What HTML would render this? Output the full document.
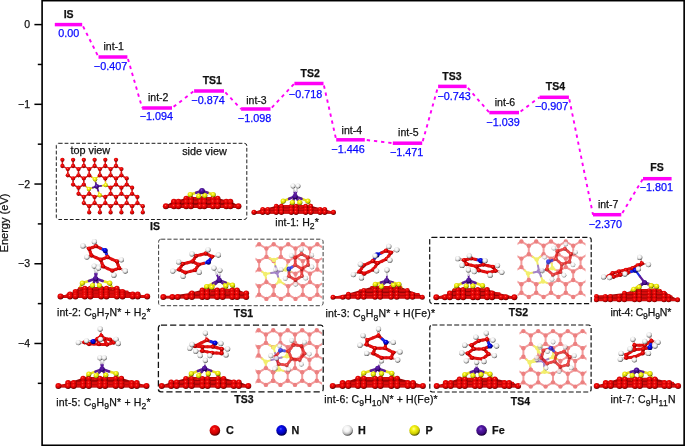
<!DOCTYPE html>
<html><head><meta charset="utf-8"><title>Energy profile</title>
<style>html,body{margin:0;padding:0;background:#fff}svg{display:block}</style></head>
<body><svg width="685" height="446" viewBox="0 0 685 446" font-family='"Liberation Sans", Arial, Helvetica, sans-serif' fill="#111"><style>text{stroke:#111;stroke-width:0.25px}text.b{fill:#0808ff;stroke:#0808ff}</style>
<defs>
<radialGradient id="gC" cx="42%" cy="36%" r="62%"><stop offset="0" stop-color="#ff6a58"/><stop offset="0.22" stop-color="#f40c0c"/><stop offset="0.7" stop-color="#cc0000"/><stop offset="1" stop-color="#5c0000"/></radialGradient>
<radialGradient id="gN" cx="42%" cy="36%" r="62%"><stop offset="0" stop-color="#5a6aff"/><stop offset="0.22" stop-color="#0a10f4"/><stop offset="0.7" stop-color="#0000b8"/><stop offset="1" stop-color="#00004a"/></radialGradient>
<radialGradient id="gH" cx="42%" cy="36%" r="62%"><stop offset="0" stop-color="#ffffff"/><stop offset="0.45" stop-color="#f2f2f2"/><stop offset="0.8" stop-color="#b8b8b8"/><stop offset="1" stop-color="#4e4e4e"/></radialGradient>
<radialGradient id="gP" cx="42%" cy="36%" r="62%"><stop offset="0" stop-color="#ffffa0"/><stop offset="0.3" stop-color="#f8f418"/><stop offset="0.75" stop-color="#cccc00"/><stop offset="1" stop-color="#5a5a00"/></radialGradient>
<radialGradient id="gF" cx="42%" cy="36%" r="62%"><stop offset="0" stop-color="#8a62d4"/><stop offset="0.3" stop-color="#5418a6"/><stop offset="0.75" stop-color="#3c0a80"/><stop offset="1" stop-color="#180038"/></radialGradient>
</defs>

<rect x="42.1" y="0.65" width="642.05" height="444.65000000000003" fill="none" stroke="#000" stroke-width="1.65"/>
<line x1="34.4" y1="24.60" x2="42.1" y2="24.60" stroke="#000" stroke-width="1.5"/>
<text x="30" y="28.30" text-anchor="end" font-size="10.5">0</text>
<line x1="37.8" y1="64.46" x2="42.1" y2="64.46" stroke="#000" stroke-width="1.5"/>
<line x1="34.4" y1="104.32" x2="42.1" y2="104.32" stroke="#000" stroke-width="1.5"/>
<text x="30" y="108.02" text-anchor="end" font-size="10.5">−1</text>
<line x1="37.8" y1="144.18" x2="42.1" y2="144.18" stroke="#000" stroke-width="1.5"/>
<line x1="34.4" y1="184.04" x2="42.1" y2="184.04" stroke="#000" stroke-width="1.5"/>
<text x="30" y="187.74" text-anchor="end" font-size="10.5">−2</text>
<line x1="37.8" y1="223.90" x2="42.1" y2="223.90" stroke="#000" stroke-width="1.5"/>
<line x1="34.4" y1="263.76" x2="42.1" y2="263.76" stroke="#000" stroke-width="1.5"/>
<text x="30" y="267.46" text-anchor="end" font-size="10.5">−3</text>
<line x1="37.8" y1="303.62" x2="42.1" y2="303.62" stroke="#000" stroke-width="1.5"/>
<line x1="34.4" y1="343.48" x2="42.1" y2="343.48" stroke="#000" stroke-width="1.5"/>
<text x="30" y="347.18" text-anchor="end" font-size="10.5">−4</text>
<line x1="37.8" y1="383.34" x2="42.1" y2="383.34" stroke="#000" stroke-width="1.5"/>
<text transform="translate(8.4,223) rotate(-90)" text-anchor="middle" font-size="11.05">Energy (eV)</text>
<line x1="82.2" y1="24.6" x2="98.5" y2="57.0" stroke="#ff00f6" stroke-width="1.9" stroke-dasharray="3.3 3.9" stroke-dashoffset="5.2"/>
<line x1="127.4" y1="57.0" x2="142.2" y2="108.0" stroke="#ff00f6" stroke-width="1.9" stroke-dasharray="3.3 3.9" stroke-dashoffset="5.2"/>
<line x1="172.0" y1="108.0" x2="194.1" y2="91.0" stroke="#ff00f6" stroke-width="1.9" stroke-dasharray="3.3 3.9" stroke-dashoffset="5.2"/>
<line x1="224.0" y1="91.0" x2="241.1" y2="109.0" stroke="#ff00f6" stroke-width="1.9" stroke-dasharray="3.3 3.9" stroke-dashoffset="5.2"/>
<line x1="270.5" y1="109.0" x2="294.4" y2="83.5" stroke="#ff00f6" stroke-width="1.9" stroke-dasharray="3.3 3.9" stroke-dashoffset="5.2"/>
<line x1="323.5" y1="83.5" x2="336.2" y2="139.8" stroke="#ff00f6" stroke-width="1.9" stroke-dasharray="3.3 3.9" stroke-dashoffset="5.2"/>
<line x1="364.8" y1="139.8" x2="392.8" y2="143.2" stroke="#ff00f6" stroke-width="1.9" stroke-dasharray="3.3 3.9" stroke-dashoffset="5.2"/>
<line x1="422.2" y1="143.2" x2="438.1" y2="86.4" stroke="#ff00f6" stroke-width="1.9" stroke-dasharray="3.3 3.9" stroke-dashoffset="5.2"/>
<line x1="466.6" y1="86.4" x2="489.3" y2="112.6" stroke="#ff00f6" stroke-width="1.9" stroke-dasharray="3.3 3.9" stroke-dashoffset="5.2"/>
<line x1="519.0" y1="112.6" x2="539.6" y2="97.3" stroke="#ff00f6" stroke-width="1.9" stroke-dasharray="3.3 3.9" stroke-dashoffset="5.2"/>
<line x1="568.9" y1="97.3" x2="593.0" y2="214.7" stroke="#ff00f6" stroke-width="1.9" stroke-dasharray="3.3 3.9" stroke-dashoffset="5.2"/>
<line x1="621.3" y1="214.7" x2="643.0" y2="178.7" stroke="#ff00f6" stroke-width="1.9" stroke-dasharray="3.3 3.9" stroke-dashoffset="5.2"/>
<line x1="54.8" y1="24.6" x2="82.2" y2="24.6" stroke="#ff00f6" stroke-width="3.5"/>
<text x="68.6" y="18.1" text-anchor="middle" font-size="10.5" font-weight="bold">IS</text>
<text x="68.8" y="37.2" text-anchor="middle" font-size="10.8" class="b">0.00</text>
<line x1="98.5" y1="57.0" x2="127.4" y2="57.0" stroke="#ff00f6" stroke-width="3.5"/>
<text x="113.7" y="50.2" text-anchor="middle" font-size="10.5">int-1</text>
<text x="110.5" y="70.3" text-anchor="middle" font-size="10.8" class="b">−0.407</text>
<line x1="142.2" y1="108.0" x2="172.0" y2="108.0" stroke="#ff00f6" stroke-width="3.5"/>
<text x="158.2" y="100.9" text-anchor="middle" font-size="10.5">int-2</text>
<text x="156.3" y="120.4" text-anchor="middle" font-size="10.8" class="b">−1.094</text>
<line x1="194.1" y1="91.0" x2="224.0" y2="91.0" stroke="#ff00f6" stroke-width="3.5"/>
<text x="212.3" y="84.0" text-anchor="middle" font-size="10.5" font-weight="bold">TS1</text>
<text x="208.0" y="103.6" text-anchor="middle" font-size="10.8" class="b">−0.874</text>
<line x1="241.1" y1="109.0" x2="270.5" y2="109.0" stroke="#ff00f6" stroke-width="3.5"/>
<text x="256.5" y="103.8" text-anchor="middle" font-size="10.5">int-3</text>
<text x="254.5" y="121.5" text-anchor="middle" font-size="10.8" class="b">−1.098</text>
<line x1="294.4" y1="83.5" x2="323.5" y2="83.5" stroke="#ff00f6" stroke-width="3.5"/>
<text x="310.2" y="76.6" text-anchor="middle" font-size="10.5" font-weight="bold">TS2</text>
<text x="305.5" y="97.5" text-anchor="middle" font-size="10.8" class="b">−0.718</text>
<line x1="336.2" y1="139.8" x2="364.8" y2="139.8" stroke="#ff00f6" stroke-width="3.5"/>
<text x="351.8" y="134.0" text-anchor="middle" font-size="10.5">int-4</text>
<text x="348.0" y="152.7" text-anchor="middle" font-size="10.8" class="b">−1.446</text>
<line x1="392.8" y1="143.2" x2="422.2" y2="143.2" stroke="#ff00f6" stroke-width="3.5"/>
<text x="408.3" y="136.4" text-anchor="middle" font-size="10.5">int-5</text>
<text x="406.6" y="156.3" text-anchor="middle" font-size="10.8" class="b">−1.471</text>
<line x1="438.1" y1="86.4" x2="466.6" y2="86.4" stroke="#ff00f6" stroke-width="3.5"/>
<text x="452.0" y="79.9" text-anchor="middle" font-size="10.5" font-weight="bold">TS3</text>
<text x="454.2" y="100.0" text-anchor="middle" font-size="10.8" class="b">−0.743</text>
<line x1="489.3" y1="112.6" x2="519.0" y2="112.6" stroke="#ff00f6" stroke-width="3.5"/>
<text x="505.0" y="105.9" text-anchor="middle" font-size="10.5">int-6</text>
<text x="503.0" y="125.5" text-anchor="middle" font-size="10.8" class="b">−1.039</text>
<line x1="539.6" y1="97.3" x2="568.9" y2="97.3" stroke="#ff00f6" stroke-width="3.5"/>
<text x="555.4" y="90.0" text-anchor="middle" font-size="10.5" font-weight="bold">TS4</text>
<text x="551.7" y="110.1" text-anchor="middle" font-size="10.8" class="b">−0.907</text>
<line x1="593.0" y1="214.7" x2="621.3" y2="214.7" stroke="#ff00f6" stroke-width="3.5"/>
<text x="608.1" y="208.4" text-anchor="middle" font-size="10.5">int-7</text>
<text x="605.4" y="227.5" text-anchor="middle" font-size="10.8" class="b">−2.370</text>
<line x1="643.0" y1="178.7" x2="671.6" y2="178.7" stroke="#ff00f6" stroke-width="3.5"/>
<text x="657.0" y="171.4" text-anchor="middle" font-size="10.5" font-weight="bold">FS</text>
<text x="656.3" y="191.4" text-anchor="middle" font-size="10.8" class="b">−1.801</text>
<rect x="56.3" y="143.3" width="190.5" height="76.2" rx="2.5" fill="none" stroke="#111" stroke-width="0.95" stroke-dasharray="3.8 2.0"/>
<rect x="158.6" y="239.2" width="164.5" height="66.5" rx="2.5" fill="none" stroke="#333" stroke-width="0.95" stroke-dasharray="4.2 2.0"/>
<rect x="429.7" y="237.3" width="161.5" height="66.3" rx="2.5" fill="none" stroke="#111" stroke-width="1.2" stroke-dasharray="5.2 2.3"/>
<rect x="158.4" y="325.2" width="164.8" height="66.6" rx="2.5" fill="none" stroke="#111" stroke-width="1.3" stroke-dasharray="6.2 3.0"/>
<rect x="429.8" y="325.0" width="161.3" height="67.0" rx="2.5" fill="none" stroke="#111" stroke-width="1.2" stroke-dasharray="5.0 2.3"/>
<text x="155" y="229.6" text-anchor="middle" font-size="10.5" font-weight="bold">IS</text>
<text x="275.2" y="226.2" text-anchor="start" font-size="10.5" textLength="43.6" lengthAdjust="spacing">int-1: H<tspan font-size="8.6" dy="3.2">2</tspan><tspan dy="-3.2">*</tspan></text>
<text x="56.9" y="315.8" text-anchor="start" font-size="10.5" textLength="93.6" lengthAdjust="spacing">int-2: C<tspan font-size="8.6" dy="3.2">9</tspan><tspan dy="-3.2">H</tspan><tspan font-size="8.6" dy="3.2">7</tspan><tspan dy="-3.2">N* + H</tspan><tspan font-size="8.6" dy="3.2">2</tspan><tspan dy="-3.2">*</tspan></text>
<text x="243.5" y="317.4" text-anchor="middle" font-size="10.5" font-weight="bold">TS1</text>
<text x="325.4" y="317.3" text-anchor="start" font-size="10.5" textLength="109.6" lengthAdjust="spacing">int-3: C<tspan font-size="8.6" dy="3.2">9</tspan><tspan dy="-3.2">H</tspan><tspan font-size="8.6" dy="3.2">8</tspan><tspan dy="-3.2">N* + H(Fe)*</tspan></text>
<text x="518.5" y="316.2" text-anchor="middle" font-size="10.5" font-weight="bold">TS2</text>
<text x="610.5" y="316.2" text-anchor="start" font-size="10.5" textLength="60.8" lengthAdjust="spacing">int-4: C<tspan font-size="8.6" dy="3.2">9</tspan><tspan dy="-3.2">H</tspan><tspan font-size="8.6" dy="3.2">9</tspan><tspan dy="-3.2">N*</tspan></text>
<text x="56.3" y="405.5" text-anchor="start" font-size="10.5" textLength="94.3" lengthAdjust="spacing">int-5: C<tspan font-size="8.6" dy="3.2">9</tspan><tspan dy="-3.2">H</tspan><tspan font-size="8.6" dy="3.2">9</tspan><tspan dy="-3.2">N* + H</tspan><tspan font-size="8.6" dy="3.2">2</tspan><tspan dy="-3.2">*</tspan></text>
<text x="244" y="403.2" text-anchor="middle" font-size="10.5" font-weight="bold">TS3</text>
<text x="324.3" y="402.9" text-anchor="start" font-size="10.5" textLength="113.3" lengthAdjust="spacing">int-6: C<tspan font-size="8.6" dy="3.2">9</tspan><tspan dy="-3.2">H</tspan><tspan font-size="8.6" dy="3.2">10</tspan><tspan dy="-3.2">N* + H(Fe)*</tspan></text>
<text x="520.4" y="405.4" text-anchor="middle" font-size="10.5" font-weight="bold">TS4</text>
<text x="610.5" y="402.9" text-anchor="start" font-size="10.5" textLength="65.0" lengthAdjust="spacing">int-7: C<tspan font-size="8.6" dy="3.2">9</tspan><tspan dy="-3.2">H</tspan><tspan font-size="8.6" dy="3.2">11</tspan><tspan dy="-3.2">N</tspan></text>
<text x="90.3" y="153.5" text-anchor="middle" font-size="10.85">top view</text>
<text x="204.5" y="155.3" text-anchor="middle" font-size="10.85">side view</text>
<circle cx="214.9" cy="430.4" r="5.3" fill="url(#gC)"/>
<text x="226" y="434.2" text-anchor="start" font-size="10.8" font-weight="bold">C</text>
<circle cx="281.6" cy="430.4" r="5.3" fill="url(#gN)"/>
<text x="291.6" y="434.2" text-anchor="start" font-size="10.8" font-weight="bold">N</text>
<circle cx="347.6" cy="430.4" r="5.3" fill="url(#gH)"/>
<text x="358.1" y="434.2" text-anchor="start" font-size="10.8" font-weight="bold">H</text>
<circle cx="414.6" cy="430.4" r="5.3" fill="url(#gP)"/>
<text x="425.6" y="434.2" text-anchor="start" font-size="10.8" font-weight="bold">P</text>
<circle cx="481.6" cy="430.4" r="5.3" fill="url(#gF)"/>
<text x="492.1" y="434.2" text-anchor="start" font-size="10.8" font-weight="bold">Fe</text>
<g stroke-linecap="round" fill="none"><path d="M62.4 159.8L62.4 162.9" stroke="#e01818" stroke-width="1.4"/>
<path d="M62.4 162.9L62.4 166.0" stroke="#e01818" stroke-width="1.4"/>
<path d="M62.4 166.0L65.1 167.5" stroke="#e01818" stroke-width="1.4"/>
<path d="M65.1 167.5L67.8 169.1" stroke="#e01818" stroke-width="1.4"/>
<path d="M73.1 159.8L73.1 162.9" stroke="#e01818" stroke-width="1.4"/>
<path d="M73.1 162.9L73.1 166.0" stroke="#e01818" stroke-width="1.4"/>
<path d="M73.1 166.0L75.8 167.5" stroke="#e01818" stroke-width="1.4"/>
<path d="M75.8 167.5L78.5 169.1" stroke="#e01818" stroke-width="1.4"/>
<path d="M73.1 166.0L70.4 167.5" stroke="#e01818" stroke-width="1.4"/>
<path d="M70.4 167.5L67.8 169.1" stroke="#e01818" stroke-width="1.4"/>
<path d="M83.8 159.8L83.8 162.9" stroke="#e01818" stroke-width="1.4"/>
<path d="M83.8 162.9L83.8 166.0" stroke="#e01818" stroke-width="1.4"/>
<path d="M83.8 166.0L86.5 167.5" stroke="#e01818" stroke-width="1.4"/>
<path d="M86.5 167.5L89.2 169.1" stroke="#e01818" stroke-width="1.4"/>
<path d="M83.8 166.0L81.2 167.5" stroke="#e01818" stroke-width="1.4"/>
<path d="M81.2 167.5L78.5 169.1" stroke="#e01818" stroke-width="1.4"/>
<path d="M94.6 159.8L94.6 162.9" stroke="#e01818" stroke-width="1.4"/>
<path d="M94.6 162.9L94.6 166.0" stroke="#e01818" stroke-width="1.4"/>
<path d="M94.6 166.0L97.2 167.5" stroke="#e01818" stroke-width="1.4"/>
<path d="M97.2 167.5L99.9 169.1" stroke="#e01818" stroke-width="1.4"/>
<path d="M94.6 166.0L91.9 167.5" stroke="#e01818" stroke-width="1.4"/>
<path d="M91.9 167.5L89.2 169.1" stroke="#e01818" stroke-width="1.4"/>
<path d="M105.3 159.8L105.3 162.9" stroke="#e01818" stroke-width="1.4"/>
<path d="M105.3 162.9L105.3 166.0" stroke="#e01818" stroke-width="1.4"/>
<path d="M105.3 166.0L108.0 167.5" stroke="#e01818" stroke-width="1.4"/>
<path d="M108.0 167.5L110.6 169.1" stroke="#e01818" stroke-width="1.4"/>
<path d="M105.3 166.0L102.6 167.5" stroke="#e01818" stroke-width="1.4"/>
<path d="M102.6 167.5L99.9 169.1" stroke="#e01818" stroke-width="1.4"/>
<path d="M116.0 159.8L116.0 162.9" stroke="#e01818" stroke-width="1.4"/>
<path d="M116.0 162.9L116.0 166.0" stroke="#e01818" stroke-width="1.4"/>
<path d="M116.0 166.0L118.7 167.5" stroke="#e01818" stroke-width="1.4"/>
<path d="M118.7 167.5L121.4 169.1" stroke="#e01818" stroke-width="1.4"/>
<path d="M116.0 166.0L113.3 167.5" stroke="#e01818" stroke-width="1.4"/>
<path d="M113.3 167.5L110.6 169.1" stroke="#e01818" stroke-width="1.4"/>
<path d="M67.8 169.1L67.8 172.2" stroke="#e01818" stroke-width="1.4"/>
<path d="M67.8 172.2L67.8 175.3" stroke="#e01818" stroke-width="1.4"/>
<path d="M67.8 175.3L70.4 176.8" stroke="#e01818" stroke-width="1.4"/>
<path d="M70.4 176.8L73.1 178.4" stroke="#e01818" stroke-width="1.4"/>
<path d="M78.5 169.1L78.5 172.2" stroke="#e01818" stroke-width="1.4"/>
<path d="M78.5 172.2L78.5 175.3" stroke="#e01818" stroke-width="1.4"/>
<path d="M78.5 175.3L81.2 176.8" stroke="#e01818" stroke-width="1.4"/>
<path d="M81.2 176.8L83.8 178.4" stroke="#e01818" stroke-width="1.4"/>
<path d="M78.5 175.3L75.8 176.8" stroke="#e01818" stroke-width="1.4"/>
<path d="M75.8 176.8L73.1 178.4" stroke="#e01818" stroke-width="1.4"/>
<path d="M89.2 169.1L89.2 172.2" stroke="#e01818" stroke-width="1.4"/>
<path d="M89.2 172.2L89.2 175.3" stroke="#e01818" stroke-width="1.4"/>
<path d="M89.2 175.3L92.1 177.3" stroke="#e01818" stroke-width="1.4"/>
<path d="M92.1 177.3L95.0 179.3" stroke="#e8e020" stroke-width="1.4"/>
<path d="M89.2 175.3L86.5 176.8" stroke="#e01818" stroke-width="1.4"/>
<path d="M86.5 176.8L83.8 178.4" stroke="#e01818" stroke-width="1.4"/>
<path d="M99.9 169.1L99.9 172.2" stroke="#e01818" stroke-width="1.4"/>
<path d="M99.9 172.2L99.9 175.3" stroke="#e01818" stroke-width="1.4"/>
<path d="M99.9 175.3L102.6 176.8" stroke="#e01818" stroke-width="1.4"/>
<path d="M102.6 176.8L105.3 178.4" stroke="#e01818" stroke-width="1.4"/>
<path d="M99.9 175.3L97.5 177.3" stroke="#e01818" stroke-width="1.4"/>
<path d="M97.5 177.3L95.0 179.3" stroke="#e8e020" stroke-width="1.4"/>
<path d="M110.6 169.1L110.6 172.2" stroke="#e01818" stroke-width="1.4"/>
<path d="M110.6 172.2L110.6 175.3" stroke="#e01818" stroke-width="1.4"/>
<path d="M110.6 175.3L113.3 176.8" stroke="#e01818" stroke-width="1.4"/>
<path d="M113.3 176.8L116.0 178.4" stroke="#e01818" stroke-width="1.4"/>
<path d="M110.6 175.3L108.0 176.8" stroke="#e01818" stroke-width="1.4"/>
<path d="M108.0 176.8L105.3 178.4" stroke="#e01818" stroke-width="1.4"/>
<path d="M121.4 169.1L121.4 172.2" stroke="#e01818" stroke-width="1.4"/>
<path d="M121.4 172.2L121.4 175.3" stroke="#e01818" stroke-width="1.4"/>
<path d="M121.4 175.3L124.0 176.8" stroke="#e01818" stroke-width="1.4"/>
<path d="M124.0 176.8L126.7 178.4" stroke="#e01818" stroke-width="1.4"/>
<path d="M121.4 175.3L118.7 176.8" stroke="#e01818" stroke-width="1.4"/>
<path d="M118.7 176.8L116.0 178.4" stroke="#e01818" stroke-width="1.4"/>
<path d="M73.1 178.4L73.1 181.5" stroke="#e01818" stroke-width="1.4"/>
<path d="M73.1 181.5L73.1 184.6" stroke="#e01818" stroke-width="1.4"/>
<path d="M73.1 184.6L75.8 186.1" stroke="#e01818" stroke-width="1.4"/>
<path d="M75.8 186.1L78.5 187.7" stroke="#e01818" stroke-width="1.4"/>
<path d="M83.8 178.4L83.8 181.5" stroke="#e01818" stroke-width="1.4"/>
<path d="M83.8 181.5L83.8 184.6" stroke="#e01818" stroke-width="1.4"/>
<path d="M83.8 184.6L86.4 186.8" stroke="#e01818" stroke-width="1.4"/>
<path d="M86.4 186.8L88.9 189.0" stroke="#e8e020" stroke-width="1.4"/>
<path d="M83.8 184.6L81.2 186.1" stroke="#e01818" stroke-width="1.4"/>
<path d="M81.2 186.1L78.5 187.7" stroke="#e01818" stroke-width="1.4"/>
<path d="M105.3 178.4L105.5 181.7" stroke="#e01818" stroke-width="1.4"/>
<path d="M105.5 181.7L105.7 185.1" stroke="#e8e020" stroke-width="1.4"/>
<path d="M105.7 185.1L108.2 186.4" stroke="#e8e020" stroke-width="1.4"/>
<path d="M108.2 186.4L110.6 187.7" stroke="#e01818" stroke-width="1.4"/>
<path d="M116.0 178.4L116.0 181.5" stroke="#e01818" stroke-width="1.4"/>
<path d="M116.0 181.5L116.0 184.6" stroke="#e01818" stroke-width="1.4"/>
<path d="M116.0 184.6L118.7 186.1" stroke="#e01818" stroke-width="1.4"/>
<path d="M118.7 186.1L121.4 187.7" stroke="#e01818" stroke-width="1.4"/>
<path d="M116.0 184.6L113.3 186.1" stroke="#e01818" stroke-width="1.4"/>
<path d="M113.3 186.1L110.6 187.7" stroke="#e01818" stroke-width="1.4"/>
<path d="M126.7 178.4L126.7 181.5" stroke="#e01818" stroke-width="1.4"/>
<path d="M126.7 181.5L126.7 184.6" stroke="#e01818" stroke-width="1.4"/>
<path d="M126.7 184.6L129.4 186.1" stroke="#e01818" stroke-width="1.4"/>
<path d="M129.4 186.1L132.1 187.7" stroke="#e01818" stroke-width="1.4"/>
<path d="M126.7 184.6L124.0 186.1" stroke="#e01818" stroke-width="1.4"/>
<path d="M124.0 186.1L121.4 187.7" stroke="#e01818" stroke-width="1.4"/>
<path d="M78.5 187.7L78.5 190.7" stroke="#e01818" stroke-width="1.4"/>
<path d="M78.5 190.7L78.5 193.8" stroke="#e01818" stroke-width="1.4"/>
<path d="M78.5 193.8L81.2 195.4" stroke="#e01818" stroke-width="1.4"/>
<path d="M81.2 195.4L83.8 196.9" stroke="#e01818" stroke-width="1.4"/>
<path d="M88.9 189.0L89.1 191.4" stroke="#e8e020" stroke-width="1.4"/>
<path d="M89.1 191.4L89.2 193.8" stroke="#e01818" stroke-width="1.4"/>
<path d="M89.2 193.8L91.9 195.4" stroke="#e01818" stroke-width="1.4"/>
<path d="M91.9 195.4L94.6 196.9" stroke="#e01818" stroke-width="1.4"/>
<path d="M89.2 193.8L86.5 195.4" stroke="#e01818" stroke-width="1.4"/>
<path d="M86.5 195.4L83.8 196.9" stroke="#e01818" stroke-width="1.4"/>
<path d="M99.8 195.2L102.5 196.1" stroke="#e8e020" stroke-width="1.4"/>
<path d="M102.5 196.1L105.3 196.9" stroke="#e01818" stroke-width="1.4"/>
<path d="M99.8 195.2L97.2 196.1" stroke="#e8e020" stroke-width="1.4"/>
<path d="M97.2 196.1L94.6 196.9" stroke="#e01818" stroke-width="1.4"/>
<path d="M110.6 187.7L110.6 190.7" stroke="#e01818" stroke-width="1.4"/>
<path d="M110.6 190.7L110.6 193.8" stroke="#e01818" stroke-width="1.4"/>
<path d="M110.6 193.8L113.3 195.4" stroke="#e01818" stroke-width="1.4"/>
<path d="M113.3 195.4L116.0 196.9" stroke="#e01818" stroke-width="1.4"/>
<path d="M110.6 193.8L108.0 195.4" stroke="#e01818" stroke-width="1.4"/>
<path d="M108.0 195.4L105.3 196.9" stroke="#e01818" stroke-width="1.4"/>
<path d="M121.4 187.7L121.4 190.7" stroke="#e01818" stroke-width="1.4"/>
<path d="M121.4 190.7L121.4 193.8" stroke="#e01818" stroke-width="1.4"/>
<path d="M121.4 193.8L124.0 195.4" stroke="#e01818" stroke-width="1.4"/>
<path d="M124.0 195.4L126.7 196.9" stroke="#e01818" stroke-width="1.4"/>
<path d="M121.4 193.8L118.7 195.4" stroke="#e01818" stroke-width="1.4"/>
<path d="M118.7 195.4L116.0 196.9" stroke="#e01818" stroke-width="1.4"/>
<path d="M132.1 187.7L132.1 190.7" stroke="#e01818" stroke-width="1.4"/>
<path d="M132.1 190.7L132.1 193.8" stroke="#e01818" stroke-width="1.4"/>
<path d="M132.1 193.8L134.8 195.4" stroke="#e01818" stroke-width="1.4"/>
<path d="M134.8 195.4L137.4 196.9" stroke="#e01818" stroke-width="1.4"/>
<path d="M132.1 193.8L129.4 195.4" stroke="#e01818" stroke-width="1.4"/>
<path d="M129.4 195.4L126.7 196.9" stroke="#e01818" stroke-width="1.4"/>
<path d="M83.8 196.9L83.8 200.0" stroke="#e01818" stroke-width="1.4"/>
<path d="M83.8 200.0L83.8 203.1" stroke="#e01818" stroke-width="1.4"/>
<path d="M83.8 203.1L86.5 204.7" stroke="#e01818" stroke-width="1.4"/>
<path d="M86.5 204.7L89.2 206.2" stroke="#e01818" stroke-width="1.4"/>
<path d="M94.6 196.9L94.6 200.0" stroke="#e01818" stroke-width="1.4"/>
<path d="M94.6 200.0L94.6 203.1" stroke="#e01818" stroke-width="1.4"/>
<path d="M94.6 203.1L97.2 204.7" stroke="#e01818" stroke-width="1.4"/>
<path d="M97.2 204.7L99.9 206.2" stroke="#e01818" stroke-width="1.4"/>
<path d="M94.6 203.1L91.9 204.7" stroke="#e01818" stroke-width="1.4"/>
<path d="M91.9 204.7L89.2 206.2" stroke="#e01818" stroke-width="1.4"/>
<path d="M105.3 196.9L105.3 200.0" stroke="#e01818" stroke-width="1.4"/>
<path d="M105.3 200.0L105.3 203.1" stroke="#e01818" stroke-width="1.4"/>
<path d="M105.3 203.1L108.0 204.7" stroke="#e01818" stroke-width="1.4"/>
<path d="M108.0 204.7L110.6 206.2" stroke="#e01818" stroke-width="1.4"/>
<path d="M105.3 203.1L102.6 204.7" stroke="#e01818" stroke-width="1.4"/>
<path d="M102.6 204.7L99.9 206.2" stroke="#e01818" stroke-width="1.4"/>
<path d="M116.0 196.9L116.0 200.0" stroke="#e01818" stroke-width="1.4"/>
<path d="M116.0 200.0L116.0 203.1" stroke="#e01818" stroke-width="1.4"/>
<path d="M116.0 203.1L118.7 204.7" stroke="#e01818" stroke-width="1.4"/>
<path d="M118.7 204.7L121.4 206.2" stroke="#e01818" stroke-width="1.4"/>
<path d="M116.0 203.1L113.3 204.7" stroke="#e01818" stroke-width="1.4"/>
<path d="M113.3 204.7L110.6 206.2" stroke="#e01818" stroke-width="1.4"/>
<path d="M126.7 196.9L126.7 200.0" stroke="#e01818" stroke-width="1.4"/>
<path d="M126.7 200.0L126.7 203.1" stroke="#e01818" stroke-width="1.4"/>
<path d="M126.7 203.1L129.4 204.7" stroke="#e01818" stroke-width="1.4"/>
<path d="M129.4 204.7L132.1 206.2" stroke="#e01818" stroke-width="1.4"/>
<path d="M126.7 203.1L124.0 204.7" stroke="#e01818" stroke-width="1.4"/>
<path d="M124.0 204.7L121.4 206.2" stroke="#e01818" stroke-width="1.4"/>
<path d="M137.4 196.9L137.4 200.0" stroke="#e01818" stroke-width="1.4"/>
<path d="M137.4 200.0L137.4 203.1" stroke="#e01818" stroke-width="1.4"/>
<path d="M137.4 203.1L140.1 204.7" stroke="#e01818" stroke-width="1.4"/>
<path d="M140.1 204.7L142.8 206.2" stroke="#e01818" stroke-width="1.4"/>
<path d="M137.4 203.1L134.8 204.7" stroke="#e01818" stroke-width="1.4"/>
<path d="M134.8 204.7L132.1 206.2" stroke="#e01818" stroke-width="1.4"/>
<path d="M89.2 206.2L89.2 209.3" stroke="#e01818" stroke-width="1.4"/>
<path d="M89.2 209.3L89.2 212.4" stroke="#e01818" stroke-width="1.4"/>
<path d="M99.9 206.2L99.9 209.3" stroke="#e01818" stroke-width="1.4"/>
<path d="M99.9 209.3L99.9 212.4" stroke="#e01818" stroke-width="1.4"/>
<path d="M110.6 206.2L110.6 209.3" stroke="#e01818" stroke-width="1.4"/>
<path d="M110.6 209.3L110.6 212.4" stroke="#e01818" stroke-width="1.4"/>
<path d="M121.4 206.2L121.4 209.3" stroke="#e01818" stroke-width="1.4"/>
<path d="M121.4 209.3L121.4 212.4" stroke="#e01818" stroke-width="1.4"/>
<path d="M132.1 206.2L132.1 209.3" stroke="#e01818" stroke-width="1.4"/>
<path d="M132.1 209.3L132.1 212.4" stroke="#e01818" stroke-width="1.4"/>
<path d="M142.8 206.2L142.8 209.3" stroke="#e01818" stroke-width="1.4"/>
<path d="M142.8 209.3L142.8 212.4" stroke="#e01818" stroke-width="1.4"/>
<path d="M95.0 179.3L95.8 182.9" stroke="#e8e020" stroke-width="1.8"/>
<path d="M95.8 182.9L96.7 186.4" stroke="#5a1a9a" stroke-width="1.8"/>
<path d="M105.7 185.1L101.2 185.8" stroke="#e8e020" stroke-width="1.8"/>
<path d="M101.2 185.8L96.7 186.4" stroke="#5a1a9a" stroke-width="1.8"/>
<path d="M88.9 189.0L92.8 187.7" stroke="#e8e020" stroke-width="1.8"/>
<path d="M92.8 187.7L96.7 186.4" stroke="#5a1a9a" stroke-width="1.8"/>
<path d="M99.8 195.2L98.2 190.8" stroke="#e8e020" stroke-width="1.8"/>
<path d="M98.2 190.8L96.7 186.4" stroke="#5a1a9a" stroke-width="1.8"/>
<circle cx="62.4" cy="159.8" r="2.15" fill="url(#gC)"/>
<circle cx="73.1" cy="159.8" r="2.15" fill="url(#gC)"/>
<circle cx="83.8" cy="159.8" r="2.15" fill="url(#gC)"/>
<circle cx="94.6" cy="159.8" r="2.15" fill="url(#gC)"/>
<circle cx="105.3" cy="159.8" r="2.15" fill="url(#gC)"/>
<circle cx="116.0" cy="159.8" r="2.15" fill="url(#gC)"/>
<circle cx="67.8" cy="169.1" r="2.15" fill="url(#gC)"/>
<circle cx="78.5" cy="169.1" r="2.15" fill="url(#gC)"/>
<circle cx="89.2" cy="169.1" r="2.15" fill="url(#gC)"/>
<circle cx="99.9" cy="169.1" r="2.15" fill="url(#gC)"/>
<circle cx="110.6" cy="169.1" r="2.15" fill="url(#gC)"/>
<circle cx="121.4" cy="169.1" r="2.15" fill="url(#gC)"/>
<circle cx="73.1" cy="178.4" r="2.15" fill="url(#gC)"/>
<circle cx="83.8" cy="178.4" r="2.15" fill="url(#gC)"/>
<circle cx="95.0" cy="179.3" r="2.20" fill="url(#gP)"/>
<circle cx="105.3" cy="178.4" r="2.15" fill="url(#gC)"/>
<circle cx="116.0" cy="178.4" r="2.15" fill="url(#gC)"/>
<circle cx="126.7" cy="178.4" r="2.15" fill="url(#gC)"/>
<circle cx="78.5" cy="187.7" r="2.15" fill="url(#gC)"/>
<circle cx="88.9" cy="189.0" r="2.20" fill="url(#gP)"/>
<circle cx="110.6" cy="187.7" r="2.15" fill="url(#gC)"/>
<circle cx="121.4" cy="187.7" r="2.15" fill="url(#gC)"/>
<circle cx="132.1" cy="187.7" r="2.15" fill="url(#gC)"/>
<circle cx="83.8" cy="196.9" r="2.15" fill="url(#gC)"/>
<circle cx="94.6" cy="196.9" r="2.15" fill="url(#gC)"/>
<circle cx="105.3" cy="196.9" r="2.15" fill="url(#gC)"/>
<circle cx="116.0" cy="196.9" r="2.15" fill="url(#gC)"/>
<circle cx="126.7" cy="196.9" r="2.15" fill="url(#gC)"/>
<circle cx="137.4" cy="196.9" r="2.15" fill="url(#gC)"/>
<circle cx="89.2" cy="206.2" r="2.15" fill="url(#gC)"/>
<circle cx="99.9" cy="206.2" r="2.15" fill="url(#gC)"/>
<circle cx="110.6" cy="206.2" r="2.15" fill="url(#gC)"/>
<circle cx="121.4" cy="206.2" r="2.15" fill="url(#gC)"/>
<circle cx="132.1" cy="206.2" r="2.15" fill="url(#gC)"/>
<circle cx="142.8" cy="206.2" r="2.15" fill="url(#gC)"/>
<circle cx="62.4" cy="166.0" r="2.15" fill="url(#gC)"/>
<circle cx="73.1" cy="166.0" r="2.15" fill="url(#gC)"/>
<circle cx="83.8" cy="166.0" r="2.15" fill="url(#gC)"/>
<circle cx="94.6" cy="166.0" r="2.15" fill="url(#gC)"/>
<circle cx="105.3" cy="166.0" r="2.15" fill="url(#gC)"/>
<circle cx="116.0" cy="166.0" r="2.15" fill="url(#gC)"/>
<circle cx="67.8" cy="175.3" r="2.15" fill="url(#gC)"/>
<circle cx="78.5" cy="175.3" r="2.15" fill="url(#gC)"/>
<circle cx="89.2" cy="175.3" r="2.15" fill="url(#gC)"/>
<circle cx="99.9" cy="175.3" r="2.15" fill="url(#gC)"/>
<circle cx="110.6" cy="175.3" r="2.15" fill="url(#gC)"/>
<circle cx="121.4" cy="175.3" r="2.15" fill="url(#gC)"/>
<circle cx="73.1" cy="184.6" r="2.15" fill="url(#gC)"/>
<circle cx="83.8" cy="184.6" r="2.15" fill="url(#gC)"/>
<circle cx="105.7" cy="185.1" r="2.20" fill="url(#gP)"/>
<circle cx="116.0" cy="184.6" r="2.15" fill="url(#gC)"/>
<circle cx="126.7" cy="184.6" r="2.15" fill="url(#gC)"/>
<circle cx="78.5" cy="193.8" r="2.15" fill="url(#gC)"/>
<circle cx="89.2" cy="193.8" r="2.15" fill="url(#gC)"/>
<circle cx="99.8" cy="195.2" r="2.20" fill="url(#gP)"/>
<circle cx="110.6" cy="193.8" r="2.15" fill="url(#gC)"/>
<circle cx="121.4" cy="193.8" r="2.15" fill="url(#gC)"/>
<circle cx="132.1" cy="193.8" r="2.15" fill="url(#gC)"/>
<circle cx="83.8" cy="203.1" r="2.15" fill="url(#gC)"/>
<circle cx="94.6" cy="203.1" r="2.15" fill="url(#gC)"/>
<circle cx="105.3" cy="203.1" r="2.15" fill="url(#gC)"/>
<circle cx="116.0" cy="203.1" r="2.15" fill="url(#gC)"/>
<circle cx="126.7" cy="203.1" r="2.15" fill="url(#gC)"/>
<circle cx="137.4" cy="203.1" r="2.15" fill="url(#gC)"/>
<circle cx="89.2" cy="212.4" r="2.15" fill="url(#gC)"/>
<circle cx="99.9" cy="212.4" r="2.15" fill="url(#gC)"/>
<circle cx="110.6" cy="212.4" r="2.15" fill="url(#gC)"/>
<circle cx="121.4" cy="212.4" r="2.15" fill="url(#gC)"/>
<circle cx="132.1" cy="212.4" r="2.15" fill="url(#gC)"/>
<circle cx="142.8" cy="212.4" r="2.15" fill="url(#gC)"/>
<circle cx="96.7" cy="186.4" r="2.30" fill="url(#gF)"/>
<path d="M165.9 208.0L238.4 208.0L239.6 206.3L231.8 201.8L219.4 198.4L218.2 196.9L185.5 196.9L184.3 198.4L172.3 201.8L164.7 206.3Z" fill="#9c0404"/>
<path d="M190.2 194.6L187.6 198.4" stroke="#d8d018" stroke-width="2.2"/>
<path d="M213.2 194.6L215.7 198.4" stroke="#d8d018" stroke-width="2.2"/>
<path d="M198.7 196.2L198.0 198.4" stroke="#d8d018" stroke-width="2.2"/>
<path d="M204.8 195.6L205.4 198.4" stroke="#d8d018" stroke-width="2.2"/>
<path d="M185.5 198.4L218.2 198.4" stroke="#d80c0c" stroke-width="2.4"/>
<circle cx="186.2" cy="198.4" r="2.75" fill="url(#gC)"/>
<circle cx="190.9" cy="198.4" r="2.75" fill="url(#gC)"/>
<circle cx="200.0" cy="198.4" r="2.75" fill="url(#gC)"/>
<circle cx="204.3" cy="198.4" r="2.75" fill="url(#gC)"/>
<circle cx="213.0" cy="198.4" r="2.75" fill="url(#gC)"/>
<circle cx="217.7" cy="198.4" r="2.75" fill="url(#gC)"/>
<path d="M173.5 201.8L230.6 201.8" stroke="#d80c0c" stroke-width="2.4"/>
<circle cx="173.9" cy="201.8" r="2.93" fill="url(#gC)"/>
<circle cx="178.4" cy="201.8" r="2.93" fill="url(#gC)"/>
<circle cx="186.2" cy="201.8" r="2.93" fill="url(#gC)"/>
<circle cx="190.9" cy="201.8" r="2.93" fill="url(#gC)"/>
<circle cx="200.0" cy="201.8" r="2.93" fill="url(#gC)"/>
<circle cx="204.3" cy="201.8" r="2.93" fill="url(#gC)"/>
<circle cx="213.0" cy="201.8" r="2.93" fill="url(#gC)"/>
<circle cx="217.7" cy="201.8" r="2.93" fill="url(#gC)"/>
<circle cx="226.3" cy="201.8" r="2.93" fill="url(#gC)"/>
<circle cx="230.4" cy="201.8" r="2.93" fill="url(#gC)"/>
<path d="M165.9 206.3L238.4 206.3" stroke="#d80c0c" stroke-width="2.6"/>
<circle cx="165.9" cy="206.3" r="3.05" fill="url(#gC)"/>
<circle cx="173.9" cy="206.3" r="3.05" fill="url(#gC)"/>
<circle cx="178.4" cy="206.3" r="3.05" fill="url(#gC)"/>
<circle cx="186.2" cy="206.3" r="3.05" fill="url(#gC)"/>
<circle cx="190.9" cy="206.3" r="3.05" fill="url(#gC)"/>
<circle cx="200.0" cy="206.3" r="3.05" fill="url(#gC)"/>
<circle cx="204.3" cy="206.3" r="3.05" fill="url(#gC)"/>
<circle cx="213.0" cy="206.3" r="3.05" fill="url(#gC)"/>
<circle cx="217.7" cy="206.3" r="3.05" fill="url(#gC)"/>
<circle cx="226.3" cy="206.3" r="3.05" fill="url(#gC)"/>
<circle cx="230.4" cy="206.3" r="3.05" fill="url(#gC)"/>
<circle cx="238.4" cy="206.3" r="3.05" fill="url(#gC)"/>
<path d="M190.2 194.6L196.1 192.7" stroke="#e8e020" stroke-width="2.6"/>
<path d="M196.1 192.7L202.0 190.8" stroke="#5a1a9a" stroke-width="2.6"/>
<path d="M213.2 194.6L207.6 192.7" stroke="#e8e020" stroke-width="2.6"/>
<path d="M207.6 192.7L202.0 190.8" stroke="#5a1a9a" stroke-width="2.6"/>
<path d="M198.7 196.2L200.3 193.5" stroke="#e8e020" stroke-width="2.6"/>
<path d="M200.3 193.5L202.0 190.8" stroke="#5a1a9a" stroke-width="2.6"/>
<path d="M204.8 195.6L203.4 193.2" stroke="#e8e020" stroke-width="2.6"/>
<path d="M203.4 193.2L202.0 190.8" stroke="#5a1a9a" stroke-width="2.6"/>
<circle cx="190.2" cy="194.6" r="2.60" fill="url(#gP)"/>
<circle cx="213.2" cy="194.6" r="2.60" fill="url(#gP)"/>
<circle cx="198.7" cy="196.2" r="2.60" fill="url(#gP)"/>
<circle cx="204.8" cy="195.6" r="2.60" fill="url(#gP)"/>
<circle cx="202.0" cy="190.8" r="2.90" fill="url(#gF)"/>
<path d="M254.0 213.7L333.4 213.7L334.4 212.3L325.8 209.4L312.4 206.2L311.4 204.9L276.0 204.9L275.0 206.2L261.6 209.4L253.0 212.3Z" fill="#9c0404"/>
<path d="M283.2 201.1L280.6 206.2" stroke="#d8d018" stroke-width="2.2"/>
<path d="M307.9 201.1L310.7 206.2" stroke="#d8d018" stroke-width="2.2"/>
<path d="M292.4 202.5L291.8 206.2" stroke="#d8d018" stroke-width="2.2"/>
<path d="M299.8 202.5L300.8 206.2" stroke="#d8d018" stroke-width="2.2"/>
<path d="M276.0 206.2L311.4 206.2" stroke="#d80c0c" stroke-width="2.4"/>
<circle cx="276.2" cy="206.2" r="2.34" fill="url(#gC)"/>
<circle cx="281.4" cy="206.2" r="2.34" fill="url(#gC)"/>
<circle cx="291.3" cy="206.2" r="2.34" fill="url(#gC)"/>
<circle cx="296.1" cy="206.2" r="2.34" fill="url(#gC)"/>
<circle cx="305.6" cy="206.2" r="2.34" fill="url(#gC)"/>
<circle cx="310.8" cy="206.2" r="2.34" fill="url(#gC)"/>
<path d="M262.6 209.4L324.8 209.4" stroke="#d80c0c" stroke-width="2.4"/>
<circle cx="262.7" cy="209.4" r="2.50" fill="url(#gC)"/>
<circle cx="267.7" cy="209.4" r="2.50" fill="url(#gC)"/>
<circle cx="276.2" cy="209.4" r="2.50" fill="url(#gC)"/>
<circle cx="281.4" cy="209.4" r="2.50" fill="url(#gC)"/>
<circle cx="291.3" cy="209.4" r="2.50" fill="url(#gC)"/>
<circle cx="296.1" cy="209.4" r="2.50" fill="url(#gC)"/>
<circle cx="305.6" cy="209.4" r="2.50" fill="url(#gC)"/>
<circle cx="310.8" cy="209.4" r="2.50" fill="url(#gC)"/>
<circle cx="320.1" cy="209.4" r="2.50" fill="url(#gC)"/>
<circle cx="324.7" cy="209.4" r="2.50" fill="url(#gC)"/>
<path d="M254.0 212.3L333.4 212.3" stroke="#d80c0c" stroke-width="2.6"/>
<circle cx="254.0" cy="212.3" r="2.60" fill="url(#gC)"/>
<circle cx="262.7" cy="212.3" r="2.60" fill="url(#gC)"/>
<circle cx="267.7" cy="212.3" r="2.60" fill="url(#gC)"/>
<circle cx="276.2" cy="212.3" r="2.60" fill="url(#gC)"/>
<circle cx="281.4" cy="212.3" r="2.60" fill="url(#gC)"/>
<circle cx="291.3" cy="212.3" r="2.60" fill="url(#gC)"/>
<circle cx="296.1" cy="212.3" r="2.60" fill="url(#gC)"/>
<circle cx="305.6" cy="212.3" r="2.60" fill="url(#gC)"/>
<circle cx="310.8" cy="212.3" r="2.60" fill="url(#gC)"/>
<circle cx="320.1" cy="212.3" r="2.60" fill="url(#gC)"/>
<circle cx="324.7" cy="212.3" r="2.60" fill="url(#gC)"/>
<circle cx="333.4" cy="212.3" r="2.60" fill="url(#gC)"/>
<path d="M283.2 201.1L289.1 198.8" stroke="#e8e020" stroke-width="2.6"/>
<path d="M289.1 198.8L295.1 196.4" stroke="#5a1a9a" stroke-width="2.6"/>
<path d="M307.9 201.1L301.5 198.8" stroke="#e8e020" stroke-width="2.6"/>
<path d="M301.5 198.8L295.1 196.4" stroke="#5a1a9a" stroke-width="2.6"/>
<path d="M292.4 202.5L293.8 199.4" stroke="#e8e020" stroke-width="2.6"/>
<path d="M293.8 199.4L295.1 196.4" stroke="#5a1a9a" stroke-width="2.6"/>
<path d="M299.8 202.5L297.5 199.4" stroke="#e8e020" stroke-width="2.6"/>
<path d="M297.5 199.4L295.1 196.4" stroke="#5a1a9a" stroke-width="2.6"/>
<circle cx="283.2" cy="201.1" r="2.60" fill="url(#gP)"/>
<circle cx="307.9" cy="201.1" r="2.60" fill="url(#gP)"/>
<circle cx="292.4" cy="202.5" r="2.60" fill="url(#gP)"/>
<circle cx="299.8" cy="202.5" r="2.60" fill="url(#gP)"/>
<circle cx="295.1" cy="196.4" r="2.60" fill="url(#gF)"/>
<path d="M295.1 196.4L294.1 191.2" stroke="#5a1a9a" stroke-width="1.8"/>
<path d="M294.1 191.2L293.0 185.9" stroke="#d8d8d8" stroke-width="1.8"/>
<path d="M295.1 196.4L296.6 191.2" stroke="#5a1a9a" stroke-width="1.8"/>
<path d="M296.6 191.2L298.0 185.9" stroke="#d8d8d8" stroke-width="1.8"/>
<circle cx="293.0" cy="185.9" r="2.50" fill="url(#gH)"/>
<circle cx="298.0" cy="185.9" r="2.50" fill="url(#gH)"/>
<path d="M60.5 298.0L147.2 298.0L148.4 296.4L139.6 294.4L128.6 291.8L117.4 288.4L116.2 286.9L79.1 286.9L77.9 288.4L74.8 291.8L66.4 294.4L59.3 296.4Z" fill="#9c0404"/>
<path d="M82.3 283.1L79.4 288.4" stroke="#d8d018" stroke-width="2.2"/>
<path d="M109.7 283.1L112.8 288.4" stroke="#d8d018" stroke-width="2.2"/>
<path d="M92.5 285.5L91.8 288.4" stroke="#d8d018" stroke-width="2.2"/>
<path d="M99.5 285.5L100.4 288.4" stroke="#d8d018" stroke-width="2.2"/>
<path d="M79.1 288.4L116.2 288.4" stroke="#d80c0c" stroke-width="2.4"/>
<circle cx="84.8" cy="288.4" r="2.70" fill="url(#gC)"/>
<circle cx="90.4" cy="288.4" r="2.70" fill="url(#gC)"/>
<circle cx="101.2" cy="288.4" r="2.70" fill="url(#gC)"/>
<circle cx="106.5" cy="288.4" r="2.70" fill="url(#gC)"/>
<circle cx="116.9" cy="288.4" r="2.70" fill="url(#gC)"/>
<path d="M76.0 291.8L127.4 291.8" stroke="#d80c0c" stroke-width="2.4"/>
<circle cx="75.5" cy="291.8" r="2.88" fill="url(#gC)"/>
<circle cx="84.8" cy="291.8" r="2.88" fill="url(#gC)"/>
<circle cx="90.4" cy="291.8" r="2.88" fill="url(#gC)"/>
<circle cx="101.2" cy="291.8" r="2.88" fill="url(#gC)"/>
<circle cx="106.5" cy="291.8" r="2.88" fill="url(#gC)"/>
<circle cx="116.9" cy="291.8" r="2.88" fill="url(#gC)"/>
<circle cx="122.5" cy="291.8" r="2.88" fill="url(#gC)"/>
<path d="M67.6 294.4L138.4 294.4" stroke="#d80c0c" stroke-width="2.4"/>
<circle cx="70.0" cy="294.4" r="2.88" fill="url(#gC)"/>
<circle cx="75.5" cy="294.4" r="2.88" fill="url(#gC)"/>
<circle cx="84.8" cy="294.4" r="2.88" fill="url(#gC)"/>
<circle cx="90.4" cy="294.4" r="2.88" fill="url(#gC)"/>
<circle cx="101.2" cy="294.4" r="2.88" fill="url(#gC)"/>
<circle cx="106.5" cy="294.4" r="2.88" fill="url(#gC)"/>
<circle cx="116.9" cy="294.4" r="2.88" fill="url(#gC)"/>
<circle cx="122.5" cy="294.4" r="2.88" fill="url(#gC)"/>
<circle cx="132.7" cy="294.4" r="2.88" fill="url(#gC)"/>
<circle cx="137.7" cy="294.4" r="2.88" fill="url(#gC)"/>
<path d="M60.5 296.4L147.2 296.4" stroke="#d80c0c" stroke-width="2.6"/>
<circle cx="60.5" cy="296.4" r="3.00" fill="url(#gC)"/>
<circle cx="70.0" cy="296.4" r="3.00" fill="url(#gC)"/>
<circle cx="75.5" cy="296.4" r="3.00" fill="url(#gC)"/>
<circle cx="84.8" cy="296.4" r="3.00" fill="url(#gC)"/>
<circle cx="90.4" cy="296.4" r="3.00" fill="url(#gC)"/>
<circle cx="101.2" cy="296.4" r="3.00" fill="url(#gC)"/>
<circle cx="106.5" cy="296.4" r="3.00" fill="url(#gC)"/>
<circle cx="116.9" cy="296.4" r="3.00" fill="url(#gC)"/>
<circle cx="122.5" cy="296.4" r="3.00" fill="url(#gC)"/>
<circle cx="132.7" cy="296.4" r="3.00" fill="url(#gC)"/>
<circle cx="137.7" cy="296.4" r="3.00" fill="url(#gC)"/>
<circle cx="147.2" cy="296.4" r="3.00" fill="url(#gC)"/>
<path d="M82.3 283.1L88.9 280.9" stroke="#e8e020" stroke-width="2.6"/>
<path d="M88.9 280.9L95.6 278.6" stroke="#5a1a9a" stroke-width="2.6"/>
<path d="M109.7 283.1L102.7 280.9" stroke="#e8e020" stroke-width="2.6"/>
<path d="M102.7 280.9L95.6 278.6" stroke="#5a1a9a" stroke-width="2.6"/>
<path d="M92.5 285.5L94.0 282.1" stroke="#e8e020" stroke-width="2.6"/>
<path d="M94.0 282.1L95.6 278.6" stroke="#5a1a9a" stroke-width="2.6"/>
<path d="M99.5 285.5L97.5 282.1" stroke="#e8e020" stroke-width="2.6"/>
<path d="M97.5 282.1L95.6 278.6" stroke="#5a1a9a" stroke-width="2.6"/>
<circle cx="82.3" cy="283.1" r="2.60" fill="url(#gP)"/>
<circle cx="109.7" cy="283.1" r="2.60" fill="url(#gP)"/>
<circle cx="92.5" cy="285.5" r="2.60" fill="url(#gP)"/>
<circle cx="99.5" cy="285.5" r="2.60" fill="url(#gP)"/>
<circle cx="95.6" cy="278.6" r="2.60" fill="url(#gF)"/>
<path d="M95.6 278.6L94.9 272.4" stroke="#5a1a9a" stroke-width="1.8"/>
<path d="M94.9 272.4L94.2 266.1" stroke="#d8d8d8" stroke-width="1.8"/>
<path d="M95.6 278.6L97.2 272.6" stroke="#5a1a9a" stroke-width="1.8"/>
<path d="M97.2 272.6L98.9 266.6" stroke="#d8d8d8" stroke-width="1.8"/>
<circle cx="94.2" cy="266.1" r="2.60" fill="url(#gH)"/>
<circle cx="98.9" cy="266.6" r="2.60" fill="url(#gH)"/>
<path d="M96.0 246.2L95.2 244.0" stroke="#e01010" stroke-width="1.8"/>
<path d="M95.2 244.0L94.4 241.7" stroke="#d8d8d8" stroke-width="1.8"/>
<path d="M89.1 248.7L86.0 247.3" stroke="#e01010" stroke-width="1.8"/>
<path d="M86.0 247.3L83.0 245.9" stroke="#d8d8d8" stroke-width="1.8"/>
<path d="M91.4 255.5L89.2 256.3" stroke="#e01010" stroke-width="1.8"/>
<path d="M89.2 256.3L86.9 257.1" stroke="#d8d8d8" stroke-width="1.8"/>
<path d="M116.9 261.4L119.1 260.6" stroke="#e01010" stroke-width="1.8"/>
<path d="M119.1 260.6L121.4 259.8" stroke="#d8d8d8" stroke-width="1.8"/>
<path d="M119.2 268.2L122.3 269.6" stroke="#e01010" stroke-width="1.8"/>
<path d="M122.3 269.6L125.3 271.0" stroke="#d8d8d8" stroke-width="1.8"/>
<path d="M112.3 270.7L113.1 272.9" stroke="#e01010" stroke-width="1.8"/>
<path d="M113.1 272.9L113.9 275.2" stroke="#d8d8d8" stroke-width="1.8"/>
<path d="M103.1 266.4L100.8 267.3" stroke="#e01010" stroke-width="1.8"/>
<path d="M100.8 267.3L98.5 268.1" stroke="#d8d8d8" stroke-width="1.8"/>
<path d="M105.2 250.5L100.6 248.3" stroke="#1428e8" stroke-width="3.0"/>
<path d="M100.6 248.3L96.0 246.2" stroke="#e01010" stroke-width="3.0"/>
<path d="M96.0 246.2L92.5 247.5" stroke="#e01010" stroke-width="3.0"/>
<path d="M92.5 247.5L89.1 248.7" stroke="#e01010" stroke-width="3.0"/>
<path d="M89.1 248.7L90.3 252.1" stroke="#e01010" stroke-width="3.0"/>
<path d="M90.3 252.1L91.4 255.5" stroke="#e01010" stroke-width="3.0"/>
<path d="M91.4 255.5L96.1 257.6" stroke="#e01010" stroke-width="3.0"/>
<path d="M96.1 257.6L100.7 259.7" stroke="#e01010" stroke-width="3.0"/>
<path d="M100.7 259.7L104.2 258.4" stroke="#e01010" stroke-width="3.0"/>
<path d="M104.2 258.4L107.6 257.2" stroke="#e01010" stroke-width="3.0"/>
<path d="M107.6 257.2L106.4 253.8" stroke="#e01010" stroke-width="3.0"/>
<path d="M106.4 253.8L105.2 250.5" stroke="#1428e8" stroke-width="3.0"/>
<path d="M107.6 257.2L112.2 259.3" stroke="#e01010" stroke-width="3.0"/>
<path d="M112.2 259.3L116.9 261.4" stroke="#e01010" stroke-width="3.0"/>
<path d="M116.9 261.4L118.0 264.8" stroke="#e01010" stroke-width="3.0"/>
<path d="M118.0 264.8L119.2 268.2" stroke="#e01010" stroke-width="3.0"/>
<path d="M119.2 268.2L115.8 269.4" stroke="#e01010" stroke-width="3.0"/>
<path d="M115.8 269.4L112.3 270.7" stroke="#e01010" stroke-width="3.0"/>
<path d="M112.3 270.7L107.7 268.6" stroke="#e01010" stroke-width="3.0"/>
<path d="M107.7 268.6L103.1 266.4" stroke="#e01010" stroke-width="3.0"/>
<path d="M103.1 266.4L101.9 263.1" stroke="#e01010" stroke-width="3.0"/>
<path d="M101.9 263.1L100.7 259.7" stroke="#e01010" stroke-width="3.0"/>
<circle cx="105.2" cy="250.5" r="2.55" fill="url(#gN)"/>
<circle cx="96.0" cy="246.2" r="2.15" fill="url(#gC)"/>
<circle cx="89.1" cy="248.7" r="2.15" fill="url(#gC)"/>
<circle cx="91.4" cy="255.5" r="2.15" fill="url(#gC)"/>
<circle cx="100.7" cy="259.7" r="2.15" fill="url(#gC)"/>
<circle cx="107.6" cy="257.2" r="2.15" fill="url(#gC)"/>
<circle cx="116.9" cy="261.4" r="2.15" fill="url(#gC)"/>
<circle cx="119.2" cy="268.2" r="2.15" fill="url(#gC)"/>
<circle cx="112.3" cy="270.7" r="2.15" fill="url(#gC)"/>
<circle cx="103.1" cy="266.4" r="2.15" fill="url(#gC)"/>
<circle cx="94.4" cy="241.7" r="2.65" fill="url(#gH)"/>
<circle cx="83.0" cy="245.9" r="2.65" fill="url(#gH)"/>
<circle cx="86.9" cy="257.1" r="2.65" fill="url(#gH)"/>
<circle cx="121.4" cy="259.8" r="2.65" fill="url(#gH)"/>
<circle cx="125.3" cy="271.0" r="2.65" fill="url(#gH)"/>
<circle cx="113.9" cy="275.2" r="2.65" fill="url(#gH)"/>
<circle cx="98.5" cy="268.1" r="2.65" fill="url(#gH)"/>
<path d="M163.3 298.6L246.2 298.6L247.4 297.0L246.6 293.3L239.6 290.3L238.4 288.8L201.6 288.8L200.4 290.3L188.4 293.3L162.1 297.0Z" fill="#9c0404"/>
<path d="M206.6 286.6L203.8 290.3" stroke="#d8d018" stroke-width="2.2"/>
<path d="M232.5 285.1L235.4 290.3" stroke="#d8d018" stroke-width="2.2"/>
<path d="M211.8 287.3L210.2 290.3" stroke="#d8d018" stroke-width="2.2"/>
<path d="M225.8 285.9L227.3 290.3" stroke="#d8d018" stroke-width="2.2"/>
<path d="M201.6 290.3L238.4 290.3" stroke="#d80c0c" stroke-width="2.4"/>
<circle cx="202.3" cy="290.3" r="2.70" fill="url(#gC)"/>
<circle cx="207.2" cy="290.3" r="2.70" fill="url(#gC)"/>
<circle cx="217.2" cy="290.3" r="2.70" fill="url(#gC)"/>
<circle cx="222.6" cy="290.3" r="2.70" fill="url(#gC)"/>
<circle cx="232.3" cy="290.3" r="2.70" fill="url(#gC)"/>
<circle cx="237.1" cy="290.3" r="2.70" fill="url(#gC)"/>
<path d="M189.6 293.3L245.4 293.3" stroke="#d80c0c" stroke-width="2.4"/>
<circle cx="191.9" cy="293.3" r="2.88" fill="url(#gC)"/>
<circle cx="202.3" cy="293.3" r="2.88" fill="url(#gC)"/>
<circle cx="207.2" cy="293.3" r="2.88" fill="url(#gC)"/>
<circle cx="217.2" cy="293.3" r="2.88" fill="url(#gC)"/>
<circle cx="222.6" cy="293.3" r="2.88" fill="url(#gC)"/>
<circle cx="232.3" cy="293.3" r="2.88" fill="url(#gC)"/>
<circle cx="237.1" cy="293.3" r="2.88" fill="url(#gC)"/>
<circle cx="246.2" cy="293.3" r="2.88" fill="url(#gC)"/>
<path d="M163.3 297.0L246.2 297.0" stroke="#d80c0c" stroke-width="2.6"/>
<circle cx="163.3" cy="297.0" r="3.00" fill="url(#gC)"/>
<circle cx="172.4" cy="297.0" r="3.00" fill="url(#gC)"/>
<circle cx="177.6" cy="297.0" r="3.00" fill="url(#gC)"/>
<circle cx="186.5" cy="297.0" r="3.00" fill="url(#gC)"/>
<circle cx="191.9" cy="297.0" r="3.00" fill="url(#gC)"/>
<circle cx="202.3" cy="297.0" r="3.00" fill="url(#gC)"/>
<circle cx="207.2" cy="297.0" r="3.00" fill="url(#gC)"/>
<circle cx="217.2" cy="297.0" r="3.00" fill="url(#gC)"/>
<circle cx="222.6" cy="297.0" r="3.00" fill="url(#gC)"/>
<circle cx="232.3" cy="297.0" r="3.00" fill="url(#gC)"/>
<circle cx="237.1" cy="297.0" r="3.00" fill="url(#gC)"/>
<circle cx="246.2" cy="297.0" r="3.00" fill="url(#gC)"/>
<path d="M206.6 286.6L212.9 283.4" stroke="#e8e020" stroke-width="2.6"/>
<path d="M212.9 283.4L219.2 280.2" stroke="#5a1a9a" stroke-width="2.6"/>
<path d="M232.5 285.1L225.8 282.6" stroke="#e8e020" stroke-width="2.6"/>
<path d="M225.8 282.6L219.2 280.2" stroke="#5a1a9a" stroke-width="2.6"/>
<path d="M211.8 287.3L215.5 283.8" stroke="#e8e020" stroke-width="2.6"/>
<path d="M215.5 283.8L219.2 280.2" stroke="#5a1a9a" stroke-width="2.6"/>
<path d="M225.8 285.9L222.5 283.0" stroke="#e8e020" stroke-width="2.6"/>
<path d="M222.5 283.0L219.2 280.2" stroke="#5a1a9a" stroke-width="2.6"/>
<circle cx="206.6" cy="286.6" r="2.60" fill="url(#gP)"/>
<circle cx="232.5" cy="285.1" r="2.60" fill="url(#gP)"/>
<circle cx="211.8" cy="287.3" r="2.60" fill="url(#gP)"/>
<circle cx="225.8" cy="285.9" r="2.60" fill="url(#gP)"/>
<circle cx="219.2" cy="280.2" r="2.60" fill="url(#gF)"/>
<path d="M219.2 280.2L216.6 274.1" stroke="#5a1a9a" stroke-width="1.8"/>
<path d="M216.6 274.1L214.0 268.1" stroke="#d8d8d8" stroke-width="1.8"/>
<path d="M219.2 280.2L219.6 275.2" stroke="#5a1a9a" stroke-width="1.8"/>
<path d="M219.6 275.2L219.9 270.3" stroke="#d8d8d8" stroke-width="1.8"/>
<circle cx="214.0" cy="268.1" r="2.60" fill="url(#gH)"/>
<circle cx="219.9" cy="270.3" r="2.60" fill="url(#gH)"/>
<path d="M182.7 264.0L180.7 262.9" stroke="#e01010" stroke-width="1.8"/>
<path d="M180.7 262.9L178.7 261.9" stroke="#d8d8d8" stroke-width="1.8"/>
<path d="M179.2 269.5L176.0 270.3" stroke="#e01010" stroke-width="1.8"/>
<path d="M176.0 270.3L172.8 271.1" stroke="#d8d8d8" stroke-width="1.8"/>
<path d="M185.4 272.6L184.2 274.4" stroke="#e01010" stroke-width="1.8"/>
<path d="M184.2 274.4L183.1 276.3" stroke="#d8d8d8" stroke-width="1.8"/>
<path d="M195.1 270.2L197.2 271.2" stroke="#e01010" stroke-width="1.8"/>
<path d="M197.2 271.2L199.2 272.2" stroke="#d8d8d8" stroke-width="1.8"/>
<path d="M196.1 255.9L194.0 254.9" stroke="#e01010" stroke-width="1.8"/>
<path d="M194.0 254.9L192.0 253.9" stroke="#d8d8d8" stroke-width="1.8"/>
<path d="M205.8 253.5L207.0 251.7" stroke="#e01010" stroke-width="1.8"/>
<path d="M207.0 251.7L208.1 249.8" stroke="#d8d8d8" stroke-width="1.8"/>
<path d="M212.0 256.6L215.2 255.8" stroke="#e01010" stroke-width="1.8"/>
<path d="M215.2 255.8L218.4 255.0" stroke="#d8d8d8" stroke-width="1.8"/>
<path d="M182.7 264.0L181.0 266.7" stroke="#e01010" stroke-width="3.0"/>
<path d="M181.0 266.7L179.2 269.5" stroke="#e01010" stroke-width="3.0"/>
<path d="M179.2 269.5L182.3 271.1" stroke="#e01010" stroke-width="3.0"/>
<path d="M182.3 271.1L185.4 272.6" stroke="#e01010" stroke-width="3.0"/>
<path d="M185.4 272.6L190.3 271.4" stroke="#e01010" stroke-width="3.0"/>
<path d="M190.3 271.4L195.1 270.2" stroke="#e01010" stroke-width="3.0"/>
<path d="M195.1 270.2L196.9 267.4" stroke="#e01010" stroke-width="3.0"/>
<path d="M196.9 267.4L198.7 264.6" stroke="#e01010" stroke-width="3.0"/>
<path d="M198.7 264.6L195.6 263.1" stroke="#e01010" stroke-width="3.0"/>
<path d="M195.6 263.1L192.5 261.5" stroke="#e01010" stroke-width="3.0"/>
<path d="M192.5 261.5L187.6 262.7" stroke="#e01010" stroke-width="3.0"/>
<path d="M187.6 262.7L182.7 264.0" stroke="#e01010" stroke-width="3.0"/>
<path d="M192.5 261.5L194.3 258.7" stroke="#e01010" stroke-width="3.0"/>
<path d="M194.3 258.7L196.1 255.9" stroke="#e01010" stroke-width="3.0"/>
<path d="M196.1 255.9L200.9 254.7" stroke="#e01010" stroke-width="3.0"/>
<path d="M200.9 254.7L205.8 253.5" stroke="#e01010" stroke-width="3.0"/>
<path d="M205.8 253.5L208.9 255.0" stroke="#e01010" stroke-width="3.0"/>
<path d="M208.9 255.0L212.0 256.6" stroke="#e01010" stroke-width="3.0"/>
<path d="M212.0 256.6L210.2 259.4" stroke="#e01010" stroke-width="3.0"/>
<path d="M210.2 259.4L208.5 262.1" stroke="#1428e8" stroke-width="3.0"/>
<path d="M208.5 262.1L203.6 263.4" stroke="#1428e8" stroke-width="3.0"/>
<path d="M203.6 263.4L198.7 264.6" stroke="#e01010" stroke-width="3.0"/>
<circle cx="182.7" cy="264.0" r="2.15" fill="url(#gC)"/>
<circle cx="179.2" cy="269.5" r="2.15" fill="url(#gC)"/>
<circle cx="185.4" cy="272.6" r="2.15" fill="url(#gC)"/>
<circle cx="195.1" cy="270.2" r="2.15" fill="url(#gC)"/>
<circle cx="198.7" cy="264.6" r="2.15" fill="url(#gC)"/>
<circle cx="192.5" cy="261.5" r="2.15" fill="url(#gC)"/>
<circle cx="196.1" cy="255.9" r="2.15" fill="url(#gC)"/>
<circle cx="205.8" cy="253.5" r="2.15" fill="url(#gC)"/>
<circle cx="212.0" cy="256.6" r="2.15" fill="url(#gC)"/>
<circle cx="208.5" cy="262.1" r="2.55" fill="url(#gN)"/>
<circle cx="178.7" cy="261.9" r="2.65" fill="url(#gH)"/>
<circle cx="172.8" cy="271.1" r="2.65" fill="url(#gH)"/>
<circle cx="183.1" cy="276.3" r="2.65" fill="url(#gH)"/>
<circle cx="199.2" cy="272.2" r="2.65" fill="url(#gH)"/>
<circle cx="192.0" cy="253.9" r="2.65" fill="url(#gH)"/>
<circle cx="208.1" cy="249.8" r="2.65" fill="url(#gH)"/>
<circle cx="218.4" cy="255.0" r="2.65" fill="url(#gH)"/>
<path d="M333.0 298.6L422.3 298.6L423.3 297.2L419.6 294.2L409.1 290.4L401.6 287.3L400.6 286.1L371.4 286.1L370.4 287.3L359.0 290.4L346.1 294.2L332.0 297.2Z" fill="#9c0404"/>
<path d="M375.3 284.3L372.8 287.3" stroke="#d8d018" stroke-width="2.2"/>
<path d="M398.9 284.3L401.6 287.3" stroke="#d8d018" stroke-width="2.2"/>
<path d="M381.4 286.6L380.2 287.3" stroke="#d8d018" stroke-width="2.2"/>
<path d="M393.6 285.1L395.1 287.3" stroke="#d8d018" stroke-width="2.2"/>
<path d="M371.4 287.3L400.6 287.3" stroke="#d80c0c" stroke-width="2.4"/>
<circle cx="375.0" cy="287.3" r="2.25" fill="url(#gC)"/>
<circle cx="380.3" cy="287.3" r="2.25" fill="url(#gC)"/>
<circle cx="391.0" cy="287.3" r="2.25" fill="url(#gC)"/>
<circle cx="396.8" cy="287.3" r="2.25" fill="url(#gC)"/>
<path d="M360.0 290.4L408.1 290.4" stroke="#d80c0c" stroke-width="2.4"/>
<circle cx="363.8" cy="290.4" r="2.40" fill="url(#gC)"/>
<circle cx="375.0" cy="290.4" r="2.40" fill="url(#gC)"/>
<circle cx="380.3" cy="290.4" r="2.40" fill="url(#gC)"/>
<circle cx="391.0" cy="290.4" r="2.40" fill="url(#gC)"/>
<circle cx="396.8" cy="290.4" r="2.40" fill="url(#gC)"/>
<circle cx="407.3" cy="290.4" r="2.40" fill="url(#gC)"/>
<path d="M347.1 294.2L418.6 294.2" stroke="#d80c0c" stroke-width="2.4"/>
<circle cx="348.4" cy="294.2" r="2.40" fill="url(#gC)"/>
<circle cx="358.0" cy="294.2" r="2.40" fill="url(#gC)"/>
<circle cx="363.8" cy="294.2" r="2.40" fill="url(#gC)"/>
<circle cx="375.0" cy="294.2" r="2.40" fill="url(#gC)"/>
<circle cx="380.3" cy="294.2" r="2.40" fill="url(#gC)"/>
<circle cx="391.0" cy="294.2" r="2.40" fill="url(#gC)"/>
<circle cx="396.8" cy="294.2" r="2.40" fill="url(#gC)"/>
<circle cx="407.3" cy="294.2" r="2.40" fill="url(#gC)"/>
<circle cx="412.5" cy="294.2" r="2.40" fill="url(#gC)"/>
<path d="M333.0 297.2L422.3 297.2" stroke="#d80c0c" stroke-width="2.6"/>
<circle cx="333.0" cy="297.2" r="2.50" fill="url(#gC)"/>
<circle cx="342.8" cy="297.2" r="2.50" fill="url(#gC)"/>
<circle cx="348.4" cy="297.2" r="2.50" fill="url(#gC)"/>
<circle cx="358.0" cy="297.2" r="2.50" fill="url(#gC)"/>
<circle cx="363.8" cy="297.2" r="2.50" fill="url(#gC)"/>
<circle cx="375.0" cy="297.2" r="2.50" fill="url(#gC)"/>
<circle cx="380.3" cy="297.2" r="2.50" fill="url(#gC)"/>
<circle cx="391.0" cy="297.2" r="2.50" fill="url(#gC)"/>
<circle cx="396.8" cy="297.2" r="2.50" fill="url(#gC)"/>
<circle cx="407.3" cy="297.2" r="2.50" fill="url(#gC)"/>
<circle cx="412.5" cy="297.2" r="2.50" fill="url(#gC)"/>
<circle cx="422.3" cy="297.2" r="2.50" fill="url(#gC)"/>
<path d="M375.3 284.3L381.0 282.5" stroke="#e8e020" stroke-width="2.6"/>
<path d="M381.0 282.5L386.7 280.7" stroke="#5a1a9a" stroke-width="2.6"/>
<path d="M398.9 284.3L392.8 282.5" stroke="#e8e020" stroke-width="2.6"/>
<path d="M392.8 282.5L386.7 280.7" stroke="#5a1a9a" stroke-width="2.6"/>
<path d="M381.4 286.6L384.0 283.6" stroke="#e8e020" stroke-width="2.6"/>
<path d="M384.0 283.6L386.7 280.7" stroke="#5a1a9a" stroke-width="2.6"/>
<path d="M393.6 285.1L390.1 282.9" stroke="#e8e020" stroke-width="2.6"/>
<path d="M390.1 282.9L386.7 280.7" stroke="#5a1a9a" stroke-width="2.6"/>
<circle cx="375.3" cy="284.3" r="2.60" fill="url(#gP)"/>
<circle cx="398.9" cy="284.3" r="2.60" fill="url(#gP)"/>
<circle cx="381.4" cy="286.6" r="2.60" fill="url(#gP)"/>
<circle cx="393.6" cy="285.1" r="2.60" fill="url(#gP)"/>
<circle cx="386.7" cy="280.7" r="2.60" fill="url(#gF)"/>
<path d="M386.7 280.7L386.9 275.3" stroke="#5a1a9a" stroke-width="1.8"/>
<path d="M386.9 275.3L387.0 269.9" stroke="#d8d8d8" stroke-width="1.8"/>
<circle cx="387.0" cy="269.9" r="2.60" fill="url(#gH)"/>
<path d="M363.6 265.5L362.0 264.8" stroke="#e01010" stroke-width="1.8"/>
<path d="M362.0 264.8L360.4 264.2" stroke="#d8d8d8" stroke-width="1.8"/>
<path d="M359.4 271.7L356.4 273.2" stroke="#e01010" stroke-width="1.8"/>
<path d="M356.4 273.2L353.4 274.6" stroke="#d8d8d8" stroke-width="1.8"/>
<path d="M364.3 273.7L362.9 275.8" stroke="#e01010" stroke-width="1.8"/>
<path d="M362.9 275.8L361.5 277.9" stroke="#d8d8d8" stroke-width="1.8"/>
<path d="M373.4 269.5L375.0 270.1" stroke="#e01010" stroke-width="1.8"/>
<path d="M375.0 270.1L376.6 270.8" stroke="#d8d8d8" stroke-width="1.8"/>
<path d="M386.0 250.7L387.4 248.6" stroke="#e01010" stroke-width="1.8"/>
<path d="M387.4 248.6L388.8 246.5" stroke="#d8d8d8" stroke-width="1.8"/>
<path d="M390.9 252.7L393.9 251.2" stroke="#e01010" stroke-width="1.8"/>
<path d="M393.9 251.2L396.9 249.8" stroke="#d8d8d8" stroke-width="1.8"/>
<path d="M386.7 258.9L388.3 259.6" stroke="#e01010" stroke-width="1.8"/>
<path d="M388.3 259.6L389.9 260.2" stroke="#d8d8d8" stroke-width="1.8"/>
<path d="M363.6 265.5L361.5 268.6" stroke="#e01010" stroke-width="3.0"/>
<path d="M361.5 268.6L359.4 271.7" stroke="#e01010" stroke-width="3.0"/>
<path d="M359.4 271.7L361.8 272.7" stroke="#e01010" stroke-width="3.0"/>
<path d="M361.8 272.7L364.3 273.7" stroke="#e01010" stroke-width="3.0"/>
<path d="M364.3 273.7L368.8 271.6" stroke="#e01010" stroke-width="3.0"/>
<path d="M368.8 271.6L373.4 269.5" stroke="#e01010" stroke-width="3.0"/>
<path d="M373.4 269.5L375.5 266.3" stroke="#e01010" stroke-width="3.0"/>
<path d="M375.5 266.3L377.6 263.2" stroke="#e01010" stroke-width="3.0"/>
<path d="M377.6 263.2L375.1 262.2" stroke="#e01010" stroke-width="3.0"/>
<path d="M375.1 262.2L372.7 261.2" stroke="#e01010" stroke-width="3.0"/>
<path d="M372.7 261.2L368.1 263.3" stroke="#e01010" stroke-width="3.0"/>
<path d="M368.1 263.3L363.6 265.5" stroke="#e01010" stroke-width="3.0"/>
<path d="M372.7 261.2L374.8 258.1" stroke="#e01010" stroke-width="3.0"/>
<path d="M374.8 258.1L376.9 254.9" stroke="#1428e8" stroke-width="3.0"/>
<path d="M376.9 254.9L381.5 252.8" stroke="#1428e8" stroke-width="3.0"/>
<path d="M381.5 252.8L386.0 250.7" stroke="#e01010" stroke-width="3.0"/>
<path d="M386.0 250.7L388.5 251.7" stroke="#e01010" stroke-width="3.0"/>
<path d="M388.5 251.7L390.9 252.7" stroke="#e01010" stroke-width="3.0"/>
<path d="M390.9 252.7L388.8 255.8" stroke="#e01010" stroke-width="3.0"/>
<path d="M388.8 255.8L386.7 258.9" stroke="#e01010" stroke-width="3.0"/>
<path d="M386.7 258.9L382.2 261.1" stroke="#e01010" stroke-width="3.0"/>
<path d="M382.2 261.1L377.6 263.2" stroke="#e01010" stroke-width="3.0"/>
<circle cx="363.6" cy="265.5" r="2.15" fill="url(#gC)"/>
<circle cx="359.4" cy="271.7" r="2.15" fill="url(#gC)"/>
<circle cx="364.3" cy="273.7" r="2.15" fill="url(#gC)"/>
<circle cx="373.4" cy="269.5" r="2.15" fill="url(#gC)"/>
<circle cx="377.6" cy="263.2" r="2.15" fill="url(#gC)"/>
<circle cx="372.7" cy="261.2" r="2.15" fill="url(#gC)"/>
<circle cx="376.9" cy="254.9" r="2.55" fill="url(#gN)"/>
<circle cx="386.0" cy="250.7" r="2.15" fill="url(#gC)"/>
<circle cx="390.9" cy="252.7" r="2.15" fill="url(#gC)"/>
<circle cx="386.7" cy="258.9" r="2.15" fill="url(#gC)"/>
<circle cx="360.4" cy="264.2" r="2.65" fill="url(#gH)"/>
<circle cx="353.4" cy="274.6" r="2.65" fill="url(#gH)"/>
<circle cx="361.5" cy="277.9" r="2.65" fill="url(#gH)"/>
<circle cx="376.6" cy="270.8" r="2.65" fill="url(#gH)"/>
<circle cx="388.8" cy="246.5" r="2.65" fill="url(#gH)"/>
<circle cx="396.9" cy="249.8" r="2.65" fill="url(#gH)"/>
<circle cx="389.9" cy="260.2" r="2.65" fill="url(#gH)"/>
<circle cx="375.1" cy="255.8" r="2.65" fill="url(#gH)"/>
<path d="M436.3 298.8L514.4 298.8L515.6 297.2L500.6 293.5L488.6 289.8L487.4 288.3L453.6 288.3L452.4 289.8L449.4 293.5L435.1 297.2Z" fill="#9c0404"/>
<path d="M456.6 285.6L453.9 289.8" stroke="#d8d018" stroke-width="2.2"/>
<path d="M482.5 285.6L485.5 289.8" stroke="#d8d018" stroke-width="2.2"/>
<path d="M466.2 286.0L465.6 289.8" stroke="#d8d018" stroke-width="2.2"/>
<path d="M472.9 286.0L473.8 289.8" stroke="#d8d018" stroke-width="2.2"/>
<path d="M453.6 289.8L487.4 289.8" stroke="#d80c0c" stroke-width="2.4"/>
<circle cx="458.2" cy="289.8" r="2.70" fill="url(#gC)"/>
<circle cx="463.2" cy="289.8" r="2.70" fill="url(#gC)"/>
<circle cx="473.0" cy="289.8" r="2.70" fill="url(#gC)"/>
<circle cx="477.7" cy="289.8" r="2.70" fill="url(#gC)"/>
<circle cx="487.1" cy="289.8" r="2.70" fill="url(#gC)"/>
<path d="M450.6 293.5L499.4 293.5" stroke="#d80c0c" stroke-width="2.4"/>
<circle cx="449.8" cy="293.5" r="2.88" fill="url(#gC)"/>
<circle cx="458.2" cy="293.5" r="2.88" fill="url(#gC)"/>
<circle cx="463.2" cy="293.5" r="2.88" fill="url(#gC)"/>
<circle cx="473.0" cy="293.5" r="2.88" fill="url(#gC)"/>
<circle cx="477.7" cy="293.5" r="2.88" fill="url(#gC)"/>
<circle cx="487.1" cy="293.5" r="2.88" fill="url(#gC)"/>
<circle cx="492.1" cy="293.5" r="2.88" fill="url(#gC)"/>
<path d="M436.3 297.2L514.4 297.2" stroke="#d80c0c" stroke-width="2.6"/>
<circle cx="436.3" cy="297.2" r="3.00" fill="url(#gC)"/>
<circle cx="444.9" cy="297.2" r="3.00" fill="url(#gC)"/>
<circle cx="449.8" cy="297.2" r="3.00" fill="url(#gC)"/>
<circle cx="458.2" cy="297.2" r="3.00" fill="url(#gC)"/>
<circle cx="463.2" cy="297.2" r="3.00" fill="url(#gC)"/>
<circle cx="473.0" cy="297.2" r="3.00" fill="url(#gC)"/>
<circle cx="477.7" cy="297.2" r="3.00" fill="url(#gC)"/>
<circle cx="487.1" cy="297.2" r="3.00" fill="url(#gC)"/>
<circle cx="492.1" cy="297.2" r="3.00" fill="url(#gC)"/>
<circle cx="501.3" cy="297.2" r="3.00" fill="url(#gC)"/>
<circle cx="505.8" cy="297.2" r="3.00" fill="url(#gC)"/>
<circle cx="514.4" cy="297.2" r="3.00" fill="url(#gC)"/>
<path d="M456.6 285.6L462.7 283.0" stroke="#e8e020" stroke-width="2.6"/>
<path d="M462.7 283.0L468.8 280.4" stroke="#5a1a9a" stroke-width="2.6"/>
<path d="M482.5 285.6L475.6 283.0" stroke="#e8e020" stroke-width="2.6"/>
<path d="M475.6 283.0L468.8 280.4" stroke="#5a1a9a" stroke-width="2.6"/>
<path d="M466.2 286.0L467.5 283.2" stroke="#e8e020" stroke-width="2.6"/>
<path d="M467.5 283.2L468.8 280.4" stroke="#5a1a9a" stroke-width="2.6"/>
<path d="M472.9 286.0L470.9 283.2" stroke="#e8e020" stroke-width="2.6"/>
<path d="M470.9 283.2L468.8 280.4" stroke="#5a1a9a" stroke-width="2.6"/>
<circle cx="456.6" cy="285.6" r="2.60" fill="url(#gP)"/>
<circle cx="482.5" cy="285.6" r="2.60" fill="url(#gP)"/>
<circle cx="466.2" cy="286.0" r="2.60" fill="url(#gP)"/>
<circle cx="472.9" cy="286.0" r="2.60" fill="url(#gP)"/>
<circle cx="468.8" cy="280.4" r="2.60" fill="url(#gF)"/>
<path d="M468.8 280.4L468.6 275.1" stroke="#5a1a9a" stroke-width="1.8"/>
<path d="M468.6 275.1L468.4 269.9" stroke="#d8d8d8" stroke-width="1.8"/>
<circle cx="468.4" cy="269.9" r="2.60" fill="url(#gH)"/>
<path d="M471.1 258.4L470.2 257.1" stroke="#e01010" stroke-width="1.8"/>
<path d="M470.2 257.1L469.4 255.8" stroke="#d8d8d8" stroke-width="1.8"/>
<path d="M464.1 260.2L460.9 259.5" stroke="#e01010" stroke-width="1.8"/>
<path d="M460.9 259.5L457.8 258.7" stroke="#d8d8d8" stroke-width="1.8"/>
<path d="M466.7 264.2L464.4 264.8" stroke="#e01010" stroke-width="1.8"/>
<path d="M464.4 264.8L462.1 265.4" stroke="#d8d8d8" stroke-width="1.8"/>
<path d="M492.9 266.8L495.2 266.2" stroke="#e01010" stroke-width="1.8"/>
<path d="M495.2 266.2L497.5 265.6" stroke="#d8d8d8" stroke-width="1.8"/>
<path d="M495.5 270.8L498.7 271.5" stroke="#e01010" stroke-width="1.8"/>
<path d="M498.7 271.5L501.8 272.3" stroke="#d8d8d8" stroke-width="1.8"/>
<path d="M488.5 272.6L489.4 273.9" stroke="#e01010" stroke-width="1.8"/>
<path d="M489.4 273.9L490.2 275.2" stroke="#d8d8d8" stroke-width="1.8"/>
<path d="M478.9 270.4L476.6 271.0" stroke="#e01010" stroke-width="1.8"/>
<path d="M476.6 271.0L474.3 271.6" stroke="#d8d8d8" stroke-width="1.8"/>
<path d="M480.7 260.6L475.9 259.5" stroke="#1428e8" stroke-width="3.0"/>
<path d="M475.9 259.5L471.1 258.4" stroke="#e01010" stroke-width="3.0"/>
<path d="M471.1 258.4L467.6 259.3" stroke="#e01010" stroke-width="3.0"/>
<path d="M467.6 259.3L464.1 260.2" stroke="#e01010" stroke-width="3.0"/>
<path d="M464.1 260.2L465.4 262.2" stroke="#e01010" stroke-width="3.0"/>
<path d="M465.4 262.2L466.7 264.2" stroke="#e01010" stroke-width="3.0"/>
<path d="M466.7 264.2L471.5 265.3" stroke="#e01010" stroke-width="3.0"/>
<path d="M471.5 265.3L476.3 266.4" stroke="#e01010" stroke-width="3.0"/>
<path d="M476.3 266.4L479.8 265.5" stroke="#e01010" stroke-width="3.0"/>
<path d="M479.8 265.5L483.3 264.6" stroke="#e01010" stroke-width="3.0"/>
<path d="M483.3 264.6L482.0 262.6" stroke="#e01010" stroke-width="3.0"/>
<path d="M482.0 262.6L480.7 260.6" stroke="#1428e8" stroke-width="3.0"/>
<path d="M483.3 264.6L488.1 265.7" stroke="#e01010" stroke-width="3.0"/>
<path d="M488.1 265.7L492.9 266.8" stroke="#e01010" stroke-width="3.0"/>
<path d="M492.9 266.8L494.2 268.8" stroke="#e01010" stroke-width="3.0"/>
<path d="M494.2 268.8L495.5 270.8" stroke="#e01010" stroke-width="3.0"/>
<path d="M495.5 270.8L492.0 271.7" stroke="#e01010" stroke-width="3.0"/>
<path d="M492.0 271.7L488.5 272.6" stroke="#e01010" stroke-width="3.0"/>
<path d="M488.5 272.6L483.7 271.5" stroke="#e01010" stroke-width="3.0"/>
<path d="M483.7 271.5L478.9 270.4" stroke="#e01010" stroke-width="3.0"/>
<path d="M478.9 270.4L477.6 268.4" stroke="#e01010" stroke-width="3.0"/>
<path d="M477.6 268.4L476.3 266.4" stroke="#e01010" stroke-width="3.0"/>
<circle cx="480.7" cy="260.6" r="2.55" fill="url(#gN)"/>
<circle cx="471.1" cy="258.4" r="2.15" fill="url(#gC)"/>
<circle cx="464.1" cy="260.2" r="2.15" fill="url(#gC)"/>
<circle cx="466.7" cy="264.2" r="2.15" fill="url(#gC)"/>
<circle cx="476.3" cy="266.4" r="2.15" fill="url(#gC)"/>
<circle cx="483.3" cy="264.6" r="2.15" fill="url(#gC)"/>
<circle cx="492.9" cy="266.8" r="2.15" fill="url(#gC)"/>
<circle cx="495.5" cy="270.8" r="2.15" fill="url(#gC)"/>
<circle cx="488.5" cy="272.6" r="2.15" fill="url(#gC)"/>
<circle cx="478.9" cy="270.4" r="2.15" fill="url(#gC)"/>
<circle cx="469.4" cy="255.8" r="2.65" fill="url(#gH)"/>
<circle cx="457.8" cy="258.7" r="2.65" fill="url(#gH)"/>
<circle cx="462.1" cy="265.4" r="2.65" fill="url(#gH)"/>
<circle cx="497.5" cy="265.6" r="2.65" fill="url(#gH)"/>
<circle cx="501.8" cy="272.3" r="2.65" fill="url(#gH)"/>
<circle cx="490.2" cy="275.2" r="2.65" fill="url(#gH)"/>
<circle cx="474.3" cy="271.6" r="2.65" fill="url(#gH)"/>
<circle cx="485.0" cy="260.7" r="2.65" fill="url(#gH)"/>
<path d="M596.4 301.2L677.6 301.2L678.6 299.8L672.3 296.4L666.9 293.1L661.6 290.4L660.6 289.1L633.4 289.1L632.4 290.4L624.7 293.1L595.1 296.4L595.4 299.8Z" fill="#9c0404"/>
<path d="M633.7 289.3L631.3 290.4" stroke="#d8d018" stroke-width="2.2"/>
<path d="M656.6 286.3L659.3 290.4" stroke="#d8d018" stroke-width="2.2"/>
<path d="M639.1 287.0L637.9 290.4" stroke="#d8d018" stroke-width="2.2"/>
<path d="M651.2 285.7L652.7 290.4" stroke="#d8d018" stroke-width="2.2"/>
<path d="M633.4 290.4L660.6 290.4" stroke="#d80c0c" stroke-width="2.4"/>
<circle cx="634.6" cy="290.4" r="2.25" fill="url(#gC)"/>
<circle cx="639.4" cy="290.4" r="2.25" fill="url(#gC)"/>
<circle cx="649.2" cy="290.4" r="2.25" fill="url(#gC)"/>
<circle cx="654.5" cy="290.4" r="2.25" fill="url(#gC)"/>
<path d="M625.7 293.1L665.9 293.1" stroke="#d80c0c" stroke-width="2.4"/>
<circle cx="624.4" cy="293.1" r="2.40" fill="url(#gC)"/>
<circle cx="634.6" cy="293.1" r="2.40" fill="url(#gC)"/>
<circle cx="639.4" cy="293.1" r="2.40" fill="url(#gC)"/>
<circle cx="649.2" cy="293.1" r="2.40" fill="url(#gC)"/>
<circle cx="654.5" cy="293.1" r="2.40" fill="url(#gC)"/>
<circle cx="664.0" cy="293.1" r="2.40" fill="url(#gC)"/>
<path d="M596.1 296.4L671.3 296.4" stroke="#d80c0c" stroke-width="2.4"/>
<circle cx="596.4" cy="296.4" r="2.40" fill="url(#gC)"/>
<circle cx="605.3" cy="296.4" r="2.40" fill="url(#gC)"/>
<circle cx="610.4" cy="296.4" r="2.40" fill="url(#gC)"/>
<circle cx="619.1" cy="296.4" r="2.40" fill="url(#gC)"/>
<circle cx="624.4" cy="296.4" r="2.40" fill="url(#gC)"/>
<circle cx="634.6" cy="296.4" r="2.40" fill="url(#gC)"/>
<circle cx="639.4" cy="296.4" r="2.40" fill="url(#gC)"/>
<circle cx="649.2" cy="296.4" r="2.40" fill="url(#gC)"/>
<circle cx="654.5" cy="296.4" r="2.40" fill="url(#gC)"/>
<circle cx="664.0" cy="296.4" r="2.40" fill="url(#gC)"/>
<circle cx="668.7" cy="296.4" r="2.40" fill="url(#gC)"/>
<path d="M596.4 299.8L677.6 299.8" stroke="#d80c0c" stroke-width="2.6"/>
<circle cx="596.4" cy="299.8" r="2.50" fill="url(#gC)"/>
<circle cx="605.3" cy="299.8" r="2.50" fill="url(#gC)"/>
<circle cx="610.4" cy="299.8" r="2.50" fill="url(#gC)"/>
<circle cx="619.1" cy="299.8" r="2.50" fill="url(#gC)"/>
<circle cx="624.4" cy="299.8" r="2.50" fill="url(#gC)"/>
<circle cx="634.6" cy="299.8" r="2.50" fill="url(#gC)"/>
<circle cx="639.4" cy="299.8" r="2.50" fill="url(#gC)"/>
<circle cx="649.2" cy="299.8" r="2.50" fill="url(#gC)"/>
<circle cx="654.5" cy="299.8" r="2.50" fill="url(#gC)"/>
<circle cx="664.0" cy="299.8" r="2.50" fill="url(#gC)"/>
<circle cx="668.7" cy="299.8" r="2.50" fill="url(#gC)"/>
<circle cx="677.6" cy="299.8" r="2.50" fill="url(#gC)"/>
<path d="M633.7 289.3L639.1 285.9" stroke="#e8e020" stroke-width="2.6"/>
<path d="M639.1 285.9L644.5 282.5" stroke="#5a1a9a" stroke-width="2.6"/>
<path d="M656.6 286.3L650.5 284.4" stroke="#e8e020" stroke-width="2.6"/>
<path d="M650.5 284.4L644.5 282.5" stroke="#5a1a9a" stroke-width="2.6"/>
<path d="M639.1 287.0L641.8 284.8" stroke="#e8e020" stroke-width="2.6"/>
<path d="M641.8 284.8L644.5 282.5" stroke="#5a1a9a" stroke-width="2.6"/>
<path d="M651.2 285.7L647.9 284.1" stroke="#e8e020" stroke-width="2.6"/>
<path d="M647.9 284.1L644.5 282.5" stroke="#5a1a9a" stroke-width="2.6"/>
<circle cx="633.7" cy="289.3" r="2.60" fill="url(#gP)"/>
<circle cx="656.6" cy="286.3" r="2.60" fill="url(#gP)"/>
<circle cx="639.1" cy="287.0" r="2.60" fill="url(#gP)"/>
<circle cx="651.2" cy="285.7" r="2.60" fill="url(#gP)"/>
<circle cx="644.5" cy="282.5" r="2.60" fill="url(#gF)"/>
<path d="M635.3 270.2L639.9 276.4" stroke="#1428e8" stroke-width="2.2"/>
<path d="M639.9 276.4L644.5 282.5" stroke="#5a1a9a" stroke-width="2.2"/>
<path d="M608.5 276.3L610.5 274.8" stroke="#e01010" stroke-width="3.0"/>
<path d="M610.5 274.8L612.5 273.2" stroke="#e01010" stroke-width="3.0"/>
<path d="M608.5 276.3L611.0 276.6" stroke="#e01010" stroke-width="3.0"/>
<path d="M611.0 276.6L613.5 276.8" stroke="#e01010" stroke-width="3.0"/>
<path d="M612.5 273.2L615.8 272.4" stroke="#e01010" stroke-width="3.0"/>
<path d="M615.8 272.4L619.0 271.5" stroke="#e01010" stroke-width="3.0"/>
<path d="M613.5 276.8L617.0 275.8" stroke="#e01010" stroke-width="3.0"/>
<path d="M617.0 275.8L620.5 274.8" stroke="#e01010" stroke-width="3.0"/>
<path d="M619.0 271.5L622.5 270.6" stroke="#e01010" stroke-width="3.0"/>
<path d="M622.5 270.6L626.0 269.8" stroke="#e01010" stroke-width="3.0"/>
<path d="M620.5 274.8L624.0 273.8" stroke="#e01010" stroke-width="3.0"/>
<path d="M624.0 273.8L627.5 272.8" stroke="#e01010" stroke-width="3.0"/>
<path d="M619.0 271.5L619.8 273.1" stroke="#e01010" stroke-width="3.0"/>
<path d="M619.8 273.1L620.5 274.8" stroke="#e01010" stroke-width="3.0"/>
<path d="M626.0 269.8L629.2 269.0" stroke="#e01010" stroke-width="3.0"/>
<path d="M629.2 269.0L632.5 268.2" stroke="#e01010" stroke-width="3.0"/>
<path d="M627.5 272.8L631.4 271.5" stroke="#e01010" stroke-width="3.0"/>
<path d="M631.4 271.5L635.3 270.2" stroke="#1428e8" stroke-width="3.0"/>
<path d="M632.5 268.2L635.0 266.9" stroke="#e01010" stroke-width="3.0"/>
<path d="M635.0 266.9L637.5 265.5" stroke="#e01010" stroke-width="3.0"/>
<path d="M637.5 265.5L639.6 264.5" stroke="#e01010" stroke-width="3.0"/>
<path d="M639.6 264.5L641.8 263.5" stroke="#e01010" stroke-width="3.0"/>
<path d="M641.8 263.5L638.5 266.9" stroke="#e01010" stroke-width="3.0"/>
<path d="M638.5 266.9L635.3 270.2" stroke="#1428e8" stroke-width="3.0"/>
<path d="M626.0 269.8L626.8 271.3" stroke="#e01010" stroke-width="3.0"/>
<path d="M626.8 271.3L627.5 272.8" stroke="#e01010" stroke-width="3.0"/>
<path d="M608.5 276.3L606.0 276.6" stroke="#e01010" stroke-width="1.8"/>
<path d="M606.0 276.6L603.6 276.9" stroke="#d8d8d8" stroke-width="1.8"/>
<path d="M613.5 276.8L611.5 277.2" stroke="#e01010" stroke-width="1.8"/>
<path d="M611.5 277.2L609.6 277.6" stroke="#d8d8d8" stroke-width="1.8"/>
<path d="M627.5 272.8L626.2 273.4" stroke="#e01010" stroke-width="1.8"/>
<path d="M626.2 273.4L625.0 274.0" stroke="#d8d8d8" stroke-width="1.8"/>
<path d="M635.3 270.2L636.8 269.5" stroke="#1428e8" stroke-width="1.8"/>
<path d="M636.8 269.5L638.4 268.9" stroke="#d8d8d8" stroke-width="1.8"/>
<path d="M641.8 263.5L640.8 260.4" stroke="#e01010" stroke-width="1.8"/>
<path d="M640.8 260.4L639.7 257.4" stroke="#d8d8d8" stroke-width="1.8"/>
<path d="M641.8 263.5L645.1 264.1" stroke="#e01010" stroke-width="1.8"/>
<path d="M645.1 264.1L648.5 264.6" stroke="#d8d8d8" stroke-width="1.8"/>
<circle cx="608.5" cy="276.3" r="2.15" fill="url(#gC)"/>
<circle cx="612.5" cy="273.2" r="2.15" fill="url(#gC)"/>
<circle cx="613.5" cy="276.8" r="2.15" fill="url(#gC)"/>
<circle cx="619.0" cy="271.5" r="2.15" fill="url(#gC)"/>
<circle cx="620.5" cy="274.8" r="2.15" fill="url(#gC)"/>
<circle cx="626.0" cy="269.8" r="2.15" fill="url(#gC)"/>
<circle cx="627.5" cy="272.8" r="2.15" fill="url(#gC)"/>
<circle cx="632.5" cy="268.2" r="2.15" fill="url(#gC)"/>
<circle cx="635.3" cy="270.2" r="2.55" fill="url(#gN)"/>
<circle cx="641.8" cy="263.5" r="2.15" fill="url(#gC)"/>
<circle cx="637.5" cy="265.5" r="2.15" fill="url(#gC)"/>
<circle cx="603.6" cy="276.9" r="2.65" fill="url(#gH)"/>
<circle cx="609.6" cy="277.6" r="2.65" fill="url(#gH)"/>
<circle cx="625.0" cy="274.0" r="2.65" fill="url(#gH)"/>
<circle cx="638.4" cy="268.9" r="2.65" fill="url(#gH)"/>
<circle cx="639.7" cy="257.4" r="2.65" fill="url(#gH)"/>
<circle cx="648.5" cy="264.6" r="2.65" fill="url(#gH)"/>
<path d="M58.4 387.5L146.5 387.5L147.7 385.9L138.0 383.0L123.2 378.5L122.0 377.0L82.1 377.0L80.9 378.5L67.6 383.0L57.2 385.9Z" fill="#9c0404"/>
<path d="M88.8 374.1L85.9 378.5" stroke="#d8d018" stroke-width="2.2"/>
<path d="M116.1 373.6L119.2 378.5" stroke="#d8d018" stroke-width="2.2"/>
<path d="M96.2 375.6L94.9 378.5" stroke="#d8d018" stroke-width="2.2"/>
<path d="M105.8 375.1L106.6 378.5" stroke="#d8d018" stroke-width="2.2"/>
<path d="M82.1 378.5L122.0 378.5" stroke="#d80c0c" stroke-width="2.4"/>
<circle cx="83.1" cy="378.5" r="2.70" fill="url(#gC)"/>
<circle cx="88.8" cy="378.5" r="2.70" fill="url(#gC)"/>
<circle cx="99.8" cy="378.5" r="2.70" fill="url(#gC)"/>
<circle cx="105.1" cy="378.5" r="2.70" fill="url(#gC)"/>
<circle cx="115.7" cy="378.5" r="2.70" fill="url(#gC)"/>
<circle cx="121.4" cy="378.5" r="2.70" fill="url(#gC)"/>
<path d="M68.8 383.0L136.8 383.0" stroke="#d80c0c" stroke-width="2.4"/>
<circle cx="68.1" cy="383.0" r="2.88" fill="url(#gC)"/>
<circle cx="73.6" cy="383.0" r="2.88" fill="url(#gC)"/>
<circle cx="83.1" cy="383.0" r="2.88" fill="url(#gC)"/>
<circle cx="88.8" cy="383.0" r="2.88" fill="url(#gC)"/>
<circle cx="99.8" cy="383.0" r="2.88" fill="url(#gC)"/>
<circle cx="105.1" cy="383.0" r="2.88" fill="url(#gC)"/>
<circle cx="115.7" cy="383.0" r="2.88" fill="url(#gC)"/>
<circle cx="121.4" cy="383.0" r="2.88" fill="url(#gC)"/>
<circle cx="131.7" cy="383.0" r="2.88" fill="url(#gC)"/>
<circle cx="136.8" cy="383.0" r="2.88" fill="url(#gC)"/>
<path d="M58.4 385.9L146.5 385.9" stroke="#d80c0c" stroke-width="2.6"/>
<circle cx="58.4" cy="385.9" r="3.00" fill="url(#gC)"/>
<circle cx="68.1" cy="385.9" r="3.00" fill="url(#gC)"/>
<circle cx="73.6" cy="385.9" r="3.00" fill="url(#gC)"/>
<circle cx="83.1" cy="385.9" r="3.00" fill="url(#gC)"/>
<circle cx="88.8" cy="385.9" r="3.00" fill="url(#gC)"/>
<circle cx="99.8" cy="385.9" r="3.00" fill="url(#gC)"/>
<circle cx="105.1" cy="385.9" r="3.00" fill="url(#gC)"/>
<circle cx="115.7" cy="385.9" r="3.00" fill="url(#gC)"/>
<circle cx="121.4" cy="385.9" r="3.00" fill="url(#gC)"/>
<circle cx="131.7" cy="385.9" r="3.00" fill="url(#gC)"/>
<circle cx="136.8" cy="385.9" r="3.00" fill="url(#gC)"/>
<circle cx="146.5" cy="385.9" r="3.00" fill="url(#gC)"/>
<path d="M88.8 374.1L95.4 371.6" stroke="#e8e020" stroke-width="2.6"/>
<path d="M95.4 371.6L102.1 369.1" stroke="#5a1a9a" stroke-width="2.6"/>
<path d="M116.1 373.6L109.1 371.4" stroke="#e8e020" stroke-width="2.6"/>
<path d="M109.1 371.4L102.1 369.1" stroke="#5a1a9a" stroke-width="2.6"/>
<path d="M96.2 375.6L99.2 372.4" stroke="#e8e020" stroke-width="2.6"/>
<path d="M99.2 372.4L102.1 369.1" stroke="#5a1a9a" stroke-width="2.6"/>
<path d="M105.8 375.1L103.9 372.1" stroke="#e8e020" stroke-width="2.6"/>
<path d="M103.9 372.1L102.1 369.1" stroke="#5a1a9a" stroke-width="2.6"/>
<circle cx="88.8" cy="374.1" r="2.60" fill="url(#gP)"/>
<circle cx="116.1" cy="373.6" r="2.60" fill="url(#gP)"/>
<circle cx="96.2" cy="375.6" r="2.60" fill="url(#gP)"/>
<circle cx="105.8" cy="375.1" r="2.60" fill="url(#gP)"/>
<circle cx="102.1" cy="369.1" r="2.60" fill="url(#gF)"/>
<path d="M102.1 369.1L101.0 363.5" stroke="#5a1a9a" stroke-width="1.8"/>
<path d="M101.0 363.5L99.9 357.8" stroke="#d8d8d8" stroke-width="1.8"/>
<path d="M102.1 369.1L103.2 363.5" stroke="#5a1a9a" stroke-width="1.8"/>
<path d="M103.2 363.5L104.3 357.8" stroke="#d8d8d8" stroke-width="1.8"/>
<circle cx="99.9" cy="357.8" r="2.60" fill="url(#gH)"/>
<circle cx="104.3" cy="357.8" r="2.60" fill="url(#gH)"/>
<path d="M84.5 342.3L88.8 341.9" stroke="#e01010" stroke-width="3.0"/>
<path d="M88.8 341.9L93.2 341.5" stroke="#1428e8" stroke-width="3.0"/>
<path d="M93.2 341.5L95.3 340.2" stroke="#1428e8" stroke-width="3.0"/>
<path d="M95.3 340.2L97.5 339.0" stroke="#e01010" stroke-width="3.0"/>
<path d="M97.5 339.0L99.4 337.4" stroke="#e01010" stroke-width="3.0"/>
<path d="M99.4 337.4L101.3 335.8" stroke="#e01010" stroke-width="3.0"/>
<path d="M101.3 335.8L102.7 337.2" stroke="#e01010" stroke-width="3.0"/>
<path d="M102.7 337.2L104.0 338.6" stroke="#e01010" stroke-width="3.0"/>
<path d="M104.0 338.6L107.0 339.1" stroke="#e01010" stroke-width="3.0"/>
<path d="M107.0 339.1L110.0 339.6" stroke="#e01010" stroke-width="3.0"/>
<path d="M110.0 339.6L111.9 341.1" stroke="#e01010" stroke-width="3.0"/>
<path d="M111.9 341.1L113.8 342.6" stroke="#e01010" stroke-width="3.0"/>
<path d="M113.8 342.6L110.4 343.6" stroke="#e01010" stroke-width="3.0"/>
<path d="M110.4 343.6L107.0 344.6" stroke="#e01010" stroke-width="3.0"/>
<path d="M107.0 344.6L103.0 344.4" stroke="#e01010" stroke-width="3.0"/>
<path d="M103.0 344.4L99.0 344.2" stroke="#e01010" stroke-width="3.0"/>
<path d="M99.0 344.2L94.0 344.1" stroke="#e01010" stroke-width="3.0"/>
<path d="M94.0 344.1L89.0 344.0" stroke="#e01010" stroke-width="3.0"/>
<path d="M89.0 344.0L86.8 343.1" stroke="#e01010" stroke-width="3.0"/>
<path d="M86.8 343.1L84.5 342.3" stroke="#e01010" stroke-width="3.0"/>
<path d="M99.0 344.2L98.2 341.6" stroke="#e01010" stroke-width="3.0"/>
<path d="M98.2 341.6L97.5 339.0" stroke="#e01010" stroke-width="3.0"/>
<path d="M104.0 338.6L105.5 341.6" stroke="#e01010" stroke-width="3.0"/>
<path d="M105.5 341.6L107.0 344.6" stroke="#e01010" stroke-width="3.0"/>
<path d="M84.5 342.3L81.5 342.5" stroke="#e01010" stroke-width="1.8"/>
<path d="M81.5 342.5L78.4 342.6" stroke="#d8d8d8" stroke-width="1.8"/>
<path d="M93.2 341.5L89.8 341.1" stroke="#1428e8" stroke-width="1.8"/>
<path d="M89.8 341.1L86.5 340.8" stroke="#d8d8d8" stroke-width="1.8"/>
<path d="M101.3 335.8L100.8 332.4" stroke="#e01010" stroke-width="1.8"/>
<path d="M100.8 332.4L100.2 329.0" stroke="#d8d8d8" stroke-width="1.8"/>
<path d="M113.8 342.6L114.9 341.0" stroke="#e01010" stroke-width="1.8"/>
<path d="M114.9 341.0L116.1 339.3" stroke="#d8d8d8" stroke-width="1.8"/>
<path d="M113.8 342.6L116.0 343.1" stroke="#e01010" stroke-width="1.8"/>
<path d="M116.0 343.1L118.3 343.5" stroke="#d8d8d8" stroke-width="1.8"/>
<circle cx="84.5" cy="342.3" r="2.15" fill="url(#gC)"/>
<circle cx="93.2" cy="341.5" r="2.55" fill="url(#gN)"/>
<circle cx="99.0" cy="344.2" r="2.15" fill="url(#gC)"/>
<circle cx="107.0" cy="344.6" r="2.15" fill="url(#gC)"/>
<circle cx="113.8" cy="342.6" r="2.15" fill="url(#gC)"/>
<circle cx="110.0" cy="339.6" r="2.15" fill="url(#gC)"/>
<circle cx="104.0" cy="338.6" r="2.15" fill="url(#gC)"/>
<circle cx="101.3" cy="335.8" r="2.15" fill="url(#gC)"/>
<circle cx="97.5" cy="339.0" r="2.15" fill="url(#gC)"/>
<circle cx="89.0" cy="344.0" r="2.15" fill="url(#gC)"/>
<circle cx="78.4" cy="342.6" r="2.65" fill="url(#gH)"/>
<circle cx="86.5" cy="340.8" r="2.65" fill="url(#gH)"/>
<circle cx="100.2" cy="329.0" r="2.65" fill="url(#gH)"/>
<circle cx="100.6" cy="339.3" r="2.65" fill="url(#gH)"/>
<circle cx="116.1" cy="339.3" r="2.65" fill="url(#gH)"/>
<circle cx="118.3" cy="343.5" r="2.65" fill="url(#gH)"/>
<path d="M161.7 387.6L248.3 387.6L249.5 386.0L240.6 382.3L225.8 378.6L224.6 377.1L186.0 377.1L184.8 378.6L170.8 382.3L160.5 386.0Z" fill="#9c0404"/>
<path d="M191.3 373.7L188.4 378.6" stroke="#d8d018" stroke-width="2.2"/>
<path d="M218.0 373.4L220.9 378.6" stroke="#d8d018" stroke-width="2.2"/>
<path d="M198.7 375.6L197.4 378.6" stroke="#d8d018" stroke-width="2.2"/>
<path d="M208.3 373.7L209.1 378.6" stroke="#d8d018" stroke-width="2.2"/>
<path d="M186.0 378.6L224.6 378.6" stroke="#d80c0c" stroke-width="2.4"/>
<circle cx="185.9" cy="378.6" r="2.70" fill="url(#gC)"/>
<circle cx="191.6" cy="378.6" r="2.70" fill="url(#gC)"/>
<circle cx="202.4" cy="378.6" r="2.70" fill="url(#gC)"/>
<circle cx="207.6" cy="378.6" r="2.70" fill="url(#gC)"/>
<circle cx="218.0" cy="378.6" r="2.70" fill="url(#gC)"/>
<circle cx="223.6" cy="378.6" r="2.70" fill="url(#gC)"/>
<path d="M172.0 382.3L239.4 382.3" stroke="#d80c0c" stroke-width="2.4"/>
<circle cx="171.2" cy="382.3" r="2.88" fill="url(#gC)"/>
<circle cx="176.6" cy="382.3" r="2.88" fill="url(#gC)"/>
<circle cx="185.9" cy="382.3" r="2.88" fill="url(#gC)"/>
<circle cx="191.6" cy="382.3" r="2.88" fill="url(#gC)"/>
<circle cx="202.4" cy="382.3" r="2.88" fill="url(#gC)"/>
<circle cx="207.6" cy="382.3" r="2.88" fill="url(#gC)"/>
<circle cx="218.0" cy="382.3" r="2.88" fill="url(#gC)"/>
<circle cx="223.6" cy="382.3" r="2.88" fill="url(#gC)"/>
<circle cx="233.8" cy="382.3" r="2.88" fill="url(#gC)"/>
<circle cx="238.8" cy="382.3" r="2.88" fill="url(#gC)"/>
<path d="M161.7 386.0L248.3 386.0" stroke="#d80c0c" stroke-width="2.6"/>
<circle cx="161.7" cy="386.0" r="3.00" fill="url(#gC)"/>
<circle cx="171.2" cy="386.0" r="3.00" fill="url(#gC)"/>
<circle cx="176.6" cy="386.0" r="3.00" fill="url(#gC)"/>
<circle cx="185.9" cy="386.0" r="3.00" fill="url(#gC)"/>
<circle cx="191.6" cy="386.0" r="3.00" fill="url(#gC)"/>
<circle cx="202.4" cy="386.0" r="3.00" fill="url(#gC)"/>
<circle cx="207.6" cy="386.0" r="3.00" fill="url(#gC)"/>
<circle cx="218.0" cy="386.0" r="3.00" fill="url(#gC)"/>
<circle cx="223.6" cy="386.0" r="3.00" fill="url(#gC)"/>
<circle cx="233.8" cy="386.0" r="3.00" fill="url(#gC)"/>
<circle cx="238.8" cy="386.0" r="3.00" fill="url(#gC)"/>
<circle cx="248.3" cy="386.0" r="3.00" fill="url(#gC)"/>
<path d="M191.3 373.7L197.9 371.0" stroke="#e8e020" stroke-width="2.6"/>
<path d="M197.9 371.0L204.6 368.4" stroke="#5a1a9a" stroke-width="2.6"/>
<path d="M218.0 373.4L211.3 370.9" stroke="#e8e020" stroke-width="2.6"/>
<path d="M211.3 370.9L204.6 368.4" stroke="#5a1a9a" stroke-width="2.6"/>
<path d="M198.7 375.6L201.6 372.0" stroke="#e8e020" stroke-width="2.6"/>
<path d="M201.6 372.0L204.6 368.4" stroke="#5a1a9a" stroke-width="2.6"/>
<path d="M208.3 373.7L206.4 371.0" stroke="#e8e020" stroke-width="2.6"/>
<path d="M206.4 371.0L204.6 368.4" stroke="#5a1a9a" stroke-width="2.6"/>
<circle cx="191.3" cy="373.7" r="2.60" fill="url(#gP)"/>
<circle cx="218.0" cy="373.4" r="2.60" fill="url(#gP)"/>
<circle cx="198.7" cy="375.6" r="2.60" fill="url(#gP)"/>
<circle cx="208.3" cy="373.7" r="2.60" fill="url(#gP)"/>
<circle cx="204.6" cy="368.4" r="2.60" fill="url(#gF)"/>
<path d="M204.6 368.4L205.0 364.4" stroke="#5a1a9a" stroke-width="1.8"/>
<path d="M205.0 364.4L205.4 360.3" stroke="#d8d8d8" stroke-width="1.8"/>
<circle cx="205.4" cy="360.3" r="2.60" fill="url(#gH)"/>
<path d="M195.0 346.0L200.9 343.1" stroke="#e01010" stroke-width="3.0"/>
<path d="M200.9 343.1L206.9 340.1" stroke="#e01010" stroke-width="3.0"/>
<path d="M206.9 340.1L210.9 341.6" stroke="#e01010" stroke-width="3.0"/>
<path d="M210.9 341.6L215.0 343.0" stroke="#1428e8" stroke-width="3.0"/>
<path d="M215.0 343.0L213.9 344.9" stroke="#1428e8" stroke-width="3.0"/>
<path d="M213.9 344.9L212.8 346.7" stroke="#e01010" stroke-width="3.0"/>
<path d="M195.0 346.0L198.7 346.4" stroke="#e01010" stroke-width="3.0"/>
<path d="M198.7 346.4L202.4 346.7" stroke="#e01010" stroke-width="3.0"/>
<path d="M202.4 346.7L207.6 346.7" stroke="#e01010" stroke-width="3.0"/>
<path d="M207.6 346.7L212.8 346.7" stroke="#e01010" stroke-width="3.0"/>
<path d="M212.8 346.7L217.2 347.8" stroke="#e01010" stroke-width="3.0"/>
<path d="M217.2 347.8L221.7 348.9" stroke="#e01010" stroke-width="3.0"/>
<path d="M221.7 348.9L221.7 351.1" stroke="#e01010" stroke-width="3.0"/>
<path d="M221.7 351.1L221.7 353.4" stroke="#e01010" stroke-width="3.0"/>
<path d="M221.7 353.4L216.8 353.1" stroke="#e01010" stroke-width="3.0"/>
<path d="M216.8 353.1L212.0 352.9" stroke="#e01010" stroke-width="3.0"/>
<path d="M212.0 352.9L207.2 351.9" stroke="#e01010" stroke-width="3.0"/>
<path d="M207.2 351.9L202.4 350.9" stroke="#e01010" stroke-width="3.0"/>
<path d="M202.4 350.9L202.4 348.8" stroke="#e01010" stroke-width="3.0"/>
<path d="M202.4 348.8L202.4 346.7" stroke="#e01010" stroke-width="3.0"/>
<path d="M206.9 340.1L206.2 336.6" stroke="#e01010" stroke-width="1.8"/>
<path d="M206.2 336.6L205.4 333.1" stroke="#d8d8d8" stroke-width="1.8"/>
<path d="M195.0 346.0L192.4 347.1" stroke="#e01010" stroke-width="1.8"/>
<path d="M192.4 347.1L189.8 348.2" stroke="#d8d8d8" stroke-width="1.8"/>
<path d="M195.0 346.0L193.5 345.2" stroke="#e01010" stroke-width="1.8"/>
<path d="M193.5 345.2L192.0 344.5" stroke="#d8d8d8" stroke-width="1.8"/>
<path d="M202.4 350.9L199.1 351.0" stroke="#e01010" stroke-width="1.8"/>
<path d="M199.1 351.0L195.7 351.2" stroke="#d8d8d8" stroke-width="1.8"/>
<path d="M202.4 350.9L201.3 353.2" stroke="#e01010" stroke-width="1.8"/>
<path d="M201.3 353.2L200.2 355.6" stroke="#d8d8d8" stroke-width="1.8"/>
<path d="M212.0 352.9L210.9 354.2" stroke="#e01010" stroke-width="1.8"/>
<path d="M210.9 354.2L209.8 355.6" stroke="#d8d8d8" stroke-width="1.8"/>
<path d="M215.0 343.0L217.9 343.2" stroke="#1428e8" stroke-width="1.8"/>
<path d="M217.9 343.2L220.9 343.5" stroke="#d8d8d8" stroke-width="1.8"/>
<path d="M221.7 348.9L224.6 348.9" stroke="#e01010" stroke-width="1.8"/>
<path d="M224.6 348.9L227.6 348.9" stroke="#d8d8d8" stroke-width="1.8"/>
<path d="M221.7 353.4L223.9 354.1" stroke="#e01010" stroke-width="1.8"/>
<path d="M223.9 354.1L226.1 354.9" stroke="#d8d8d8" stroke-width="1.8"/>
<circle cx="195.0" cy="346.0" r="2.15" fill="url(#gC)"/>
<circle cx="206.9" cy="340.1" r="2.15" fill="url(#gC)"/>
<circle cx="215.0" cy="343.0" r="2.55" fill="url(#gN)"/>
<circle cx="202.4" cy="346.7" r="2.15" fill="url(#gC)"/>
<circle cx="212.8" cy="346.7" r="2.15" fill="url(#gC)"/>
<circle cx="221.7" cy="348.9" r="2.15" fill="url(#gC)"/>
<circle cx="221.7" cy="353.4" r="2.15" fill="url(#gC)"/>
<circle cx="212.0" cy="352.9" r="2.15" fill="url(#gC)"/>
<circle cx="202.4" cy="350.9" r="2.15" fill="url(#gC)"/>
<circle cx="205.4" cy="333.1" r="2.65" fill="url(#gH)"/>
<circle cx="189.8" cy="348.2" r="2.65" fill="url(#gH)"/>
<circle cx="192.0" cy="344.5" r="2.65" fill="url(#gH)"/>
<circle cx="195.7" cy="351.2" r="2.65" fill="url(#gH)"/>
<circle cx="200.2" cy="355.6" r="2.65" fill="url(#gH)"/>
<circle cx="209.8" cy="355.6" r="2.65" fill="url(#gH)"/>
<circle cx="220.9" cy="343.5" r="2.65" fill="url(#gH)"/>
<circle cx="227.6" cy="348.9" r="2.65" fill="url(#gH)"/>
<circle cx="226.1" cy="354.9" r="2.65" fill="url(#gH)"/>
<path d="M332.7 387.5L422.9 387.5L424.1 385.9L416.0 383.0L399.7 378.5L398.5 377.0L357.0 377.0L355.8 378.5L342.6 383.0L331.5 385.9Z" fill="#9c0404"/>
<path d="M363.7 373.0L360.6 378.5" stroke="#d8d018" stroke-width="2.2"/>
<path d="M391.8 373.3L394.9 378.5" stroke="#d8d018" stroke-width="2.2"/>
<path d="M373.3 374.1L372.3 378.5" stroke="#d8d018" stroke-width="2.2"/>
<path d="M381.5 373.6L382.3 378.5" stroke="#d8d018" stroke-width="2.2"/>
<path d="M357.0 378.5L398.5 378.5" stroke="#d80c0c" stroke-width="2.4"/>
<circle cx="358.0" cy="378.5" r="2.70" fill="url(#gC)"/>
<circle cx="363.8" cy="378.5" r="2.70" fill="url(#gC)"/>
<circle cx="375.1" cy="378.5" r="2.70" fill="url(#gC)"/>
<circle cx="380.5" cy="378.5" r="2.70" fill="url(#gC)"/>
<circle cx="391.3" cy="378.5" r="2.70" fill="url(#gC)"/>
<circle cx="397.2" cy="378.5" r="2.70" fill="url(#gC)"/>
<path d="M343.8 383.0L414.8 383.0" stroke="#d80c0c" stroke-width="2.4"/>
<circle cx="342.6" cy="383.0" r="2.88" fill="url(#gC)"/>
<circle cx="348.3" cy="383.0" r="2.88" fill="url(#gC)"/>
<circle cx="358.0" cy="383.0" r="2.88" fill="url(#gC)"/>
<circle cx="363.8" cy="383.0" r="2.88" fill="url(#gC)"/>
<circle cx="375.1" cy="383.0" r="2.88" fill="url(#gC)"/>
<circle cx="380.5" cy="383.0" r="2.88" fill="url(#gC)"/>
<circle cx="391.3" cy="383.0" r="2.88" fill="url(#gC)"/>
<circle cx="397.2" cy="383.0" r="2.88" fill="url(#gC)"/>
<circle cx="407.8" cy="383.0" r="2.88" fill="url(#gC)"/>
<circle cx="413.0" cy="383.0" r="2.88" fill="url(#gC)"/>
<path d="M332.7 385.9L422.9 385.9" stroke="#d80c0c" stroke-width="2.6"/>
<circle cx="332.7" cy="385.9" r="3.00" fill="url(#gC)"/>
<circle cx="342.6" cy="385.9" r="3.00" fill="url(#gC)"/>
<circle cx="348.3" cy="385.9" r="3.00" fill="url(#gC)"/>
<circle cx="358.0" cy="385.9" r="3.00" fill="url(#gC)"/>
<circle cx="363.8" cy="385.9" r="3.00" fill="url(#gC)"/>
<circle cx="375.1" cy="385.9" r="3.00" fill="url(#gC)"/>
<circle cx="380.5" cy="385.9" r="3.00" fill="url(#gC)"/>
<circle cx="391.3" cy="385.9" r="3.00" fill="url(#gC)"/>
<circle cx="397.2" cy="385.9" r="3.00" fill="url(#gC)"/>
<circle cx="407.8" cy="385.9" r="3.00" fill="url(#gC)"/>
<circle cx="413.0" cy="385.9" r="3.00" fill="url(#gC)"/>
<circle cx="422.9" cy="385.9" r="3.00" fill="url(#gC)"/>
<path d="M363.7 373.0L370.8 370.7" stroke="#e8e020" stroke-width="2.6"/>
<path d="M370.8 370.7L377.8 368.4" stroke="#5a1a9a" stroke-width="2.6"/>
<path d="M391.8 373.3L384.8 370.9" stroke="#e8e020" stroke-width="2.6"/>
<path d="M384.8 370.9L377.8 368.4" stroke="#5a1a9a" stroke-width="2.6"/>
<path d="M373.3 374.1L375.6 371.2" stroke="#e8e020" stroke-width="2.6"/>
<path d="M375.6 371.2L377.8 368.4" stroke="#5a1a9a" stroke-width="2.6"/>
<path d="M381.5 373.6L379.6 371.0" stroke="#e8e020" stroke-width="2.6"/>
<path d="M379.6 371.0L377.8 368.4" stroke="#5a1a9a" stroke-width="2.6"/>
<circle cx="363.7" cy="373.0" r="2.60" fill="url(#gP)"/>
<circle cx="391.8" cy="373.3" r="2.60" fill="url(#gP)"/>
<circle cx="373.3" cy="374.1" r="2.60" fill="url(#gP)"/>
<circle cx="381.5" cy="373.6" r="2.60" fill="url(#gP)"/>
<circle cx="377.8" cy="368.4" r="2.60" fill="url(#gF)"/>
<path d="M377.8 368.4L379.6 364.6" stroke="#5a1a9a" stroke-width="1.8"/>
<path d="M379.6 364.6L381.5 360.8" stroke="#d8d8d8" stroke-width="1.8"/>
<circle cx="381.5" cy="360.8" r="2.60" fill="url(#gH)"/>
<path d="M374.8 348.2L380.0 348.2" stroke="#e01010" stroke-width="3.0"/>
<path d="M380.0 348.2L385.2 348.2" stroke="#e01010" stroke-width="3.0"/>
<path d="M385.2 348.2L389.2 350.4" stroke="#e01010" stroke-width="3.0"/>
<path d="M389.2 350.4L393.3 352.6" stroke="#e01010" stroke-width="3.0"/>
<path d="M393.3 352.6L392.2 355.2" stroke="#e01010" stroke-width="3.0"/>
<path d="M392.2 355.2L391.1 357.8" stroke="#e01010" stroke-width="3.0"/>
<path d="M391.1 357.8L386.3 357.8" stroke="#e01010" stroke-width="3.0"/>
<path d="M386.3 357.8L381.5 357.8" stroke="#e01010" stroke-width="3.0"/>
<path d="M381.5 357.8L377.4 355.6" stroke="#e01010" stroke-width="3.0"/>
<path d="M377.4 355.6L373.3 353.4" stroke="#e01010" stroke-width="3.0"/>
<path d="M373.3 353.4L374.1 350.8" stroke="#e01010" stroke-width="3.0"/>
<path d="M374.1 350.8L374.8 348.2" stroke="#e01010" stroke-width="3.0"/>
<path d="M374.8 348.2L370.8 346.4" stroke="#e01010" stroke-width="3.0"/>
<path d="M370.8 346.4L366.7 344.5" stroke="#e01010" stroke-width="3.0"/>
<path d="M366.7 344.5L367.0 342.3" stroke="#e01010" stroke-width="3.0"/>
<path d="M367.0 342.3L367.4 340.1" stroke="#e01010" stroke-width="3.0"/>
<path d="M367.4 340.1L372.9 337.9" stroke="#e01010" stroke-width="3.0"/>
<path d="M372.9 337.9L378.5 335.6" stroke="#e01010" stroke-width="3.0"/>
<path d="M378.5 335.6L382.2 339.0" stroke="#e01010" stroke-width="3.0"/>
<path d="M382.2 339.0L385.9 342.3" stroke="#1428e8" stroke-width="3.0"/>
<path d="M385.9 342.3L385.5 345.2" stroke="#1428e8" stroke-width="3.0"/>
<path d="M385.5 345.2L385.2 348.2" stroke="#e01010" stroke-width="3.0"/>
<path d="M378.5 335.6L378.5 332.3" stroke="#e01010" stroke-width="1.8"/>
<path d="M378.5 332.3L378.5 329.0" stroke="#d8d8d8" stroke-width="1.8"/>
<path d="M367.4 340.1L365.2 337.9" stroke="#e01010" stroke-width="1.8"/>
<path d="M365.2 337.9L363.0 335.6" stroke="#d8d8d8" stroke-width="1.8"/>
<path d="M366.7 344.5L363.4 344.9" stroke="#e01010" stroke-width="1.8"/>
<path d="M363.4 344.9L360.0 345.2" stroke="#d8d8d8" stroke-width="1.8"/>
<path d="M373.3 353.4L370.0 353.4" stroke="#e01010" stroke-width="1.8"/>
<path d="M370.0 353.4L366.7 353.4" stroke="#d8d8d8" stroke-width="1.8"/>
<path d="M385.9 342.3L389.6 342.3" stroke="#1428e8" stroke-width="1.8"/>
<path d="M389.6 342.3L393.3 342.3" stroke="#d8d8d8" stroke-width="1.8"/>
<path d="M393.3 352.6L396.6 352.2" stroke="#e01010" stroke-width="1.8"/>
<path d="M396.6 352.2L400.0 351.9" stroke="#d8d8d8" stroke-width="1.8"/>
<path d="M391.1 357.8L394.4 358.9" stroke="#e01010" stroke-width="1.8"/>
<path d="M394.4 358.9L397.7 360.0" stroke="#d8d8d8" stroke-width="1.8"/>
<circle cx="374.8" cy="348.2" r="2.15" fill="url(#gC)"/>
<circle cx="385.2" cy="348.2" r="2.15" fill="url(#gC)"/>
<circle cx="393.3" cy="352.6" r="2.15" fill="url(#gC)"/>
<circle cx="391.1" cy="357.8" r="2.15" fill="url(#gC)"/>
<circle cx="381.5" cy="357.8" r="2.15" fill="url(#gC)"/>
<circle cx="373.3" cy="353.4" r="2.15" fill="url(#gC)"/>
<circle cx="366.7" cy="344.5" r="2.15" fill="url(#gC)"/>
<circle cx="367.4" cy="340.1" r="2.15" fill="url(#gC)"/>
<circle cx="378.5" cy="335.6" r="2.15" fill="url(#gC)"/>
<circle cx="385.9" cy="342.3" r="2.55" fill="url(#gN)"/>
<circle cx="378.5" cy="329.0" r="2.65" fill="url(#gH)"/>
<circle cx="363.0" cy="335.6" r="2.65" fill="url(#gH)"/>
<circle cx="360.0" cy="345.2" r="2.65" fill="url(#gH)"/>
<circle cx="366.7" cy="353.4" r="2.65" fill="url(#gH)"/>
<circle cx="393.3" cy="342.3" r="2.65" fill="url(#gH)"/>
<circle cx="400.0" cy="351.9" r="2.65" fill="url(#gH)"/>
<circle cx="397.7" cy="360.0" r="2.65" fill="url(#gH)"/>
<path d="M436.7 387.6L518.1 387.6L519.3 386.0L514.1 383.0L497.8 379.3L496.6 377.8L458.1 377.8L456.9 379.3L445.1 383.0L435.5 386.0Z" fill="#9c0404"/>
<path d="M464.8 374.6L462.2 379.3" stroke="#d8d018" stroke-width="2.2"/>
<path d="M490.0 374.1L492.9 379.3" stroke="#d8d018" stroke-width="2.2"/>
<path d="M472.9 375.6L472.1 379.3" stroke="#d8d018" stroke-width="2.2"/>
<path d="M481.1 374.6L482.1 379.3" stroke="#d8d018" stroke-width="2.2"/>
<path d="M458.1 379.3L496.6 379.3" stroke="#d80c0c" stroke-width="2.4"/>
<circle cx="459.5" cy="379.3" r="2.70" fill="url(#gC)"/>
<circle cx="464.8" cy="379.3" r="2.70" fill="url(#gC)"/>
<circle cx="475.0" cy="379.3" r="2.70" fill="url(#gC)"/>
<circle cx="479.8" cy="379.3" r="2.70" fill="url(#gC)"/>
<circle cx="489.6" cy="379.3" r="2.70" fill="url(#gC)"/>
<circle cx="494.9" cy="379.3" r="2.70" fill="url(#gC)"/>
<path d="M446.3 383.0L512.9 383.0" stroke="#d80c0c" stroke-width="2.4"/>
<circle cx="445.7" cy="383.0" r="2.88" fill="url(#gC)"/>
<circle cx="450.7" cy="383.0" r="2.88" fill="url(#gC)"/>
<circle cx="459.5" cy="383.0" r="2.88" fill="url(#gC)"/>
<circle cx="464.8" cy="383.0" r="2.88" fill="url(#gC)"/>
<circle cx="475.0" cy="383.0" r="2.88" fill="url(#gC)"/>
<circle cx="479.8" cy="383.0" r="2.88" fill="url(#gC)"/>
<circle cx="489.6" cy="383.0" r="2.88" fill="url(#gC)"/>
<circle cx="494.9" cy="383.0" r="2.88" fill="url(#gC)"/>
<circle cx="504.5" cy="383.0" r="2.88" fill="url(#gC)"/>
<circle cx="509.1" cy="383.0" r="2.88" fill="url(#gC)"/>
<path d="M436.7 386.0L518.1 386.0" stroke="#d80c0c" stroke-width="2.6"/>
<circle cx="436.7" cy="386.0" r="3.00" fill="url(#gC)"/>
<circle cx="445.7" cy="386.0" r="3.00" fill="url(#gC)"/>
<circle cx="450.7" cy="386.0" r="3.00" fill="url(#gC)"/>
<circle cx="459.5" cy="386.0" r="3.00" fill="url(#gC)"/>
<circle cx="464.8" cy="386.0" r="3.00" fill="url(#gC)"/>
<circle cx="475.0" cy="386.0" r="3.00" fill="url(#gC)"/>
<circle cx="479.8" cy="386.0" r="3.00" fill="url(#gC)"/>
<circle cx="489.6" cy="386.0" r="3.00" fill="url(#gC)"/>
<circle cx="494.9" cy="386.0" r="3.00" fill="url(#gC)"/>
<circle cx="504.5" cy="386.0" r="3.00" fill="url(#gC)"/>
<circle cx="509.1" cy="386.0" r="3.00" fill="url(#gC)"/>
<circle cx="518.1" cy="386.0" r="3.00" fill="url(#gC)"/>
<path d="M464.8 374.6L470.7 372.2" stroke="#e8e020" stroke-width="2.6"/>
<path d="M470.7 372.2L476.6 369.9" stroke="#5a1a9a" stroke-width="2.6"/>
<path d="M490.0 374.1L483.3 372.0" stroke="#e8e020" stroke-width="2.6"/>
<path d="M483.3 372.0L476.6 369.9" stroke="#5a1a9a" stroke-width="2.6"/>
<path d="M472.9 375.6L474.8 372.8" stroke="#e8e020" stroke-width="2.6"/>
<path d="M474.8 372.8L476.6 369.9" stroke="#5a1a9a" stroke-width="2.6"/>
<path d="M481.1 374.6L478.9 372.2" stroke="#e8e020" stroke-width="2.6"/>
<path d="M478.9 372.2L476.6 369.9" stroke="#5a1a9a" stroke-width="2.6"/>
<circle cx="464.8" cy="374.6" r="2.60" fill="url(#gP)"/>
<circle cx="490.0" cy="374.1" r="2.60" fill="url(#gP)"/>
<circle cx="472.9" cy="375.6" r="2.60" fill="url(#gP)"/>
<circle cx="481.1" cy="374.6" r="2.60" fill="url(#gP)"/>
<circle cx="476.6" cy="369.9" r="2.60" fill="url(#gF)"/>
<path d="M476.6 369.9L476.6 366.1" stroke="#5a1a9a" stroke-width="1.8"/>
<path d="M476.6 366.1L476.6 362.3" stroke="#d8d8d8" stroke-width="1.8"/>
<circle cx="476.6" cy="362.3" r="2.60" fill="url(#gH)"/>
<path d="M473.7 348.9L478.9 348.9" stroke="#e01010" stroke-width="3.0"/>
<path d="M478.9 348.9L484.0 348.9" stroke="#e01010" stroke-width="3.0"/>
<path d="M484.0 348.9L486.2 351.5" stroke="#e01010" stroke-width="3.0"/>
<path d="M486.2 351.5L488.5 354.1" stroke="#e01010" stroke-width="3.0"/>
<path d="M488.5 354.1L485.6 356.5" stroke="#e01010" stroke-width="3.0"/>
<path d="M485.6 356.5L482.6 358.9" stroke="#e01010" stroke-width="3.0"/>
<path d="M482.6 358.9L477.4 358.4" stroke="#e01010" stroke-width="3.0"/>
<path d="M477.4 358.4L472.2 357.8" stroke="#e01010" stroke-width="3.0"/>
<path d="M472.2 357.8L469.9 355.6" stroke="#e01010" stroke-width="3.0"/>
<path d="M469.9 355.6L467.7 353.4" stroke="#e01010" stroke-width="3.0"/>
<path d="M467.7 353.4L470.7 351.1" stroke="#e01010" stroke-width="3.0"/>
<path d="M470.7 351.1L473.7 348.9" stroke="#e01010" stroke-width="3.0"/>
<path d="M473.7 348.9L472.6 347.0" stroke="#e01010" stroke-width="3.0"/>
<path d="M472.6 347.0L471.5 345.2" stroke="#e01010" stroke-width="3.0"/>
<path d="M471.5 345.2L475.2 343.0" stroke="#e01010" stroke-width="3.0"/>
<path d="M475.2 343.0L478.9 340.8" stroke="#e01010" stroke-width="3.0"/>
<path d="M478.9 340.8L482.9 340.1" stroke="#e01010" stroke-width="3.0"/>
<path d="M482.9 340.1L487.0 339.3" stroke="#e01010" stroke-width="3.0"/>
<path d="M487.0 339.3L488.5 342.6" stroke="#e01010" stroke-width="3.0"/>
<path d="M488.5 342.6L490.0 346.0" stroke="#1428e8" stroke-width="3.0"/>
<path d="M490.0 346.0L487.0 347.4" stroke="#1428e8" stroke-width="3.0"/>
<path d="M487.0 347.4L484.0 348.9" stroke="#e01010" stroke-width="3.0"/>
<path d="M487.0 339.3L486.6 336.2" stroke="#e01010" stroke-width="1.8"/>
<path d="M486.6 336.2L486.3 333.1" stroke="#d8d8d8" stroke-width="1.8"/>
<path d="M478.9 340.8L477.4 339.0" stroke="#e01010" stroke-width="1.8"/>
<path d="M477.4 339.0L475.9 337.1" stroke="#d8d8d8" stroke-width="1.8"/>
<path d="M487.0 339.3L489.9 339.7" stroke="#e01010" stroke-width="1.8"/>
<path d="M489.9 339.7L492.9 340.1" stroke="#d8d8d8" stroke-width="1.8"/>
<path d="M471.5 345.2L468.1 345.2" stroke="#e01010" stroke-width="1.8"/>
<path d="M468.1 345.2L464.8 345.2" stroke="#d8d8d8" stroke-width="1.8"/>
<path d="M490.0 346.0L493.3 346.0" stroke="#1428e8" stroke-width="1.8"/>
<path d="M493.3 346.0L496.6 346.0" stroke="#d8d8d8" stroke-width="1.8"/>
<path d="M467.7 353.4L464.8 353.1" stroke="#e01010" stroke-width="1.8"/>
<path d="M464.8 353.1L461.8 352.9" stroke="#d8d8d8" stroke-width="1.8"/>
<path d="M488.5 354.1L491.4 354.9" stroke="#e01010" stroke-width="1.8"/>
<path d="M491.4 354.9L494.4 355.6" stroke="#d8d8d8" stroke-width="1.8"/>
<path d="M472.2 357.8L469.2 359.3" stroke="#e01010" stroke-width="1.8"/>
<path d="M469.2 359.3L466.3 360.8" stroke="#d8d8d8" stroke-width="1.8"/>
<path d="M482.6 358.9L483.3 360.2" stroke="#e01010" stroke-width="1.8"/>
<path d="M483.3 360.2L484.0 361.5" stroke="#d8d8d8" stroke-width="1.8"/>
<circle cx="473.7" cy="348.9" r="2.15" fill="url(#gC)"/>
<circle cx="484.0" cy="348.9" r="2.15" fill="url(#gC)"/>
<circle cx="488.5" cy="354.1" r="2.15" fill="url(#gC)"/>
<circle cx="482.6" cy="358.9" r="2.15" fill="url(#gC)"/>
<circle cx="472.2" cy="357.8" r="2.15" fill="url(#gC)"/>
<circle cx="467.7" cy="353.4" r="2.15" fill="url(#gC)"/>
<circle cx="471.5" cy="345.2" r="2.15" fill="url(#gC)"/>
<circle cx="478.9" cy="340.8" r="2.15" fill="url(#gC)"/>
<circle cx="487.0" cy="339.3" r="2.15" fill="url(#gC)"/>
<circle cx="490.0" cy="346.0" r="2.55" fill="url(#gN)"/>
<circle cx="486.3" cy="333.1" r="2.65" fill="url(#gH)"/>
<circle cx="475.9" cy="337.1" r="2.65" fill="url(#gH)"/>
<circle cx="492.9" cy="340.1" r="2.65" fill="url(#gH)"/>
<circle cx="464.8" cy="345.2" r="2.65" fill="url(#gH)"/>
<circle cx="496.6" cy="346.0" r="2.65" fill="url(#gH)"/>
<circle cx="461.8" cy="352.9" r="2.65" fill="url(#gH)"/>
<circle cx="494.4" cy="355.6" r="2.65" fill="url(#gH)"/>
<circle cx="466.3" cy="360.8" r="2.65" fill="url(#gH)"/>
<circle cx="484.0" cy="361.5" r="2.65" fill="url(#gH)"/>
<path d="M596.7 387.6L678.1 387.6L679.3 386.0L674.1 383.0L657.8 379.3L656.6 377.8L618.1 377.8L616.9 379.3L605.1 383.0L595.5 386.0Z" fill="#9c0404"/>
<path d="M624.8 374.1L622.2 379.3" stroke="#d8d018" stroke-width="2.2"/>
<path d="M650.0 373.7L652.9 379.3" stroke="#d8d018" stroke-width="2.2"/>
<path d="M632.2 375.6L631.2 379.3" stroke="#d8d018" stroke-width="2.2"/>
<path d="M641.1 374.9L642.1 379.3" stroke="#d8d018" stroke-width="2.2"/>
<path d="M618.1 379.3L656.6 379.3" stroke="#d80c0c" stroke-width="2.4"/>
<circle cx="619.5" cy="379.3" r="2.70" fill="url(#gC)"/>
<circle cx="624.8" cy="379.3" r="2.70" fill="url(#gC)"/>
<circle cx="635.0" cy="379.3" r="2.70" fill="url(#gC)"/>
<circle cx="639.8" cy="379.3" r="2.70" fill="url(#gC)"/>
<circle cx="649.6" cy="379.3" r="2.70" fill="url(#gC)"/>
<circle cx="654.9" cy="379.3" r="2.70" fill="url(#gC)"/>
<path d="M606.3 383.0L672.9 383.0" stroke="#d80c0c" stroke-width="2.4"/>
<circle cx="605.7" cy="383.0" r="2.88" fill="url(#gC)"/>
<circle cx="610.7" cy="383.0" r="2.88" fill="url(#gC)"/>
<circle cx="619.5" cy="383.0" r="2.88" fill="url(#gC)"/>
<circle cx="624.8" cy="383.0" r="2.88" fill="url(#gC)"/>
<circle cx="635.0" cy="383.0" r="2.88" fill="url(#gC)"/>
<circle cx="639.8" cy="383.0" r="2.88" fill="url(#gC)"/>
<circle cx="649.6" cy="383.0" r="2.88" fill="url(#gC)"/>
<circle cx="654.9" cy="383.0" r="2.88" fill="url(#gC)"/>
<circle cx="664.5" cy="383.0" r="2.88" fill="url(#gC)"/>
<circle cx="669.1" cy="383.0" r="2.88" fill="url(#gC)"/>
<path d="M596.7 386.0L678.1 386.0" stroke="#d80c0c" stroke-width="2.6"/>
<circle cx="596.7" cy="386.0" r="3.00" fill="url(#gC)"/>
<circle cx="605.7" cy="386.0" r="3.00" fill="url(#gC)"/>
<circle cx="610.7" cy="386.0" r="3.00" fill="url(#gC)"/>
<circle cx="619.5" cy="386.0" r="3.00" fill="url(#gC)"/>
<circle cx="624.8" cy="386.0" r="3.00" fill="url(#gC)"/>
<circle cx="635.0" cy="386.0" r="3.00" fill="url(#gC)"/>
<circle cx="639.8" cy="386.0" r="3.00" fill="url(#gC)"/>
<circle cx="649.6" cy="386.0" r="3.00" fill="url(#gC)"/>
<circle cx="654.9" cy="386.0" r="3.00" fill="url(#gC)"/>
<circle cx="664.5" cy="386.0" r="3.00" fill="url(#gC)"/>
<circle cx="669.1" cy="386.0" r="3.00" fill="url(#gC)"/>
<circle cx="678.1" cy="386.0" r="3.00" fill="url(#gC)"/>
<path d="M624.8 374.1L630.7 372.1" stroke="#e8e020" stroke-width="2.6"/>
<path d="M630.7 372.1L636.6 370.2" stroke="#5a1a9a" stroke-width="2.6"/>
<path d="M650.0 373.7L643.3 371.9" stroke="#e8e020" stroke-width="2.6"/>
<path d="M643.3 371.9L636.6 370.2" stroke="#5a1a9a" stroke-width="2.6"/>
<path d="M632.2 375.6L634.4 372.9" stroke="#e8e020" stroke-width="2.6"/>
<path d="M634.4 372.9L636.6 370.2" stroke="#5a1a9a" stroke-width="2.6"/>
<path d="M641.1 374.9L638.9 372.5" stroke="#e8e020" stroke-width="2.6"/>
<path d="M638.9 372.5L636.6 370.2" stroke="#5a1a9a" stroke-width="2.6"/>
<circle cx="624.8" cy="374.1" r="2.60" fill="url(#gP)"/>
<circle cx="650.0" cy="373.7" r="2.60" fill="url(#gP)"/>
<circle cx="632.2" cy="375.6" r="2.60" fill="url(#gP)"/>
<circle cx="641.1" cy="374.9" r="2.60" fill="url(#gP)"/>
<circle cx="636.6" cy="370.2" r="2.60" fill="url(#gF)"/>
<path d="M626.3 354.9L630.3 352.3" stroke="#e01010" stroke-width="3.0"/>
<path d="M630.3 352.3L634.4 349.7" stroke="#e01010" stroke-width="3.0"/>
<path d="M634.4 349.7L638.8 349.3" stroke="#e01010" stroke-width="3.0"/>
<path d="M638.8 349.3L643.3 348.9" stroke="#e01010" stroke-width="3.0"/>
<path d="M643.3 348.9L643.0 351.1" stroke="#e01010" stroke-width="3.0"/>
<path d="M643.0 351.1L642.6 353.4" stroke="#e01010" stroke-width="3.0"/>
<path d="M642.6 353.4L638.5 355.2" stroke="#e01010" stroke-width="3.0"/>
<path d="M638.5 355.2L634.4 357.1" stroke="#e01010" stroke-width="3.0"/>
<path d="M634.4 357.1L630.3 357.5" stroke="#e01010" stroke-width="3.0"/>
<path d="M630.3 357.5L626.3 357.8" stroke="#e01010" stroke-width="3.0"/>
<path d="M626.3 357.8L626.3 356.4" stroke="#e01010" stroke-width="3.0"/>
<path d="M626.3 356.4L626.3 354.9" stroke="#e01010" stroke-width="3.0"/>
<path d="M634.4 349.7L634.4 347.4" stroke="#e01010" stroke-width="3.0"/>
<path d="M634.4 347.4L634.4 345.2" stroke="#e01010" stroke-width="3.0"/>
<path d="M634.4 345.2L639.6 345.2" stroke="#e01010" stroke-width="3.0"/>
<path d="M639.6 345.2L644.8 345.2" stroke="#e01010" stroke-width="3.0"/>
<path d="M644.8 345.2L648.1 343.0" stroke="#e01010" stroke-width="3.0"/>
<path d="M648.1 343.0L651.4 340.8" stroke="#e01010" stroke-width="3.0"/>
<path d="M651.4 340.8L650.7 344.1" stroke="#e01010" stroke-width="3.0"/>
<path d="M650.7 344.1L650.0 347.5" stroke="#1428e8" stroke-width="3.0"/>
<path d="M650.0 347.5L646.6 348.2" stroke="#1428e8" stroke-width="3.0"/>
<path d="M646.6 348.2L643.3 348.9" stroke="#e01010" stroke-width="3.0"/>
<path d="M634.4 345.2L633.6 342.2" stroke="#e01010" stroke-width="1.8"/>
<path d="M633.6 342.2L632.9 339.3" stroke="#d8d8d8" stroke-width="1.8"/>
<path d="M651.4 340.8L650.3 337.9" stroke="#e01010" stroke-width="1.8"/>
<path d="M650.3 337.9L649.2 334.9" stroke="#d8d8d8" stroke-width="1.8"/>
<path d="M651.4 340.8L654.8 341.6" stroke="#e01010" stroke-width="1.8"/>
<path d="M654.8 341.6L658.1 342.3" stroke="#d8d8d8" stroke-width="1.8"/>
<path d="M644.8 345.2L644.8 343.4" stroke="#e01010" stroke-width="1.8"/>
<path d="M644.8 343.4L644.8 341.5" stroke="#d8d8d8" stroke-width="1.8"/>
<path d="M650.0 347.5L652.5 346.8" stroke="#1428e8" stroke-width="1.8"/>
<path d="M652.5 346.8L655.1 346.0" stroke="#d8d8d8" stroke-width="1.8"/>
<path d="M634.4 349.7L632.2 349.3" stroke="#e01010" stroke-width="1.8"/>
<path d="M632.2 349.3L630.0 348.9" stroke="#d8d8d8" stroke-width="1.8"/>
<path d="M626.3 354.9L623.7 354.1" stroke="#e01010" stroke-width="1.8"/>
<path d="M623.7 354.1L621.1 353.4" stroke="#d8d8d8" stroke-width="1.8"/>
<path d="M626.3 357.8L623.3 358.6" stroke="#e01010" stroke-width="1.8"/>
<path d="M623.3 358.6L620.3 359.3" stroke="#d8d8d8" stroke-width="1.8"/>
<path d="M634.4 357.1L634.4 358.5" stroke="#e01010" stroke-width="1.8"/>
<path d="M634.4 358.5L634.4 359.8" stroke="#d8d8d8" stroke-width="1.8"/>
<path d="M642.6 353.4L645.5 353.4" stroke="#e01010" stroke-width="1.8"/>
<path d="M645.5 353.4L648.5 353.4" stroke="#d8d8d8" stroke-width="1.8"/>
<circle cx="626.3" cy="354.9" r="2.15" fill="url(#gC)"/>
<circle cx="634.4" cy="349.7" r="2.15" fill="url(#gC)"/>
<circle cx="643.3" cy="348.9" r="2.15" fill="url(#gC)"/>
<circle cx="642.6" cy="353.4" r="2.15" fill="url(#gC)"/>
<circle cx="634.4" cy="357.1" r="2.15" fill="url(#gC)"/>
<circle cx="626.3" cy="357.8" r="2.15" fill="url(#gC)"/>
<circle cx="634.4" cy="345.2" r="2.15" fill="url(#gC)"/>
<circle cx="644.8" cy="345.2" r="2.15" fill="url(#gC)"/>
<circle cx="651.4" cy="340.8" r="2.15" fill="url(#gC)"/>
<circle cx="650.0" cy="347.5" r="2.55" fill="url(#gN)"/>
<circle cx="632.9" cy="339.3" r="2.65" fill="url(#gH)"/>
<circle cx="649.2" cy="334.9" r="2.65" fill="url(#gH)"/>
<circle cx="658.1" cy="342.3" r="2.65" fill="url(#gH)"/>
<circle cx="644.8" cy="341.5" r="2.65" fill="url(#gH)"/>
<circle cx="655.1" cy="346.0" r="2.65" fill="url(#gH)"/>
<circle cx="630.0" cy="348.9" r="2.65" fill="url(#gH)"/>
<circle cx="621.1" cy="353.4" r="2.65" fill="url(#gH)"/>
<circle cx="620.3" cy="359.3" r="2.65" fill="url(#gH)"/>
<circle cx="634.4" cy="359.8" r="2.65" fill="url(#gH)"/>
<circle cx="648.5" cy="353.4" r="2.65" fill="url(#gH)"/>
<clipPath id="cp1"><rect x="255.5" y="241.5" width="66.5" height="60.0"/></clipPath>
<g clip-path="url(#cp1)">
<path d="M288.2 294.7L295.5 298.9M280.9 248.5L288.2 244.3M317.3 286.3L324.6 282.1M259.1 244.3L266.4 248.5M244.6 286.3L244.6 294.7M277.4 258.4L280.9 256.9M295.5 273.7L295.5 282.1M317.3 244.3L324.6 248.5M302.8 261.1L302.8 269.5M244.6 294.7L251.8 298.9M288.2 286.3L288.2 294.7M266.4 248.5L266.4 256.9M317.3 269.5L324.6 273.7M324.6 256.9L331.8 261.1M290.6 271.6L295.5 273.7M302.8 261.1L310.0 256.9M244.6 261.1L244.6 269.5M324.6 273.7L324.6 282.1M251.8 273.7L251.8 282.1M244.6 269.5L251.8 273.7M331.8 261.1L331.8 269.5M288.2 261.1L287.0 265.3M302.8 286.3L310.0 282.1M265.9 278.1L266.4 282.1M244.6 261.1L251.8 256.9M295.5 248.5L295.5 256.9M273.6 286.3L273.6 294.7M259.1 261.1L259.1 269.5M288.2 244.3L295.5 248.5M259.1 286.3L266.4 282.1M310.0 248.5L310.0 256.9M251.8 273.7L259.1 269.5M317.3 286.3L317.3 294.7M266.4 282.1L273.7 286.3M324.6 298.9L331.8 294.7M324.6 273.7L331.8 269.5M251.8 256.9L259.1 261.1M273.7 286.3L276.6 283.8M310.0 273.7L310.0 282.1M288.2 261.1L295.5 256.9M310.0 298.9L317.3 294.7M331.8 286.3L331.8 294.7M251.8 248.5L259.1 244.3M259.1 286.3L259.1 294.7M317.3 261.1L317.3 269.5M266.4 298.9L273.6 294.7M251.8 298.9L259.1 294.7M251.8 248.5L251.8 256.9M280.9 298.9L288.2 294.7M251.8 282.1L259.1 286.3M266.4 256.9L270.2 258.4M310.0 256.9L317.3 261.1M280.9 256.9L288.2 261.1M310.0 273.7L317.3 269.5M295.5 248.5L302.8 244.3M266.4 282.1L273.6 286.3M310.0 282.1L317.3 286.3M317.3 294.7L324.6 298.9M283.9 283.8L288.2 286.3M266.4 248.5L273.7 244.3M295.5 273.7L302.8 269.5M280.9 248.5L280.9 256.9M324.6 248.5L324.6 256.9M259.1 294.7L266.4 298.9M295.5 298.9L302.8 294.7M317.3 261.1L324.6 256.9M295.5 282.1L302.8 286.3M295.5 256.9L302.8 261.1M302.8 269.5L310.0 273.7M302.8 244.3L310.0 248.5M273.7 294.7L280.9 298.9M302.8 286.3L302.8 294.7M273.7 244.3L280.9 248.5M259.1 269.5L262.2 271.8M310.0 248.5L317.3 244.3M273.7 286.3L273.7 294.7M266.4 256.9L273.6 261.1M302.8 294.7L310.0 298.9M324.6 282.1L331.8 286.3M259.1 261.1L266.4 256.9M288.2 286.3L295.5 282.1M244.6 286.3L251.8 282.1" stroke="#f29c9c" stroke-width="2.0"/>
<path d="M274.0 260.0L277.4 258.4M285.8 269.5L290.6 271.6M287.0 265.3L285.8 269.5M265.3 274.1L265.9 278.1M276.6 283.8L279.5 281.2M270.2 258.4L274.0 260.0M279.5 281.2L283.9 283.8M262.2 271.8L265.3 274.1M274.0 260.0L275.4 266.1M265.3 274.1L271.1 273.1M279.5 281.2L278.1 276.7M285.8 269.5L281.3 270.9" stroke="#f2ee6c" stroke-width="2.0"/>
<path d="M275.4 266.1L276.8 272.2M271.1 273.1L276.8 272.2M278.1 276.7L276.8 272.2M281.3 270.9L276.8 272.2" stroke="#a484c8" stroke-width="2.0"/>
<g fill="#ec8080">
<circle cx="273.6" cy="286.3" r="2.2"/>
<circle cx="317.3" cy="261.1" r="2.2"/>
<circle cx="259.1" cy="294.7" r="2.2"/>
<circle cx="317.3" cy="244.3" r="2.2"/>
<circle cx="273.7" cy="286.3" r="2.2"/>
<circle cx="302.8" cy="294.7" r="2.2"/>
<circle cx="310.0" cy="298.9" r="2.2"/>
<circle cx="295.5" cy="282.1" r="2.2"/>
<circle cx="280.9" cy="256.9" r="2.2"/>
<circle cx="324.6" cy="273.7" r="2.2"/>
<circle cx="295.5" cy="248.5" r="2.2"/>
<circle cx="324.6" cy="256.9" r="2.2"/>
<circle cx="266.4" cy="282.1" r="2.2"/>
<circle cx="317.3" cy="286.3" r="2.2"/>
<circle cx="273.6" cy="294.7" r="2.2"/>
<circle cx="288.2" cy="261.1" r="2.2"/>
<circle cx="317.3" cy="269.5" r="2.2"/>
<circle cx="280.9" cy="298.9" r="2.2"/>
<circle cx="288.2" cy="244.3" r="2.2"/>
<circle cx="266.4" cy="248.5" r="2.2"/>
<circle cx="273.7" cy="294.7" r="2.2"/>
<circle cx="324.6" cy="298.9" r="2.2"/>
<circle cx="259.1" cy="261.1" r="2.2"/>
<circle cx="295.5" cy="273.7" r="2.2"/>
<circle cx="259.1" cy="244.3" r="2.2"/>
<circle cx="295.5" cy="256.9" r="2.2"/>
<circle cx="302.8" cy="244.3" r="2.2"/>
<circle cx="302.8" cy="261.1" r="2.2"/>
<circle cx="310.0" cy="282.1" r="2.2"/>
<circle cx="310.0" cy="248.5" r="2.2"/>
<circle cx="288.2" cy="286.3" r="2.2"/>
<circle cx="317.3" cy="294.7" r="2.2"/>
<circle cx="273.6" cy="261.1" r="2.2"/>
<circle cx="266.4" cy="256.9" r="2.2"/>
<circle cx="259.1" cy="286.3" r="2.2"/>
<circle cx="295.5" cy="298.9" r="2.2"/>
<circle cx="324.6" cy="282.1" r="2.2"/>
<circle cx="259.1" cy="269.5" r="2.2"/>
<circle cx="302.8" cy="286.3" r="2.2"/>
<circle cx="280.9" cy="248.5" r="2.2"/>
<circle cx="302.8" cy="269.5" r="2.2"/>
<circle cx="310.0" cy="273.7" r="2.2"/>
<circle cx="273.7" cy="244.3" r="2.2"/>
<circle cx="324.6" cy="248.5" r="2.2"/>
<circle cx="310.0" cy="256.9" r="2.2"/>
<circle cx="288.2" cy="294.7" r="2.2"/>
<circle cx="266.4" cy="298.9" r="2.2"/>
</g>
<circle cx="274.0" cy="260.0" r="2.3" fill="#f2ee6c"/>
<circle cx="265.3" cy="274.1" r="2.3" fill="#f2ee6c"/>
<circle cx="279.5" cy="281.2" r="2.3" fill="#f2ee6c"/>
<circle cx="285.8" cy="269.5" r="2.3" fill="#f2ee6c"/>
<circle cx="276.8" cy="272.2" r="2.4" fill="#a484c8"/>
</g>
<g opacity="0.76">
<path d="M289.1 276.3L287.2 277.5" stroke="#e01010" stroke-width="1.8"/>
<path d="M287.2 277.5L285.3 278.6" stroke="#d8d8d8" stroke-width="1.8"/>
<path d="M295.5 279.9L295.6 282.1" stroke="#e01010" stroke-width="1.8"/>
<path d="M295.6 282.1L295.6 284.3" stroke="#d8d8d8" stroke-width="1.8"/>
<path d="M301.9 276.1L303.8 277.2" stroke="#e01010" stroke-width="1.8"/>
<path d="M303.8 277.2L305.7 278.2" stroke="#d8d8d8" stroke-width="1.8"/>
<path d="M295.1 257.7L293.2 256.6" stroke="#e01010" stroke-width="1.8"/>
<path d="M293.2 256.6L291.3 255.6" stroke="#d8d8d8" stroke-width="1.8"/>
<path d="M301.5 253.9L301.4 251.7" stroke="#e01010" stroke-width="1.8"/>
<path d="M301.4 251.7L301.4 249.5" stroke="#d8d8d8" stroke-width="1.8"/>
<path d="M307.9 257.5L309.8 256.3" stroke="#e01010" stroke-width="1.8"/>
<path d="M309.8 256.3L311.7 255.2" stroke="#d8d8d8" stroke-width="1.8"/>
<path d="M308.1 264.9L310.0 266.0" stroke="#e01010" stroke-width="1.8"/>
<path d="M310.0 266.0L311.9 267.0" stroke="#d8d8d8" stroke-width="1.8"/>
<path d="M288.9 268.9L289.0 272.6" stroke="#1428e8" stroke-width="2.7"/>
<path d="M289.0 272.6L289.1 276.3" stroke="#e01010" stroke-width="2.7"/>
<path d="M289.1 276.3L292.3 278.1" stroke="#e01010" stroke-width="2.7"/>
<path d="M292.3 278.1L295.5 279.9" stroke="#e01010" stroke-width="2.7"/>
<path d="M295.5 279.9L298.7 278.0" stroke="#e01010" stroke-width="2.7"/>
<path d="M298.7 278.0L301.9 276.1" stroke="#e01010" stroke-width="2.7"/>
<path d="M301.9 276.1L301.8 272.4" stroke="#e01010" stroke-width="2.7"/>
<path d="M301.8 272.4L301.7 268.7" stroke="#e01010" stroke-width="2.7"/>
<path d="M301.7 268.7L298.5 266.9" stroke="#e01010" stroke-width="2.7"/>
<path d="M298.5 266.9L295.3 265.1" stroke="#e01010" stroke-width="2.7"/>
<path d="M295.3 265.1L292.1 267.0" stroke="#e01010" stroke-width="2.7"/>
<path d="M292.1 267.0L288.9 268.9" stroke="#1428e8" stroke-width="2.7"/>
<path d="M295.3 265.1L295.2 261.4" stroke="#e01010" stroke-width="2.7"/>
<path d="M295.2 261.4L295.1 257.7" stroke="#e01010" stroke-width="2.7"/>
<path d="M295.1 257.7L298.3 255.8" stroke="#e01010" stroke-width="2.7"/>
<path d="M298.3 255.8L301.5 253.9" stroke="#e01010" stroke-width="2.7"/>
<path d="M301.5 253.9L304.7 255.7" stroke="#e01010" stroke-width="2.7"/>
<path d="M304.7 255.7L307.9 257.5" stroke="#e01010" stroke-width="2.7"/>
<path d="M307.9 257.5L308.0 261.2" stroke="#e01010" stroke-width="2.7"/>
<path d="M308.0 261.2L308.1 264.9" stroke="#e01010" stroke-width="2.7"/>
<path d="M308.1 264.9L304.9 266.8" stroke="#e01010" stroke-width="2.7"/>
<path d="M304.9 266.8L301.7 268.7" stroke="#e01010" stroke-width="2.7"/>
<circle cx="288.9" cy="268.9" r="2.40" fill="url(#gN)"/>
<circle cx="289.1" cy="276.3" r="2.00" fill="url(#gC)"/>
<circle cx="295.5" cy="279.9" r="2.00" fill="url(#gC)"/>
<circle cx="301.9" cy="276.1" r="2.00" fill="url(#gC)"/>
<circle cx="301.7" cy="268.7" r="2.00" fill="url(#gC)"/>
<circle cx="295.3" cy="265.1" r="2.00" fill="url(#gC)"/>
<circle cx="295.1" cy="257.7" r="2.00" fill="url(#gC)"/>
<circle cx="301.5" cy="253.9" r="2.00" fill="url(#gC)"/>
<circle cx="307.9" cy="257.5" r="2.00" fill="url(#gC)"/>
<circle cx="308.1" cy="264.9" r="2.00" fill="url(#gC)"/>
<circle cx="285.3" cy="278.6" r="2.40" fill="url(#gH)"/>
<circle cx="295.6" cy="284.3" r="2.40" fill="url(#gH)"/>
<circle cx="305.7" cy="278.2" r="2.40" fill="url(#gH)"/>
<circle cx="291.3" cy="255.6" r="2.40" fill="url(#gH)"/>
<circle cx="301.4" cy="249.5" r="2.40" fill="url(#gH)"/>
<circle cx="311.7" cy="255.2" r="2.40" fill="url(#gH)"/>
<circle cx="311.9" cy="267.0" r="2.40" fill="url(#gH)"/>
<circle cx="275.6" cy="269.7" r="2.40" fill="url(#gH)"/>
<circle cx="281.2" cy="269.7" r="2.40" fill="url(#gH)"/>
</g>
<clipPath id="cp2"><rect x="517.5" y="239" width="68.0" height="61.5"/></clipPath>
<g clip-path="url(#cp2)">
<path d="M558.4 271.4L558.4 280.0M565.8 258.6L573.2 254.3M565.8 284.2L565.8 292.8M565.8 241.5L573.2 245.8M514.0 254.3L521.4 258.6M551.0 258.6L551.7 263.4M521.4 258.6L521.4 267.1M588.0 271.4L595.4 267.1M573.2 280.0L580.6 284.2M551.0 292.8L558.4 297.0M521.4 267.1L524.8 270.4M573.2 297.0L580.6 292.8M514.0 245.8L514.0 254.3M588.0 297.0L595.4 292.8M573.2 271.4L573.2 280.0M565.8 258.6L565.8 267.1M514.0 280.0L521.4 284.2M580.6 267.1L588.0 271.4M514.0 297.0L521.4 292.8M514.0 271.4L514.0 280.0M528.8 280.0L536.2 284.2M580.6 258.6L580.6 267.1M543.6 245.8L543.6 254.3M558.4 245.8L558.4 254.3M573.2 245.8L580.6 241.5M558.4 271.4L565.8 267.1M551.0 258.6L558.4 254.3M528.8 297.0L536.2 292.8M558.4 254.3L565.8 258.6M514.0 271.4L521.4 267.1M580.6 258.6L588.0 254.3M580.6 241.5L588.0 245.8M558.4 297.0L565.8 292.8M514.0 245.8L521.4 241.5M543.6 245.8L551.0 241.5M528.8 245.8L528.8 254.3M536.2 292.8L543.6 297.0M506.6 258.6L506.6 267.1M543.6 297.0L551.0 292.8M573.2 271.4L580.6 267.1M551.0 241.5L558.4 245.8M555.4 269.8L558.4 271.4M528.5 276.8L528.8 280.0M588.0 245.8L588.0 254.3M558.4 280.0L565.8 284.2M565.8 267.1L573.2 271.4M551.0 284.2L551.0 292.8M521.4 258.6L528.8 254.3M521.4 241.5L528.8 245.8M506.6 284.2L506.6 292.8M580.6 292.8L588.0 297.0M536.2 241.5L543.6 245.8M573.2 245.8L573.2 254.3M543.6 254.3L551.0 258.6M565.8 284.2L573.2 280.0M565.8 292.8L573.2 297.0M588.0 280.0L595.4 284.2M547.0 282.9L551.0 284.2M588.0 254.3L595.4 258.6M536.2 284.2L536.2 292.8M580.6 284.2L588.0 280.0M506.6 292.8L514.0 297.0M506.6 284.2L514.0 280.0M595.4 258.6L595.4 267.1M521.4 292.8L528.8 297.0M528.8 245.8L536.2 241.5M506.6 267.1L514.0 271.4M588.0 271.4L588.0 280.0M573.2 254.3L580.6 258.6M521.4 284.2L528.8 280.0M551.0 284.2L558.4 280.0M558.4 245.8L565.8 241.5M580.6 284.2L580.6 292.8M540.2 256.9L543.6 254.3M595.4 284.2L595.4 292.8M506.6 258.6L514.0 254.3M528.8 254.3L532.8 256.9M521.4 284.2L521.4 292.8M536.2 284.2L539.6 282.9" stroke="#f29c9c" stroke-width="2.0"/>
<path d="M551.7 263.4L552.4 268.2M524.8 270.4L528.1 273.6M552.4 268.2L555.4 269.8M528.1 273.6L528.5 276.8M543.0 281.5L547.0 282.9M536.7 259.5L540.2 256.9M532.8 256.9L536.7 259.5M539.6 282.9L543.0 281.5M536.7 259.5L537.9 265.4M528.1 273.6L533.6 272.5M543.0 281.5L541.0 276.4M552.4 268.2L545.8 269.8" stroke="#f2ee6c" stroke-width="2.0"/>
<path d="M537.9 265.4L539.1 271.3M533.6 272.5L539.1 271.3M541.0 276.4L539.1 271.3M545.8 269.8L539.1 271.3" stroke="#a484c8" stroke-width="2.0"/>
<g fill="#ec8080">
<circle cx="565.8" cy="284.2" r="2.2"/>
<circle cx="558.4" cy="271.4" r="2.2"/>
<circle cx="536.2" cy="241.5" r="2.2"/>
<circle cx="580.6" cy="284.2" r="2.2"/>
<circle cx="528.8" cy="297.0" r="2.2"/>
<circle cx="543.6" cy="297.0" r="2.2"/>
<circle cx="558.4" cy="245.8" r="2.2"/>
<circle cx="558.4" cy="280.0" r="2.2"/>
<circle cx="580.6" cy="258.6" r="2.2"/>
<circle cx="558.4" cy="254.3" r="2.2"/>
<circle cx="565.8" cy="258.6" r="2.2"/>
<circle cx="580.6" cy="267.1" r="2.2"/>
<circle cx="573.2" cy="271.4" r="2.2"/>
<circle cx="565.8" cy="267.1" r="2.2"/>
<circle cx="521.4" cy="284.2" r="2.2"/>
<circle cx="588.0" cy="297.0" r="2.2"/>
<circle cx="551.0" cy="292.8" r="2.2"/>
<circle cx="521.4" cy="258.6" r="2.2"/>
<circle cx="573.2" cy="245.8" r="2.2"/>
<circle cx="573.2" cy="280.0" r="2.2"/>
<circle cx="573.2" cy="254.3" r="2.2"/>
<circle cx="536.2" cy="284.2" r="2.2"/>
<circle cx="521.4" cy="267.1" r="2.2"/>
<circle cx="565.8" cy="292.8" r="2.2"/>
<circle cx="551.0" cy="241.5" r="2.2"/>
<circle cx="580.6" cy="292.8" r="2.2"/>
<circle cx="558.4" cy="297.0" r="2.2"/>
<circle cx="543.6" cy="245.8" r="2.2"/>
<circle cx="565.8" cy="241.5" r="2.2"/>
<circle cx="528.8" cy="245.8" r="2.2"/>
<circle cx="588.0" cy="271.4" r="2.2"/>
<circle cx="528.8" cy="280.0" r="2.2"/>
<circle cx="580.6" cy="241.5" r="2.2"/>
<circle cx="528.8" cy="254.3" r="2.2"/>
<circle cx="521.4" cy="292.8" r="2.2"/>
<circle cx="543.6" cy="254.3" r="2.2"/>
<circle cx="573.2" cy="297.0" r="2.2"/>
<circle cx="588.0" cy="245.8" r="2.2"/>
<circle cx="588.0" cy="280.0" r="2.2"/>
<circle cx="588.0" cy="254.3" r="2.2"/>
<circle cx="521.4" cy="241.5" r="2.2"/>
<circle cx="551.0" cy="284.2" r="2.2"/>
<circle cx="536.2" cy="292.8" r="2.2"/>
<circle cx="551.0" cy="258.6" r="2.2"/>
</g>
<circle cx="536.7" cy="259.5" r="2.3" fill="#f2ee6c"/>
<circle cx="528.1" cy="273.6" r="2.3" fill="#f2ee6c"/>
<circle cx="543.0" cy="281.5" r="2.3" fill="#f2ee6c"/>
<circle cx="552.4" cy="268.2" r="2.3" fill="#f2ee6c"/>
<circle cx="539.1" cy="271.3" r="2.4" fill="#a484c8"/>
</g>
<g opacity="0.76">
<path d="M546.9 269.5L544.6 270.3" stroke="#e01010" stroke-width="1.8"/>
<path d="M544.6 270.3L542.4 271.1" stroke="#d8d8d8" stroke-width="1.8"/>
<path d="M552.9 274.7L552.5 277.0" stroke="#e01010" stroke-width="1.8"/>
<path d="M552.5 277.0L552.0 279.4" stroke="#d8d8d8" stroke-width="1.8"/>
<path d="M560.4 272.1L562.2 273.7" stroke="#e01010" stroke-width="1.8"/>
<path d="M562.2 273.7L564.0 275.2" stroke="#d8d8d8" stroke-width="1.8"/>
<path d="M557.4 251.3L555.6 249.7" stroke="#e01010" stroke-width="1.8"/>
<path d="M555.6 249.7L553.8 248.2" stroke="#d8d8d8" stroke-width="1.8"/>
<path d="M564.9 248.7L565.3 246.4" stroke="#e01010" stroke-width="1.8"/>
<path d="M565.3 246.4L565.8 244.0" stroke="#d8d8d8" stroke-width="1.8"/>
<path d="M570.9 253.9L573.2 253.1" stroke="#e01010" stroke-width="1.8"/>
<path d="M573.2 253.1L575.4 252.3" stroke="#d8d8d8" stroke-width="1.8"/>
<path d="M569.4 261.7L571.2 263.3" stroke="#e01010" stroke-width="1.8"/>
<path d="M571.2 263.3L573.0 264.8" stroke="#d8d8d8" stroke-width="1.8"/>
<path d="M548.4 261.7L547.6 265.6" stroke="#1428e8" stroke-width="2.7"/>
<path d="M547.6 265.6L546.9 269.5" stroke="#e01010" stroke-width="2.7"/>
<path d="M546.9 269.5L549.9 272.1" stroke="#e01010" stroke-width="2.7"/>
<path d="M549.9 272.1L552.9 274.7" stroke="#e01010" stroke-width="2.7"/>
<path d="M552.9 274.7L556.7 273.4" stroke="#e01010" stroke-width="2.7"/>
<path d="M556.7 273.4L560.4 272.1" stroke="#e01010" stroke-width="2.7"/>
<path d="M560.4 272.1L561.2 268.2" stroke="#e01010" stroke-width="2.7"/>
<path d="M561.2 268.2L561.9 264.3" stroke="#e01010" stroke-width="2.7"/>
<path d="M561.9 264.3L558.9 261.7" stroke="#e01010" stroke-width="2.7"/>
<path d="M558.9 261.7L555.9 259.1" stroke="#e01010" stroke-width="2.7"/>
<path d="M555.9 259.1L552.1 260.4" stroke="#e01010" stroke-width="2.7"/>
<path d="M552.1 260.4L548.4 261.7" stroke="#1428e8" stroke-width="2.7"/>
<path d="M555.9 259.1L556.6 255.2" stroke="#e01010" stroke-width="2.7"/>
<path d="M556.6 255.2L557.4 251.3" stroke="#e01010" stroke-width="2.7"/>
<path d="M557.4 251.3L561.1 250.0" stroke="#e01010" stroke-width="2.7"/>
<path d="M561.1 250.0L564.9 248.7" stroke="#e01010" stroke-width="2.7"/>
<path d="M564.9 248.7L567.9 251.3" stroke="#e01010" stroke-width="2.7"/>
<path d="M567.9 251.3L570.9 253.9" stroke="#e01010" stroke-width="2.7"/>
<path d="M570.9 253.9L570.2 257.8" stroke="#e01010" stroke-width="2.7"/>
<path d="M570.2 257.8L569.4 261.7" stroke="#e01010" stroke-width="2.7"/>
<path d="M569.4 261.7L565.7 263.0" stroke="#e01010" stroke-width="2.7"/>
<path d="M565.7 263.0L561.9 264.3" stroke="#e01010" stroke-width="2.7"/>
<circle cx="548.4" cy="261.7" r="2.40" fill="url(#gN)"/>
<circle cx="546.9" cy="269.5" r="2.00" fill="url(#gC)"/>
<circle cx="552.9" cy="274.7" r="2.00" fill="url(#gC)"/>
<circle cx="560.4" cy="272.1" r="2.00" fill="url(#gC)"/>
<circle cx="561.9" cy="264.3" r="2.00" fill="url(#gC)"/>
<circle cx="555.9" cy="259.1" r="2.00" fill="url(#gC)"/>
<circle cx="557.4" cy="251.3" r="2.00" fill="url(#gC)"/>
<circle cx="564.9" cy="248.7" r="2.00" fill="url(#gC)"/>
<circle cx="570.9" cy="253.9" r="2.00" fill="url(#gC)"/>
<circle cx="569.4" cy="261.7" r="2.00" fill="url(#gC)"/>
<circle cx="542.4" cy="271.1" r="2.40" fill="url(#gH)"/>
<circle cx="552.0" cy="279.4" r="2.40" fill="url(#gH)"/>
<circle cx="564.0" cy="275.2" r="2.40" fill="url(#gH)"/>
<circle cx="553.8" cy="248.2" r="2.40" fill="url(#gH)"/>
<circle cx="565.8" cy="244.0" r="2.40" fill="url(#gH)"/>
<circle cx="575.4" cy="252.3" r="2.40" fill="url(#gH)"/>
<circle cx="573.0" cy="264.8" r="2.40" fill="url(#gH)"/>
<circle cx="541.8" cy="270.5" r="2.40" fill="url(#gH)"/>
<circle cx="544.6" cy="257.1" r="2.40" fill="url(#gH)"/>
</g>
<clipPath id="cp3"><rect x="255.5" y="327.5" width="66.5" height="62.0"/></clipPath>
<g clip-path="url(#cp3)">
<path d="M302.2 347.1L302.2 355.5M276.9 345.2L280.4 342.9M265.9 384.9L273.1 380.7M244.1 347.1L251.3 342.9M265.9 342.9L273.1 347.1M316.8 372.3L324.1 368.1M287.7 372.3L287.7 380.7M316.8 347.1L324.1 342.9M251.3 334.5L251.3 342.9M265.9 368.1L273.2 372.3M302.2 347.1L309.5 342.9M258.6 380.7L265.9 384.9M280.4 334.5L280.4 342.9M244.1 372.3L244.1 380.7M287.7 347.1L287.3 351.6M280.4 384.9L287.7 380.7M244.1 380.7L251.3 384.9M309.5 384.9L316.8 380.7M316.8 355.5L324.1 359.7M287.7 380.7L295.0 384.9M309.5 368.1L316.8 372.3M280.4 334.5L287.7 330.3M316.8 372.3L316.8 380.7M316.8 380.7L324.1 384.9M302.2 372.3L309.5 368.1M283.4 370.9L287.7 372.3M309.5 359.7L316.8 355.5M280.4 342.9L287.7 347.1M258.6 355.5L262.1 358.6M309.5 359.7L309.5 368.1M331.3 372.3L331.3 380.7M244.1 372.3L251.3 368.1M251.3 359.7L251.3 368.1M265.9 334.5L265.9 342.9M244.1 347.1L244.1 355.5M251.3 384.9L258.6 380.7M316.8 330.3L324.1 334.5M258.6 347.1L265.9 342.9M324.1 359.7L324.1 368.1M258.6 347.1L258.6 355.5M244.1 355.5L251.3 359.7M324.1 384.9L331.3 380.7M302.2 355.5L309.5 359.7M295.0 359.7L295.0 368.1M309.5 334.5L316.8 330.3M258.6 372.3L258.6 380.7M309.5 342.9L316.8 347.1M258.6 330.3L265.9 334.5M251.3 342.9L258.6 347.1M287.7 372.3L295.0 368.1M295.0 368.1L302.2 372.3M316.8 347.1L316.8 355.5M331.3 347.1L331.3 355.5M258.6 372.3L265.9 368.1M324.1 368.1L331.3 372.3M295.0 334.5L295.0 342.9M302.2 330.3L309.5 334.5M295.0 342.9L302.2 347.1M251.3 359.7L258.6 355.5M251.3 334.5L258.6 330.3M265.9 368.1L273.1 372.3M273.2 330.3L280.4 334.5M273.2 372.3L273.2 380.7M287.7 330.3L295.0 334.5M295.0 334.5L302.2 330.3M324.1 359.7L331.3 355.5M273.2 372.3L276.1 370.9M302.2 380.7L309.5 384.9M290.9 357.9L295.0 359.7M324.1 334.5L324.1 342.9M295.0 384.9L302.2 380.7M302.2 372.3L302.2 380.7M265.8 364.9L265.9 368.1M273.1 372.3L273.1 380.7M265.9 342.9L269.7 345.2M287.7 347.1L295.0 342.9M265.9 334.5L273.2 330.3M309.5 334.5L309.5 342.9M295.0 359.7L302.2 355.5M251.3 368.1L258.6 372.3M324.1 342.9L331.3 347.1M273.2 380.7L280.4 384.9" stroke="#f29c9c" stroke-width="2.0"/>
<path d="M273.5 347.5L276.9 345.2M287.3 351.6L286.9 356.2M279.0 369.5L283.4 370.9M262.1 358.6L265.7 361.7M276.1 370.9L279.0 369.5M286.9 356.2L290.9 357.9M265.7 361.7L265.8 364.9M269.7 345.2L273.5 347.5M273.5 347.5L275.1 353.0M265.7 361.7L271.2 360.1M279.0 369.5L277.9 364.0M286.9 356.2L281.8 357.4" stroke="#f2ee6c" stroke-width="2.0"/>
<path d="M275.1 353.0L276.7 358.5M271.2 360.1L276.7 358.5M277.9 364.0L276.7 358.5M281.8 357.4L276.7 358.5" stroke="#a484c8" stroke-width="2.0"/>
<g fill="#ec8080">
<circle cx="324.1" cy="334.5" r="2.2"/>
<circle cx="302.2" cy="372.3" r="2.2"/>
<circle cx="316.8" cy="330.3" r="2.2"/>
<circle cx="302.2" cy="355.5" r="2.2"/>
<circle cx="258.6" cy="380.7" r="2.2"/>
<circle cx="273.1" cy="372.3" r="2.2"/>
<circle cx="309.5" cy="384.9" r="2.2"/>
<circle cx="280.4" cy="342.9" r="2.2"/>
<circle cx="273.2" cy="372.3" r="2.2"/>
<circle cx="295.0" cy="368.1" r="2.2"/>
<circle cx="316.8" cy="372.3" r="2.2"/>
<circle cx="324.1" cy="342.9" r="2.2"/>
<circle cx="324.1" cy="359.7" r="2.2"/>
<circle cx="295.0" cy="334.5" r="2.2"/>
<circle cx="316.8" cy="355.5" r="2.2"/>
<circle cx="265.9" cy="368.1" r="2.2"/>
<circle cx="287.7" cy="347.1" r="2.2"/>
<circle cx="302.2" cy="380.7" r="2.2"/>
<circle cx="265.9" cy="334.5" r="2.2"/>
<circle cx="287.7" cy="330.3" r="2.2"/>
<circle cx="287.7" cy="380.7" r="2.2"/>
<circle cx="273.1" cy="380.7" r="2.2"/>
<circle cx="258.6" cy="347.1" r="2.2"/>
<circle cx="309.5" cy="368.1" r="2.2"/>
<circle cx="280.4" cy="384.9" r="2.2"/>
<circle cx="258.6" cy="330.3" r="2.2"/>
<circle cx="273.2" cy="380.7" r="2.2"/>
<circle cx="324.1" cy="384.9" r="2.2"/>
<circle cx="309.5" cy="334.5" r="2.2"/>
<circle cx="295.0" cy="359.7" r="2.2"/>
<circle cx="316.8" cy="380.7" r="2.2"/>
<circle cx="287.7" cy="372.3" r="2.2"/>
<circle cx="295.0" cy="342.9" r="2.2"/>
<circle cx="265.9" cy="342.9" r="2.2"/>
<circle cx="302.2" cy="347.1" r="2.2"/>
<circle cx="258.6" cy="372.3" r="2.2"/>
<circle cx="302.2" cy="330.3" r="2.2"/>
<circle cx="258.6" cy="355.5" r="2.2"/>
<circle cx="273.1" cy="347.1" r="2.2"/>
<circle cx="309.5" cy="359.7" r="2.2"/>
<circle cx="295.0" cy="384.9" r="2.2"/>
<circle cx="280.4" cy="334.5" r="2.2"/>
<circle cx="324.1" cy="368.1" r="2.2"/>
<circle cx="309.5" cy="342.9" r="2.2"/>
<circle cx="265.9" cy="384.9" r="2.2"/>
<circle cx="316.8" cy="347.1" r="2.2"/>
<circle cx="273.2" cy="330.3" r="2.2"/>
</g>
<circle cx="273.5" cy="347.5" r="2.3" fill="#f2ee6c"/>
<circle cx="265.7" cy="361.7" r="2.3" fill="#f2ee6c"/>
<circle cx="279.0" cy="369.5" r="2.3" fill="#f2ee6c"/>
<circle cx="286.9" cy="356.2" r="2.3" fill="#f2ee6c"/>
<circle cx="276.7" cy="358.5" r="2.4" fill="#a484c8"/>
</g>
<g opacity="0.76">
<path d="M275.6 356.6L273.2 356.3" stroke="#e01010" stroke-width="1.8"/>
<path d="M273.2 356.3L270.8 356.0" stroke="#d8d8d8" stroke-width="1.8"/>
<path d="M278.7 364.1L277.2 366.0" stroke="#e01010" stroke-width="1.8"/>
<path d="M277.2 366.0L275.7 367.9" stroke="#d8d8d8" stroke-width="1.8"/>
<path d="M286.7 365.1L287.6 367.4" stroke="#e01010" stroke-width="1.8"/>
<path d="M287.6 367.4L288.5 369.6" stroke="#d8d8d8" stroke-width="1.8"/>
<path d="M293.4 345.0L292.5 342.7" stroke="#e01010" stroke-width="1.8"/>
<path d="M292.5 342.7L291.6 340.5" stroke="#d8d8d8" stroke-width="1.8"/>
<path d="M301.4 346.0L302.9 344.1" stroke="#e01010" stroke-width="1.8"/>
<path d="M302.9 344.1L304.4 342.2" stroke="#d8d8d8" stroke-width="1.8"/>
<path d="M304.5 353.5L306.9 353.8" stroke="#e01010" stroke-width="1.8"/>
<path d="M306.9 353.8L309.3 354.1" stroke="#d8d8d8" stroke-width="1.8"/>
<path d="M299.6 359.8L300.5 362.1" stroke="#e01010" stroke-width="1.8"/>
<path d="M300.5 362.1L301.4 364.3" stroke="#d8d8d8" stroke-width="1.8"/>
<path d="M280.5 350.3L278.1 353.4" stroke="#1428e8" stroke-width="2.7"/>
<path d="M278.1 353.4L275.6 356.6" stroke="#e01010" stroke-width="2.7"/>
<path d="M275.6 356.6L277.2 360.3" stroke="#e01010" stroke-width="2.7"/>
<path d="M277.2 360.3L278.7 364.1" stroke="#e01010" stroke-width="2.7"/>
<path d="M278.7 364.1L282.7 364.6" stroke="#e01010" stroke-width="2.7"/>
<path d="M282.7 364.6L286.7 365.1" stroke="#e01010" stroke-width="2.7"/>
<path d="M286.7 365.1L289.1 362.0" stroke="#e01010" stroke-width="2.7"/>
<path d="M289.1 362.0L291.6 358.8" stroke="#e01010" stroke-width="2.7"/>
<path d="M291.6 358.8L290.1 355.0" stroke="#e01010" stroke-width="2.7"/>
<path d="M290.1 355.0L288.5 351.3" stroke="#e01010" stroke-width="2.7"/>
<path d="M288.5 351.3L284.5 350.8" stroke="#e01010" stroke-width="2.7"/>
<path d="M284.5 350.8L280.5 350.3" stroke="#1428e8" stroke-width="2.7"/>
<path d="M288.5 351.3L291.0 348.1" stroke="#e01010" stroke-width="2.7"/>
<path d="M291.0 348.1L293.4 345.0" stroke="#e01010" stroke-width="2.7"/>
<path d="M293.4 345.0L297.4 345.5" stroke="#e01010" stroke-width="2.7"/>
<path d="M297.4 345.5L301.4 346.0" stroke="#e01010" stroke-width="2.7"/>
<path d="M301.4 346.0L302.9 349.7" stroke="#e01010" stroke-width="2.7"/>
<path d="M302.9 349.7L304.5 353.5" stroke="#e01010" stroke-width="2.7"/>
<path d="M304.5 353.5L302.0 356.7" stroke="#e01010" stroke-width="2.7"/>
<path d="M302.0 356.7L299.6 359.8" stroke="#e01010" stroke-width="2.7"/>
<path d="M299.6 359.8L295.6 359.3" stroke="#e01010" stroke-width="2.7"/>
<path d="M295.6 359.3L291.6 358.8" stroke="#e01010" stroke-width="2.7"/>
<circle cx="280.5" cy="350.3" r="2.40" fill="url(#gN)"/>
<circle cx="275.6" cy="356.6" r="2.00" fill="url(#gC)"/>
<circle cx="278.7" cy="364.1" r="2.00" fill="url(#gC)"/>
<circle cx="286.7" cy="365.1" r="2.00" fill="url(#gC)"/>
<circle cx="291.6" cy="358.8" r="2.00" fill="url(#gC)"/>
<circle cx="288.5" cy="351.3" r="2.00" fill="url(#gC)"/>
<circle cx="293.4" cy="345.0" r="2.00" fill="url(#gC)"/>
<circle cx="301.4" cy="346.0" r="2.00" fill="url(#gC)"/>
<circle cx="304.5" cy="353.5" r="2.00" fill="url(#gC)"/>
<circle cx="299.6" cy="359.8" r="2.00" fill="url(#gC)"/>
<circle cx="270.8" cy="356.0" r="2.40" fill="url(#gH)"/>
<circle cx="275.7" cy="367.9" r="2.40" fill="url(#gH)"/>
<circle cx="288.5" cy="369.6" r="2.40" fill="url(#gH)"/>
<circle cx="291.6" cy="340.5" r="2.40" fill="url(#gH)"/>
<circle cx="304.4" cy="342.2" r="2.40" fill="url(#gH)"/>
<circle cx="309.3" cy="354.1" r="2.40" fill="url(#gH)"/>
<circle cx="301.4" cy="364.3" r="2.40" fill="url(#gH)"/>
<circle cx="270.8" cy="355.7" r="2.40" fill="url(#gH)"/>
<circle cx="276.4" cy="358.3" r="2.40" fill="url(#gH)"/>
<circle cx="279.6" cy="345.7" r="2.40" fill="url(#gH)"/>
<circle cx="274.6" cy="368.9" r="2.40" fill="url(#gH)"/>
</g>
<clipPath id="cp4"><rect x="519.5" y="328.5" width="67.0" height="61.0"/></clipPath>
<g clip-path="url(#cp4)">
<path d="M560.4 335.4L560.4 343.9M516.0 335.4L516.0 343.9M567.8 348.2L575.2 343.9M538.2 373.8L541.4 372.8M560.4 343.9L567.8 348.2M548.8 372.8L553.0 373.8M556.8 358.9L560.4 361.0M560.4 361.0L567.8 356.7M537.9 352.5L538.2 356.7M582.6 356.7L590.0 361.0M553.0 348.2L560.4 343.9M582.6 348.2L582.6 356.7M597.4 348.2L597.4 356.7M553.0 331.1L560.4 335.4M567.8 331.1L575.2 335.4M523.4 348.2L523.4 356.7M530.8 343.9L534.1 346.1M575.2 386.6L582.6 382.4M541.5 346.1L545.6 343.9M530.8 335.4L538.2 331.1M508.6 348.2L508.6 356.7M523.4 331.1L530.8 335.4M508.6 348.2L516.0 343.9M538.2 331.1L545.6 335.4M523.4 373.8L523.4 382.4M530.2 366.0L530.8 369.6M590.0 343.9L597.4 348.2M567.8 382.4L575.2 386.6M538.2 373.8L538.2 382.4M582.6 382.4L590.0 386.6M590.0 386.6L597.4 382.4M597.4 373.8L597.4 382.4M534.0 359.5L538.2 356.7M560.4 335.4L567.8 331.1M575.2 335.4L582.6 331.1M582.6 348.2L590.0 343.9M575.2 369.6L582.6 373.8M538.2 382.4L545.6 386.6M590.0 361.0L597.4 356.7M516.0 343.9L523.4 348.2M516.0 335.4L523.4 331.1M582.6 373.8L590.0 369.6M590.0 369.6L597.4 373.8M560.4 369.6L567.8 373.8M575.2 361.0L575.2 369.6M508.6 373.8L516.0 369.6M508.6 382.4L516.0 386.6M545.6 335.4L553.0 331.1M560.4 386.6L567.8 382.4M575.2 361.0L582.6 356.7M516.0 361.0L516.0 369.6M590.0 361.0L590.0 369.6M530.8 369.6L538.2 373.8M567.8 373.8L575.2 369.6M523.4 373.8L530.8 369.6M560.4 361.0L560.4 369.6M523.4 348.2L530.8 343.9M567.8 356.7L575.2 361.0M516.0 361.0L523.4 356.7M523.4 382.4L530.8 386.6M530.8 386.6L538.2 382.4M545.6 343.9L553.0 348.2M553.0 373.8L553.0 382.4M575.2 343.9L582.6 348.2M553.0 382.4L560.4 386.6M523.4 356.7L526.5 359.5M582.6 373.8L582.6 382.4M530.8 335.4L530.8 343.9M553.0 373.8L560.4 369.6M516.0 369.6L523.4 373.8M567.8 373.8L567.8 382.4M508.6 356.7L516.0 361.0M508.6 373.8L508.6 382.4M582.6 331.1L590.0 335.4M567.8 348.2L567.8 356.7M516.0 386.6L523.4 382.4M545.6 386.6L553.0 382.4M575.2 335.4L575.2 343.9M553.0 348.2L553.1 352.5M590.0 335.4L590.0 343.9M545.6 335.4L545.6 343.9" stroke="#f29c9c" stroke-width="2.0"/>
<path d="M541.4 372.8L544.6 371.8M544.6 371.8L548.8 372.8M553.2 356.9L556.8 358.9M537.5 348.3L537.9 352.5M534.1 346.1L537.5 348.3M537.5 348.3L541.5 346.1M529.7 362.4L530.2 366.0M529.7 362.4L534.0 359.5M526.5 359.5L529.7 362.4M553.1 352.5L553.2 356.9M537.5 348.3L540.6 354.6M529.7 362.4L536.8 361.6M544.6 371.8L544.2 366.4M553.2 356.9L548.5 358.9" stroke="#f2ee6c" stroke-width="2.0"/>
<path d="M540.6 354.6L543.8 360.9M536.8 361.6L543.8 360.9M544.2 366.4L543.8 360.9M548.5 358.9L543.8 360.9" stroke="#a484c8" stroke-width="2.0"/>
<g fill="#ec8080">
<circle cx="530.8" cy="343.9" r="2.2"/>
<circle cx="567.8" cy="373.8" r="2.2"/>
<circle cx="530.8" cy="386.6" r="2.2"/>
<circle cx="567.8" cy="348.2" r="2.2"/>
<circle cx="553.0" cy="382.4" r="2.2"/>
<circle cx="582.6" cy="373.8" r="2.2"/>
<circle cx="545.6" cy="343.9" r="2.2"/>
<circle cx="545.6" cy="386.6" r="2.2"/>
<circle cx="560.4" cy="369.6" r="2.2"/>
<circle cx="560.4" cy="335.4" r="2.2"/>
<circle cx="575.2" cy="369.6" r="2.2"/>
<circle cx="582.6" cy="348.2" r="2.2"/>
<circle cx="575.2" cy="335.4" r="2.2"/>
<circle cx="567.8" cy="331.1" r="2.2"/>
<circle cx="538.2" cy="373.8" r="2.2"/>
<circle cx="523.4" cy="373.8" r="2.2"/>
<circle cx="523.4" cy="348.2" r="2.2"/>
<circle cx="582.6" cy="331.1" r="2.2"/>
<circle cx="567.8" cy="382.4" r="2.2"/>
<circle cx="567.8" cy="356.7" r="2.2"/>
<circle cx="538.2" cy="331.1" r="2.2"/>
<circle cx="530.8" cy="369.6" r="2.2"/>
<circle cx="523.4" cy="331.1" r="2.2"/>
<circle cx="560.4" cy="343.9" r="2.2"/>
<circle cx="530.8" cy="335.4" r="2.2"/>
<circle cx="553.0" cy="373.8" r="2.2"/>
<circle cx="560.4" cy="386.6" r="2.2"/>
<circle cx="582.6" cy="356.7" r="2.2"/>
<circle cx="575.2" cy="343.9" r="2.2"/>
<circle cx="582.6" cy="382.4" r="2.2"/>
<circle cx="575.2" cy="386.6" r="2.2"/>
<circle cx="545.6" cy="335.4" r="2.2"/>
<circle cx="538.2" cy="382.4" r="2.2"/>
<circle cx="560.4" cy="361.0" r="2.2"/>
<circle cx="553.0" cy="348.2" r="2.2"/>
<circle cx="523.4" cy="382.4" r="2.2"/>
<circle cx="523.4" cy="356.7" r="2.2"/>
<circle cx="575.2" cy="361.0" r="2.2"/>
<circle cx="538.2" cy="356.7" r="2.2"/>
<circle cx="553.0" cy="331.1" r="2.2"/>
</g>
<circle cx="537.5" cy="348.3" r="2.3" fill="#f2ee6c"/>
<circle cx="529.7" cy="362.4" r="2.3" fill="#f2ee6c"/>
<circle cx="544.6" cy="371.8" r="2.3" fill="#f2ee6c"/>
<circle cx="553.2" cy="356.9" r="2.3" fill="#f2ee6c"/>
<circle cx="543.8" cy="360.9" r="2.4" fill="#a484c8"/>
</g>
<g opacity="0.76">
<path d="M543.4 350.4L541.7 348.8" stroke="#e01010" stroke-width="1.8"/>
<path d="M541.7 348.8L540.0 347.2" stroke="#d8d8d8" stroke-width="1.8"/>
<path d="M541.4 358.1L539.2 358.7" stroke="#e01010" stroke-width="1.8"/>
<path d="M539.2 358.7L536.9 359.4" stroke="#d8d8d8" stroke-width="1.8"/>
<path d="M547.1 363.5L546.5 365.8" stroke="#e01010" stroke-width="1.8"/>
<path d="M546.5 365.8L546.0 368.1" stroke="#d8d8d8" stroke-width="1.8"/>
<path d="M564.1 351.6L564.7 349.3" stroke="#e01010" stroke-width="1.8"/>
<path d="M564.7 349.3L565.2 347.0" stroke="#d8d8d8" stroke-width="1.8"/>
<path d="M569.8 357.0L572.0 356.4" stroke="#e01010" stroke-width="1.8"/>
<path d="M572.0 356.4L574.3 355.7" stroke="#d8d8d8" stroke-width="1.8"/>
<path d="M567.8 364.7L569.5 366.3" stroke="#e01010" stroke-width="1.8"/>
<path d="M569.5 366.3L571.2 367.9" stroke="#d8d8d8" stroke-width="1.8"/>
<path d="M560.3 366.8L559.7 369.1" stroke="#e01010" stroke-width="1.8"/>
<path d="M559.7 369.1L559.2 371.4" stroke="#d8d8d8" stroke-width="1.8"/>
<path d="M550.9 348.3L547.1 349.4" stroke="#1428e8" stroke-width="2.7"/>
<path d="M547.1 349.4L543.4 350.4" stroke="#e01010" stroke-width="2.7"/>
<path d="M543.4 350.4L542.4 354.2" stroke="#e01010" stroke-width="2.7"/>
<path d="M542.4 354.2L541.4 358.1" stroke="#e01010" stroke-width="2.7"/>
<path d="M541.4 358.1L544.3 360.8" stroke="#e01010" stroke-width="2.7"/>
<path d="M544.3 360.8L547.1 363.5" stroke="#e01010" stroke-width="2.7"/>
<path d="M547.1 363.5L550.9 362.4" stroke="#e01010" stroke-width="2.7"/>
<path d="M550.9 362.4L554.6 361.4" stroke="#e01010" stroke-width="2.7"/>
<path d="M554.6 361.4L555.6 357.5" stroke="#e01010" stroke-width="2.7"/>
<path d="M555.6 357.5L556.6 353.7" stroke="#e01010" stroke-width="2.7"/>
<path d="M556.6 353.7L553.7 351.0" stroke="#e01010" stroke-width="2.7"/>
<path d="M553.7 351.0L550.9 348.3" stroke="#1428e8" stroke-width="2.7"/>
<path d="M556.6 353.7L560.3 352.7" stroke="#e01010" stroke-width="2.7"/>
<path d="M560.3 352.7L564.1 351.6" stroke="#e01010" stroke-width="2.7"/>
<path d="M564.1 351.6L566.9 354.3" stroke="#e01010" stroke-width="2.7"/>
<path d="M566.9 354.3L569.8 357.0" stroke="#e01010" stroke-width="2.7"/>
<path d="M569.8 357.0L568.8 360.8" stroke="#e01010" stroke-width="2.7"/>
<path d="M568.8 360.8L567.8 364.7" stroke="#e01010" stroke-width="2.7"/>
<path d="M567.8 364.7L564.1 365.7" stroke="#e01010" stroke-width="2.7"/>
<path d="M564.1 365.7L560.3 366.8" stroke="#e01010" stroke-width="2.7"/>
<path d="M560.3 366.8L557.5 364.1" stroke="#e01010" stroke-width="2.7"/>
<path d="M557.5 364.1L554.6 361.4" stroke="#e01010" stroke-width="2.7"/>
<circle cx="550.9" cy="348.3" r="2.40" fill="url(#gN)"/>
<circle cx="543.4" cy="350.4" r="2.00" fill="url(#gC)"/>
<circle cx="541.4" cy="358.1" r="2.00" fill="url(#gC)"/>
<circle cx="547.1" cy="363.5" r="2.00" fill="url(#gC)"/>
<circle cx="554.6" cy="361.4" r="2.00" fill="url(#gC)"/>
<circle cx="556.6" cy="353.7" r="2.00" fill="url(#gC)"/>
<circle cx="564.1" cy="351.6" r="2.00" fill="url(#gC)"/>
<circle cx="569.8" cy="357.0" r="2.00" fill="url(#gC)"/>
<circle cx="567.8" cy="364.7" r="2.00" fill="url(#gC)"/>
<circle cx="560.3" cy="366.8" r="2.00" fill="url(#gC)"/>
<circle cx="540.0" cy="347.2" r="2.40" fill="url(#gH)"/>
<circle cx="536.9" cy="359.4" r="2.40" fill="url(#gH)"/>
<circle cx="546.0" cy="368.1" r="2.40" fill="url(#gH)"/>
<circle cx="565.2" cy="347.0" r="2.40" fill="url(#gH)"/>
<circle cx="574.3" cy="355.7" r="2.40" fill="url(#gH)"/>
<circle cx="571.2" cy="367.9" r="2.40" fill="url(#gH)"/>
<circle cx="559.2" cy="371.4" r="2.40" fill="url(#gH)"/>
<circle cx="536.8" cy="357.7" r="2.40" fill="url(#gH)"/>
<circle cx="539.9" cy="345.8" r="2.40" fill="url(#gH)"/>
<circle cx="547.5" cy="351.5" r="2.40" fill="url(#gH)"/>
<circle cx="553.1" cy="342.0" r="2.40" fill="url(#gH)"/>
</g></g></svg></body></html>
